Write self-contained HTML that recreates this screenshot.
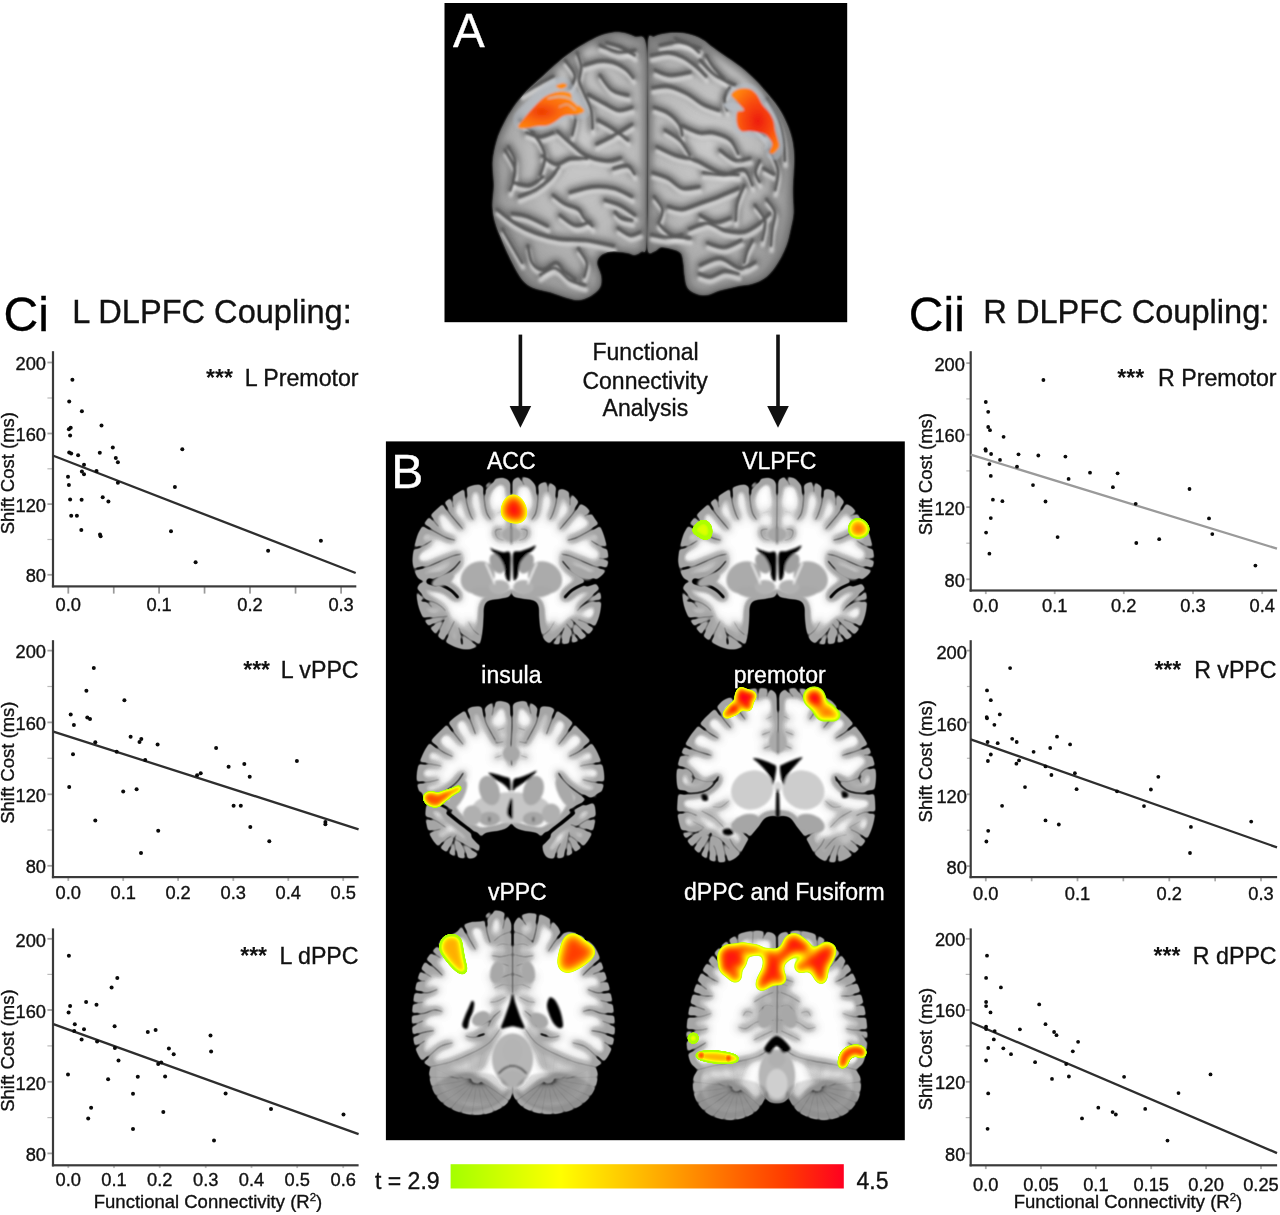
<!DOCTYPE html>
<html lang="en"><head><meta charset="utf-8"><title>Functional connectivity figure</title>
<style>html,body{margin:0;padding:0;background:#fff}body{width:1280px;height:1215px;overflow:hidden}svg{display:block}text{font-family:"Liberation Sans", sans-serif;fill:#111;stroke:#111;stroke-width:.35px}</style></head><body>
<svg width="1280" height="1215" viewBox="0 0 1280 1215">
<defs>
<linearGradient id="cbar" x1="0" y1="0" x2="1" y2="0">
<stop offset="0" stop-color="#a4ff00"/><stop offset="0.28" stop-color="#ffff00"/><stop offset="0.55" stop-color="#ffa400"/><stop offset="0.85" stop-color="#ff3c00"/><stop offset="1" stop-color="#ff0020"/>
</linearGradient>
<filter id="mri" x="-6%" y="-6%" width="112%" height="112%" color-interpolation-filters="sRGB">
<feGaussianBlur in="SourceAlpha" stdDeviation="0.8" result="a1"/>
<feColorMatrix in="a1" type="matrix" values="0 0 0 1 0  0 0 0 1 0  0 0 0 1 0  0 0 0 1 0" result="g1"/>
<feComponentTransfer in="g1" result="s1">
<feFuncR type="table" tableValues="0 0 0.02 0.05 0.1 0.16 0.23 0.30 0.37 0.44 0.50 0.55 0.58 0.61 0.63 0.64 0.65 0.65 0.65 0.65 0.65"/><feFuncG type="table" tableValues="0 0 0.02 0.05 0.1 0.16 0.23 0.30 0.37 0.44 0.50 0.55 0.58 0.61 0.63 0.64 0.65 0.65 0.65 0.65 0.65"/><feFuncB type="table" tableValues="0 0 0.02 0.05 0.1 0.16 0.23 0.30 0.37 0.44 0.50 0.55 0.58 0.61 0.63 0.64 0.65 0.65 0.65 0.65 0.65"/>
<feFuncA type="table" tableValues="0 1 1 1 1 1 1 1 1 1 1"/>
</feComponentTransfer>
<feGaussianBlur in="SourceAlpha" stdDeviation="4" result="a2"/>
<feColorMatrix in="a2" type="matrix" values="0 0 0 1 0  0 0 0 1 0  0 0 0 1 0  0 0 0 1 0" result="g2"/>
<feComponentTransfer in="g2" result="s2">
<feFuncR type="table" tableValues="0 0 0 0 0 0 0 0 0 0 0 0 0 0 0 0 0 0.03 0.12 0.28 0.35"/><feFuncG type="table" tableValues="0 0 0 0 0 0 0 0 0 0 0 0 0 0 0 0 0 0.03 0.12 0.28 0.35"/><feFuncB type="table" tableValues="0 0 0 0 0 0 0 0 0 0 0 0 0 0 0 0 0 0.03 0.12 0.28 0.35"/>
<feFuncA type="table" tableValues="0 1 1 1 1 1 1 1 1 1 1"/>
</feComponentTransfer>
<feComposite in="s1" in2="s2" operator="arithmetic" k1="0" k2="1" k3="1" k4="0"/>
</filter>


<filter id="bl1" x="-10%" y="-10%" width="120%" height="120%"><feGaussianBlur stdDeviation="0.8"/></filter>
<filter id="bl2" x="-15%" y="-15%" width="130%" height="130%"><feGaussianBlur stdDeviation="1.6"/></filter>
<filter id="bl3" x="-20%" y="-20%" width="140%" height="140%"><feGaussianBlur stdDeviation="3"/></filter>
</defs>

<rect width="1280" height="1215" fill="#fff"/>
<rect x="444.5" y="3" width="402.7" height="319.2" fill="#000"/>
<rect x="385.9" y="441.4" width="518.9" height="698.8" fill="#000"/>
<defs>
<radialGradient id="hgL" cx="0.58" cy="0.42" r="0.62"><stop offset="0" stop-color="#cacaca"/><stop offset="0.55" stop-color="#bababa"/><stop offset="1" stop-color="#929292"/></radialGradient>
<radialGradient id="hgR" cx="0.42" cy="0.42" r="0.62"><stop offset="0" stop-color="#cacaca"/><stop offset="0.55" stop-color="#bababa"/><stop offset="1" stop-color="#929292"/></radialGradient>
<clipPath id="cpL"><path d="M645.9,45.3C643.9,31.5 638.9,39.0 634.7,36.9C630.5,34.8 625.3,33.1 620.6,32.7C615.9,32.2 611.2,32.9 606.6,34.1C601.9,35.2 597.7,37.1 592.5,39.7C587.3,42.3 581.2,45.8 575.6,49.5C570.0,53.3 564.1,57.7 558.8,62.2C553.4,66.6 548.7,71.3 543.3,76.2C537.9,81.2 531.3,86.6 526.4,91.7C521.5,96.9 517.5,101.8 513.8,107.2C510.0,112.6 506.7,118.4 503.9,124.1C501.1,129.7 498.7,134.6 496.9,140.9C495.0,147.3 493.4,154.7 492.9,162.0C492.5,169.4 494.1,177.8 494.1,185.2C494.0,192.5 492.4,199.9 492.7,206.2C492.9,212.6 493.8,217.3 495.5,223.1C497.1,229.0 499.7,234.8 502.5,241.4C505.3,248.0 509.1,256.2 512.3,262.5C515.6,268.8 518.7,275.2 522.2,279.4C525.7,283.6 528.8,285.7 533.4,287.8C538.1,289.9 544.7,290.4 550.3,292.0C555.9,293.7 562.5,296.4 567.2,297.7C571.9,298.9 574.7,300.0 578.4,299.8C582.2,299.5 586.2,298.2 589.7,296.2C593.2,294.3 597.7,291.1 599.5,287.8C601.4,284.5 601.4,280.8 600.9,276.6C600.5,272.3 596.5,266.2 596.7,262.5C597.0,258.8 599.5,255.9 602.3,254.1C605.2,252.2 609.4,251.5 613.6,251.2C617.8,251.0 624.1,252.1 627.7,252.7C631.2,253.2 632.3,255.0 634.7,254.8C637.0,254.5 639.8,252.5 641.7,251.2C643.6,250.0 645.1,255.6 645.9,247.0C646.8,238.5 646.5,221.2 646.6,200.0C646.7,178.8 646.9,145.8 646.8,120.0C646.7,94.2 648.0,59.2 645.9,45.3Z"/></clipPath><clipPath id="cpR"><path d="M648.2,43.9C649.1,30.1 650.7,38.6 654.1,36.9C657.4,35.1 662.7,33.8 668.1,33.4C673.5,32.9 680.8,33.0 686.4,34.1C692.0,35.1 697.4,37.3 701.9,39.7C706.3,42.0 708.9,45.1 713.1,48.1C717.3,51.2 722.5,54.7 727.2,58.0C731.9,61.2 736.6,64.1 741.2,67.8C745.9,71.6 751.1,76.2 755.3,80.5C759.5,84.7 762.8,88.7 766.6,93.1C770.3,97.6 774.5,102.3 777.8,107.2C781.1,112.1 783.9,117.3 786.2,122.7C788.6,128.0 790.6,133.7 791.9,139.5C793.2,145.4 793.8,152.0 794.0,157.8C794.2,163.7 793.5,169.0 793.3,174.7C793.0,180.4 792.6,185.8 792.6,192.2C792.6,198.6 793.6,207.2 793.3,213.3C792.9,219.4 791.6,223.4 790.5,228.8C789.3,234.1 788.4,240.0 786.2,245.6C784.1,251.2 781.1,257.3 777.8,262.5C774.5,267.7 770.8,273.0 766.6,276.6C762.3,280.1 757.7,282.0 752.5,283.6C747.3,285.2 741.2,285.2 735.6,286.4C730.0,287.6 723.4,289.2 718.8,290.6C714.1,292.0 711.2,294.4 707.5,294.8C703.8,295.3 699.5,294.6 696.2,293.4C693.0,292.3 689.7,290.6 687.8,287.8C685.9,285.0 685.7,280.8 685.0,276.6C684.3,272.3 684.3,266.5 683.6,262.5C682.9,258.5 682.9,255.0 680.8,252.7C678.7,250.3 674.2,249.4 670.9,248.4C667.7,247.5 663.9,246.6 661.1,247.0C658.3,247.5 656.3,251.0 654.1,251.2C651.8,251.5 648.7,257.0 647.7,248.4C646.8,239.9 648.1,221.4 648.2,200.0C648.3,178.6 648.3,146.0 648.3,120.0C648.3,94.0 647.2,57.8 648.2,43.9Z"/></clipPath>
</defs>
<g filter="url(#bl1)"><path d="M645.9,45.3C643.9,31.5 638.9,39.0 634.7,36.9C630.5,34.8 625.3,33.1 620.6,32.7C615.9,32.2 611.2,32.9 606.6,34.1C601.9,35.2 597.7,37.1 592.5,39.7C587.3,42.3 581.2,45.8 575.6,49.5C570.0,53.3 564.1,57.7 558.8,62.2C553.4,66.6 548.7,71.3 543.3,76.2C537.9,81.2 531.3,86.6 526.4,91.7C521.5,96.9 517.5,101.8 513.8,107.2C510.0,112.6 506.7,118.4 503.9,124.1C501.1,129.7 498.7,134.6 496.9,140.9C495.0,147.3 493.4,154.7 492.9,162.0C492.5,169.4 494.1,177.8 494.1,185.2C494.0,192.5 492.4,199.9 492.7,206.2C492.9,212.6 493.8,217.3 495.5,223.1C497.1,229.0 499.7,234.8 502.5,241.4C505.3,248.0 509.1,256.2 512.3,262.5C515.6,268.8 518.7,275.2 522.2,279.4C525.7,283.6 528.8,285.7 533.4,287.8C538.1,289.9 544.7,290.4 550.3,292.0C555.9,293.7 562.5,296.4 567.2,297.7C571.9,298.9 574.7,300.0 578.4,299.8C582.2,299.5 586.2,298.2 589.7,296.2C593.2,294.3 597.7,291.1 599.5,287.8C601.4,284.5 601.4,280.8 600.9,276.6C600.5,272.3 596.5,266.2 596.7,262.5C597.0,258.8 599.5,255.9 602.3,254.1C605.2,252.2 609.4,251.5 613.6,251.2C617.8,251.0 624.1,252.1 627.7,252.7C631.2,253.2 632.3,255.0 634.7,254.8C637.0,254.5 639.8,252.5 641.7,251.2C643.6,250.0 645.1,255.6 645.9,247.0C646.8,238.5 646.5,221.2 646.6,200.0C646.7,178.8 646.9,145.8 646.8,120.0C646.7,94.2 648.0,59.2 645.9,45.3Z" fill="url(#hgL)"/></g>
<g clip-path="url(#cpL)">
<g filter="url(#bl3)" fill="none" stroke-linecap="round" stroke-linejoin="round">
<path d="M645.9,45.3C643.9,31.5 638.9,39.0 634.7,36.9C630.5,34.8 625.3,33.1 620.6,32.7C615.9,32.2 611.2,32.9 606.6,34.1C601.9,35.2 597.7,37.1 592.5,39.7C587.3,42.3 581.2,45.8 575.6,49.5C570.0,53.3 564.1,57.7 558.8,62.2C553.4,66.6 548.7,71.3 543.3,76.2C537.9,81.2 531.3,86.6 526.4,91.7C521.5,96.9 517.5,101.8 513.8,107.2C510.0,112.6 506.7,118.4 503.9,124.1C501.1,129.7 498.7,134.6 496.9,140.9C495.0,147.3 493.4,154.7 492.9,162.0C492.5,169.4 494.1,177.8 494.1,185.2C494.0,192.5 492.4,199.9 492.7,206.2C492.9,212.6 493.8,217.3 495.5,223.1C497.1,229.0 499.7,234.8 502.5,241.4C505.3,248.0 509.1,256.2 512.3,262.5C515.6,268.8 518.7,275.2 522.2,279.4C525.7,283.6 528.8,285.7 533.4,287.8C538.1,289.9 544.7,290.4 550.3,292.0C555.9,293.7 562.5,296.4 567.2,297.7C571.9,298.9 574.7,300.0 578.4,299.8C582.2,299.5 586.2,298.2 589.7,296.2C593.2,294.3 597.7,291.1 599.5,287.8C601.4,284.5 601.4,280.8 600.9,276.6C600.5,272.3 596.5,266.2 596.7,262.5C597.0,258.8 599.5,255.9 602.3,254.1C605.2,252.2 609.4,251.5 613.6,251.2C617.8,251.0 624.1,252.1 627.7,252.7C631.2,253.2 632.3,255.0 634.7,254.8C637.0,254.5 639.8,252.5 641.7,251.2C643.6,250.0 645.1,255.6 645.9,247.0C646.8,238.5 646.5,221.2 646.6,200.0C646.7,178.8 646.9,145.8 646.8,120.0C646.7,94.2 648.0,59.2 645.9,45.3Z" stroke="#6a6a6a" stroke-width="9" opacity="0.75"/>
<path d="M577.0,52.3C577.7,54.7 580.9,61.7 581.2,66.4C581.6,71.1 578.7,76.0 579.1,80.5C579.6,84.9 582.1,88.2 584.1,93.1C586.1,98.0 589.7,104.1 591.1,110.0C592.5,115.9 592.3,125.2 592.5,128.3" stroke="#707070" stroke-width="9" opacity="0.95"/>
<path d="M584.1,65.0C586.6,64.3 594.6,61.2 599.5,60.8C604.5,60.3 609.1,60.8 613.6,62.2C618.0,63.6 623.0,66.6 626.2,69.2C629.5,71.8 632.1,76.2 633.3,77.7" stroke="#707070" stroke-width="9" opacity="0.95"/>
<path d="M588.3,94.5C590.9,95.9 598.8,100.4 603.8,103.0C608.7,105.5 613.1,109.3 617.8,110.0C622.5,110.7 629.5,107.7 631.9,107.2" stroke="#707070" stroke-width="9" opacity="0.95"/>
<path d="M557.3,131.1C559.7,133.2 566.7,139.8 571.4,143.8C576.1,147.7 579.6,152.2 585.5,155.0C591.3,157.8 600.7,160.2 606.6,160.6C612.4,161.1 618.3,158.3 620.6,157.8" stroke="#707070" stroke-width="9" opacity="0.95"/>
<path d="M596.7,143.8C599.5,142.3 607.7,138.6 613.6,135.3C619.5,132.0 628.8,125.9 631.9,124.1" stroke="#707070" stroke-width="9" opacity="0.95"/>
<path d="M508.1,146.6C509.3,148.9 514.5,154.8 515.2,160.6C515.9,166.5 512.8,178.2 512.3,181.7" stroke="#707070" stroke-width="9" opacity="0.95"/>
<path d="M522.2,93.1C525.0,91.5 533.9,86.1 539.1,83.3C544.2,80.5 550.8,77.4 553.1,76.2" stroke="#707070" stroke-width="9" opacity="0.95"/>
<path d="M606.6,42.5C608.9,43.2 615.9,44.6 620.6,46.7C625.3,48.8 632.3,53.8 634.7,55.2" stroke="#707070" stroke-width="9" opacity="0.95"/>
<path d="M526.4,132.5C528.5,133.2 534.6,136.7 539.1,136.7C543.5,136.7 550.8,133.2 553.1,132.5" stroke="#707070" stroke-width="9" opacity="0.95"/>
<path d="M512.3,182.3C515.2,182.8 524.1,186.1 529.2,185.2C534.4,184.2 540.9,178.1 543.3,176.7" stroke="#707070" stroke-width="9" opacity="0.95"/>
<path d="M519.4,196.4C522.2,195.2 531.1,192.4 536.2,189.4C541.4,186.3 546.6,181.9 550.3,178.1C554.1,174.4 557.3,168.8 558.8,166.9" stroke="#707070" stroke-width="9" opacity="0.95"/>
<path d="M553.1,195.0C555.0,196.4 560.2,201.1 564.4,203.4C568.6,205.8 575.2,206.7 578.4,209.1C581.7,211.4 581.7,214.7 584.1,217.5C586.4,220.3 591.1,224.5 592.5,225.9" stroke="#707070" stroke-width="9" opacity="0.95"/>
<path d="M570.0,192.2C573.8,191.2 585.2,187.3 592.5,186.6C599.8,185.9 607.0,186.3 613.6,188.0C620.2,189.6 628.8,195.0 631.9,196.4" stroke="#707070" stroke-width="9" opacity="0.95"/>
<path d="M541.9,155.6C544.2,157.0 551.2,163.6 555.9,164.1C560.6,164.5 564.8,159.4 570.0,158.4C575.2,157.5 584.1,158.4 586.9,158.4" stroke="#707070" stroke-width="9" opacity="0.95"/>
<path d="M496.9,209.1C499.9,211.4 508.6,219.1 515.2,223.1C521.7,227.1 529.0,230.4 536.2,233.0C543.5,235.5 550.5,237.4 558.8,238.6C567.0,239.8 576.3,238.8 585.5,240.0C594.6,241.2 608.9,244.7 613.6,245.6" stroke="#707070" stroke-width="9" opacity="0.95"/>
<path d="M512.3,213.3C514.7,213.8 520.5,214.0 526.4,216.1C532.3,218.2 544.0,224.3 547.5,225.9" stroke="#707070" stroke-width="9" opacity="0.95"/>
<path d="M527.8,245.6C528.5,248.4 529.5,258.5 532.0,262.5C534.6,266.5 539.3,269.5 543.3,269.5C547.3,269.5 552.4,262.3 555.9,262.5C559.5,262.7 561.1,268.1 564.4,270.9C567.7,273.8 573.8,278.0 575.6,279.4" stroke="#707070" stroke-width="9" opacity="0.95"/>
<path d="M615.0,211.9C615.9,212.8 617.8,216.1 620.6,217.5C623.4,218.9 630.0,219.8 631.9,220.3" stroke="#707070" stroke-width="9" opacity="0.95"/>
<path d="M613.6,168.3C615.9,167.8 624.1,164.5 627.7,165.5C631.2,166.4 633.5,172.5 634.7,173.9" stroke="#707070" stroke-width="9" opacity="0.95"/>
<path d="M578.4,248.4C579.8,250.8 585.9,257.8 586.9,262.5C587.8,267.2 584.5,274.2 584.1,276.6" stroke="#707070" stroke-width="9" opacity="0.95"/>
<path d="M502.5,228.8C504.1,231.6 509.1,240.0 512.3,245.6C515.6,251.2 520.5,259.7 522.2,262.5" stroke="#707070" stroke-width="9" opacity="0.95"/>
<path d="M520.0,120.0C522.5,122.5 530.8,129.2 535.0,135.0C539.2,140.8 544.2,148.3 545.0,155.0C545.8,161.7 540.8,171.7 540.0,175.0" stroke="#707070" stroke-width="9" opacity="0.95"/>
<path d="M560.0,100.0C562.5,102.5 573.0,109.2 575.0,115.0C577.0,120.8 572.5,131.7 572.0,135.0" stroke="#707070" stroke-width="9" opacity="0.95"/>
<path d="M600.0,75.0C602.0,77.5 607.3,86.7 612.0,90.0C616.7,93.3 625.3,94.2 628.0,95.0" stroke="#707070" stroke-width="9" opacity="0.95"/>
<path d="M598.0,120.0C600.3,121.3 607.0,124.7 612.0,128.0C617.0,131.3 625.3,138.0 628.0,140.0" stroke="#707070" stroke-width="9" opacity="0.95"/>
<path d="M560.0,215.0C562.5,216.7 570.0,223.8 575.0,225.0C580.0,226.2 587.5,222.5 590.0,222.0" stroke="#707070" stroke-width="9" opacity="0.95"/>
<path d="M605.0,200.0C607.5,200.8 615.0,202.5 620.0,205.0C625.0,207.5 632.5,213.3 635.0,215.0" stroke="#707070" stroke-width="9" opacity="0.95"/>
<path d="M540.0,275.0C542.5,273.8 550.0,267.2 555.0,268.0C560.0,268.8 565.0,277.2 570.0,280.0C575.0,282.8 582.5,284.2 585.0,285.0" stroke="#707070" stroke-width="9" opacity="0.95"/>
<path d="M505.0,150.0C506.7,153.3 514.2,163.3 515.0,170.0C515.8,176.7 510.8,186.7 510.0,190.0" stroke="#707070" stroke-width="9" opacity="0.95"/>
<path d="M600.0,45.0C603.0,46.2 612.2,51.2 618.0,52.0C623.8,52.8 632.2,50.3 635.0,50.0" stroke="#707070" stroke-width="9" opacity="0.95"/>
<path d="M565.0,60.0C566.7,62.5 574.2,70.3 575.0,75.0C575.8,79.7 570.8,85.8 570.0,88.0" stroke="#707070" stroke-width="9" opacity="0.95"/>
<path d="M618.0,228.0C620.0,229.2 626.3,234.3 630.0,235.0C633.7,235.7 638.3,232.5 640.0,232.0" stroke="#707070" stroke-width="9" opacity="0.95"/>
</g>
<g filter="url(#bl2)" fill="none" stroke-linecap="round" stroke-linejoin="round">
<path d="M577.0,52.3C577.7,54.7 580.9,61.7 581.2,66.4C581.6,71.1 578.7,76.0 579.1,80.5C579.6,84.9 582.1,88.2 584.1,93.1C586.1,98.0 589.7,104.1 591.1,110.0C592.5,115.9 592.3,125.2 592.5,128.3" stroke="#dadada" stroke-width="5" transform="translate(0.8,5)" opacity="0.8"/>
<path d="M584.1,65.0C586.6,64.3 594.6,61.2 599.5,60.8C604.5,60.3 609.1,60.8 613.6,62.2C618.0,63.6 623.0,66.6 626.2,69.2C629.5,71.8 632.1,76.2 633.3,77.7" stroke="#dadada" stroke-width="5" transform="translate(0.8,5)" opacity="0.8"/>
<path d="M588.3,94.5C590.9,95.9 598.8,100.4 603.8,103.0C608.7,105.5 613.1,109.3 617.8,110.0C622.5,110.7 629.5,107.7 631.9,107.2" stroke="#dadada" stroke-width="5" transform="translate(0.8,5)" opacity="0.8"/>
<path d="M557.3,131.1C559.7,133.2 566.7,139.8 571.4,143.8C576.1,147.7 579.6,152.2 585.5,155.0C591.3,157.8 600.7,160.2 606.6,160.6C612.4,161.1 618.3,158.3 620.6,157.8" stroke="#dadada" stroke-width="5" transform="translate(0.8,5)" opacity="0.8"/>
<path d="M596.7,143.8C599.5,142.3 607.7,138.6 613.6,135.3C619.5,132.0 628.8,125.9 631.9,124.1" stroke="#dadada" stroke-width="5" transform="translate(0.8,5)" opacity="0.8"/>
<path d="M508.1,146.6C509.3,148.9 514.5,154.8 515.2,160.6C515.9,166.5 512.8,178.2 512.3,181.7" stroke="#dadada" stroke-width="5" transform="translate(0.8,5)" opacity="0.8"/>
<path d="M522.2,93.1C525.0,91.5 533.9,86.1 539.1,83.3C544.2,80.5 550.8,77.4 553.1,76.2" stroke="#dadada" stroke-width="5" transform="translate(0.8,5)" opacity="0.8"/>
<path d="M606.6,42.5C608.9,43.2 615.9,44.6 620.6,46.7C625.3,48.8 632.3,53.8 634.7,55.2" stroke="#dadada" stroke-width="5" transform="translate(0.8,5)" opacity="0.8"/>
<path d="M526.4,132.5C528.5,133.2 534.6,136.7 539.1,136.7C543.5,136.7 550.8,133.2 553.1,132.5" stroke="#dadada" stroke-width="5" transform="translate(0.8,5)" opacity="0.8"/>
<path d="M512.3,182.3C515.2,182.8 524.1,186.1 529.2,185.2C534.4,184.2 540.9,178.1 543.3,176.7" stroke="#dadada" stroke-width="5" transform="translate(0.8,5)" opacity="0.8"/>
<path d="M519.4,196.4C522.2,195.2 531.1,192.4 536.2,189.4C541.4,186.3 546.6,181.9 550.3,178.1C554.1,174.4 557.3,168.8 558.8,166.9" stroke="#dadada" stroke-width="5" transform="translate(0.8,5)" opacity="0.8"/>
<path d="M553.1,195.0C555.0,196.4 560.2,201.1 564.4,203.4C568.6,205.8 575.2,206.7 578.4,209.1C581.7,211.4 581.7,214.7 584.1,217.5C586.4,220.3 591.1,224.5 592.5,225.9" stroke="#dadada" stroke-width="5" transform="translate(0.8,5)" opacity="0.8"/>
<path d="M570.0,192.2C573.8,191.2 585.2,187.3 592.5,186.6C599.8,185.9 607.0,186.3 613.6,188.0C620.2,189.6 628.8,195.0 631.9,196.4" stroke="#dadada" stroke-width="5" transform="translate(0.8,5)" opacity="0.8"/>
<path d="M541.9,155.6C544.2,157.0 551.2,163.6 555.9,164.1C560.6,164.5 564.8,159.4 570.0,158.4C575.2,157.5 584.1,158.4 586.9,158.4" stroke="#dadada" stroke-width="5" transform="translate(0.8,5)" opacity="0.8"/>
<path d="M496.9,209.1C499.9,211.4 508.6,219.1 515.2,223.1C521.7,227.1 529.0,230.4 536.2,233.0C543.5,235.5 550.5,237.4 558.8,238.6C567.0,239.8 576.3,238.8 585.5,240.0C594.6,241.2 608.9,244.7 613.6,245.6" stroke="#dadada" stroke-width="5" transform="translate(0.8,5)" opacity="0.8"/>
<path d="M512.3,213.3C514.7,213.8 520.5,214.0 526.4,216.1C532.3,218.2 544.0,224.3 547.5,225.9" stroke="#dadada" stroke-width="5" transform="translate(0.8,5)" opacity="0.8"/>
<path d="M527.8,245.6C528.5,248.4 529.5,258.5 532.0,262.5C534.6,266.5 539.3,269.5 543.3,269.5C547.3,269.5 552.4,262.3 555.9,262.5C559.5,262.7 561.1,268.1 564.4,270.9C567.7,273.8 573.8,278.0 575.6,279.4" stroke="#dadada" stroke-width="5" transform="translate(0.8,5)" opacity="0.8"/>
<path d="M615.0,211.9C615.9,212.8 617.8,216.1 620.6,217.5C623.4,218.9 630.0,219.8 631.9,220.3" stroke="#dadada" stroke-width="5" transform="translate(0.8,5)" opacity="0.8"/>
<path d="M613.6,168.3C615.9,167.8 624.1,164.5 627.7,165.5C631.2,166.4 633.5,172.5 634.7,173.9" stroke="#dadada" stroke-width="5" transform="translate(0.8,5)" opacity="0.8"/>
<path d="M578.4,248.4C579.8,250.8 585.9,257.8 586.9,262.5C587.8,267.2 584.5,274.2 584.1,276.6" stroke="#dadada" stroke-width="5" transform="translate(0.8,5)" opacity="0.8"/>
<path d="M502.5,228.8C504.1,231.6 509.1,240.0 512.3,245.6C515.6,251.2 520.5,259.7 522.2,262.5" stroke="#dadada" stroke-width="5" transform="translate(0.8,5)" opacity="0.8"/>
<path d="M520.0,120.0C522.5,122.5 530.8,129.2 535.0,135.0C539.2,140.8 544.2,148.3 545.0,155.0C545.8,161.7 540.8,171.7 540.0,175.0" stroke="#dadada" stroke-width="5" transform="translate(0.8,5)" opacity="0.8"/>
<path d="M560.0,100.0C562.5,102.5 573.0,109.2 575.0,115.0C577.0,120.8 572.5,131.7 572.0,135.0" stroke="#dadada" stroke-width="5" transform="translate(0.8,5)" opacity="0.8"/>
<path d="M600.0,75.0C602.0,77.5 607.3,86.7 612.0,90.0C616.7,93.3 625.3,94.2 628.0,95.0" stroke="#dadada" stroke-width="5" transform="translate(0.8,5)" opacity="0.8"/>
<path d="M598.0,120.0C600.3,121.3 607.0,124.7 612.0,128.0C617.0,131.3 625.3,138.0 628.0,140.0" stroke="#dadada" stroke-width="5" transform="translate(0.8,5)" opacity="0.8"/>
<path d="M560.0,215.0C562.5,216.7 570.0,223.8 575.0,225.0C580.0,226.2 587.5,222.5 590.0,222.0" stroke="#dadada" stroke-width="5" transform="translate(0.8,5)" opacity="0.8"/>
<path d="M605.0,200.0C607.5,200.8 615.0,202.5 620.0,205.0C625.0,207.5 632.5,213.3 635.0,215.0" stroke="#dadada" stroke-width="5" transform="translate(0.8,5)" opacity="0.8"/>
<path d="M540.0,275.0C542.5,273.8 550.0,267.2 555.0,268.0C560.0,268.8 565.0,277.2 570.0,280.0C575.0,282.8 582.5,284.2 585.0,285.0" stroke="#dadada" stroke-width="5" transform="translate(0.8,5)" opacity="0.8"/>
<path d="M505.0,150.0C506.7,153.3 514.2,163.3 515.0,170.0C515.8,176.7 510.8,186.7 510.0,190.0" stroke="#dadada" stroke-width="5" transform="translate(0.8,5)" opacity="0.8"/>
<path d="M600.0,45.0C603.0,46.2 612.2,51.2 618.0,52.0C623.8,52.8 632.2,50.3 635.0,50.0" stroke="#dadada" stroke-width="5" transform="translate(0.8,5)" opacity="0.8"/>
<path d="M565.0,60.0C566.7,62.5 574.2,70.3 575.0,75.0C575.8,79.7 570.8,85.8 570.0,88.0" stroke="#dadada" stroke-width="5" transform="translate(0.8,5)" opacity="0.8"/>
<path d="M618.0,228.0C620.0,229.2 626.3,234.3 630.0,235.0C633.7,235.7 638.3,232.5 640.0,232.0" stroke="#dadada" stroke-width="5" transform="translate(0.8,5)" opacity="0.8"/>
</g>
<g filter="url(#bl1)" fill="none" stroke-linecap="round" stroke-linejoin="round">
<path d="M577.0,52.3C577.7,54.7 580.9,61.7 581.2,66.4C581.6,71.1 578.7,76.0 579.1,80.5C579.6,84.9 582.1,88.2 584.1,93.1C586.1,98.0 589.7,104.1 591.1,110.0C592.5,115.9 592.3,125.2 592.5,128.3" stroke="#585858" stroke-width="3.2"/>
<path d="M584.1,65.0C586.6,64.3 594.6,61.2 599.5,60.8C604.5,60.3 609.1,60.8 613.6,62.2C618.0,63.6 623.0,66.6 626.2,69.2C629.5,71.8 632.1,76.2 633.3,77.7" stroke="#585858" stroke-width="3.2"/>
<path d="M588.3,94.5C590.9,95.9 598.8,100.4 603.8,103.0C608.7,105.5 613.1,109.3 617.8,110.0C622.5,110.7 629.5,107.7 631.9,107.2" stroke="#585858" stroke-width="3.2"/>
<path d="M557.3,131.1C559.7,133.2 566.7,139.8 571.4,143.8C576.1,147.7 579.6,152.2 585.5,155.0C591.3,157.8 600.7,160.2 606.6,160.6C612.4,161.1 618.3,158.3 620.6,157.8" stroke="#585858" stroke-width="3.2"/>
<path d="M596.7,143.8C599.5,142.3 607.7,138.6 613.6,135.3C619.5,132.0 628.8,125.9 631.9,124.1" stroke="#585858" stroke-width="3.2"/>
<path d="M508.1,146.6C509.3,148.9 514.5,154.8 515.2,160.6C515.9,166.5 512.8,178.2 512.3,181.7" stroke="#585858" stroke-width="3.2"/>
<path d="M522.2,93.1C525.0,91.5 533.9,86.1 539.1,83.3C544.2,80.5 550.8,77.4 553.1,76.2" stroke="#585858" stroke-width="3.2"/>
<path d="M606.6,42.5C608.9,43.2 615.9,44.6 620.6,46.7C625.3,48.8 632.3,53.8 634.7,55.2" stroke="#585858" stroke-width="3.2"/>
<path d="M526.4,132.5C528.5,133.2 534.6,136.7 539.1,136.7C543.5,136.7 550.8,133.2 553.1,132.5" stroke="#585858" stroke-width="3.2"/>
<path d="M512.3,182.3C515.2,182.8 524.1,186.1 529.2,185.2C534.4,184.2 540.9,178.1 543.3,176.7" stroke="#585858" stroke-width="3.2"/>
<path d="M519.4,196.4C522.2,195.2 531.1,192.4 536.2,189.4C541.4,186.3 546.6,181.9 550.3,178.1C554.1,174.4 557.3,168.8 558.8,166.9" stroke="#585858" stroke-width="3.2"/>
<path d="M553.1,195.0C555.0,196.4 560.2,201.1 564.4,203.4C568.6,205.8 575.2,206.7 578.4,209.1C581.7,211.4 581.7,214.7 584.1,217.5C586.4,220.3 591.1,224.5 592.5,225.9" stroke="#585858" stroke-width="3.2"/>
<path d="M570.0,192.2C573.8,191.2 585.2,187.3 592.5,186.6C599.8,185.9 607.0,186.3 613.6,188.0C620.2,189.6 628.8,195.0 631.9,196.4" stroke="#585858" stroke-width="3.2"/>
<path d="M541.9,155.6C544.2,157.0 551.2,163.6 555.9,164.1C560.6,164.5 564.8,159.4 570.0,158.4C575.2,157.5 584.1,158.4 586.9,158.4" stroke="#585858" stroke-width="3.2"/>
<path d="M496.9,209.1C499.9,211.4 508.6,219.1 515.2,223.1C521.7,227.1 529.0,230.4 536.2,233.0C543.5,235.5 550.5,237.4 558.8,238.6C567.0,239.8 576.3,238.8 585.5,240.0C594.6,241.2 608.9,244.7 613.6,245.6" stroke="#585858" stroke-width="3.2"/>
<path d="M512.3,213.3C514.7,213.8 520.5,214.0 526.4,216.1C532.3,218.2 544.0,224.3 547.5,225.9" stroke="#585858" stroke-width="3.2"/>
<path d="M527.8,245.6C528.5,248.4 529.5,258.5 532.0,262.5C534.6,266.5 539.3,269.5 543.3,269.5C547.3,269.5 552.4,262.3 555.9,262.5C559.5,262.7 561.1,268.1 564.4,270.9C567.7,273.8 573.8,278.0 575.6,279.4" stroke="#585858" stroke-width="3.2"/>
<path d="M615.0,211.9C615.9,212.8 617.8,216.1 620.6,217.5C623.4,218.9 630.0,219.8 631.9,220.3" stroke="#585858" stroke-width="3.2"/>
<path d="M613.6,168.3C615.9,167.8 624.1,164.5 627.7,165.5C631.2,166.4 633.5,172.5 634.7,173.9" stroke="#585858" stroke-width="3.2"/>
<path d="M578.4,248.4C579.8,250.8 585.9,257.8 586.9,262.5C587.8,267.2 584.5,274.2 584.1,276.6" stroke="#585858" stroke-width="3.2"/>
<path d="M502.5,228.8C504.1,231.6 509.1,240.0 512.3,245.6C515.6,251.2 520.5,259.7 522.2,262.5" stroke="#585858" stroke-width="3.2"/>
<path d="M520.0,120.0C522.5,122.5 530.8,129.2 535.0,135.0C539.2,140.8 544.2,148.3 545.0,155.0C545.8,161.7 540.8,171.7 540.0,175.0" stroke="#585858" stroke-width="3.2"/>
<path d="M560.0,100.0C562.5,102.5 573.0,109.2 575.0,115.0C577.0,120.8 572.5,131.7 572.0,135.0" stroke="#585858" stroke-width="3.2"/>
<path d="M600.0,75.0C602.0,77.5 607.3,86.7 612.0,90.0C616.7,93.3 625.3,94.2 628.0,95.0" stroke="#585858" stroke-width="3.2"/>
<path d="M598.0,120.0C600.3,121.3 607.0,124.7 612.0,128.0C617.0,131.3 625.3,138.0 628.0,140.0" stroke="#585858" stroke-width="3.2"/>
<path d="M560.0,215.0C562.5,216.7 570.0,223.8 575.0,225.0C580.0,226.2 587.5,222.5 590.0,222.0" stroke="#585858" stroke-width="3.2"/>
<path d="M605.0,200.0C607.5,200.8 615.0,202.5 620.0,205.0C625.0,207.5 632.5,213.3 635.0,215.0" stroke="#585858" stroke-width="3.2"/>
<path d="M540.0,275.0C542.5,273.8 550.0,267.2 555.0,268.0C560.0,268.8 565.0,277.2 570.0,280.0C575.0,282.8 582.5,284.2 585.0,285.0" stroke="#585858" stroke-width="3.2"/>
<path d="M505.0,150.0C506.7,153.3 514.2,163.3 515.0,170.0C515.8,176.7 510.8,186.7 510.0,190.0" stroke="#585858" stroke-width="3.2"/>
<path d="M600.0,45.0C603.0,46.2 612.2,51.2 618.0,52.0C623.8,52.8 632.2,50.3 635.0,50.0" stroke="#585858" stroke-width="3.2"/>
<path d="M565.0,60.0C566.7,62.5 574.2,70.3 575.0,75.0C575.8,79.7 570.8,85.8 570.0,88.0" stroke="#585858" stroke-width="3.2"/>
<path d="M618.0,228.0C620.0,229.2 626.3,234.3 630.0,235.0C633.7,235.7 638.3,232.5 640.0,232.0" stroke="#585858" stroke-width="3.2"/>
</g>
</g>
<g filter="url(#bl1)"><path d="M648.2,43.9C649.1,30.1 650.7,38.6 654.1,36.9C657.4,35.1 662.7,33.8 668.1,33.4C673.5,32.9 680.8,33.0 686.4,34.1C692.0,35.1 697.4,37.3 701.9,39.7C706.3,42.0 708.9,45.1 713.1,48.1C717.3,51.2 722.5,54.7 727.2,58.0C731.9,61.2 736.6,64.1 741.2,67.8C745.9,71.6 751.1,76.2 755.3,80.5C759.5,84.7 762.8,88.7 766.6,93.1C770.3,97.6 774.5,102.3 777.8,107.2C781.1,112.1 783.9,117.3 786.2,122.7C788.6,128.0 790.6,133.7 791.9,139.5C793.2,145.4 793.8,152.0 794.0,157.8C794.2,163.7 793.5,169.0 793.3,174.7C793.0,180.4 792.6,185.8 792.6,192.2C792.6,198.6 793.6,207.2 793.3,213.3C792.9,219.4 791.6,223.4 790.5,228.8C789.3,234.1 788.4,240.0 786.2,245.6C784.1,251.2 781.1,257.3 777.8,262.5C774.5,267.7 770.8,273.0 766.6,276.6C762.3,280.1 757.7,282.0 752.5,283.6C747.3,285.2 741.2,285.2 735.6,286.4C730.0,287.6 723.4,289.2 718.8,290.6C714.1,292.0 711.2,294.4 707.5,294.8C703.8,295.3 699.5,294.6 696.2,293.4C693.0,292.3 689.7,290.6 687.8,287.8C685.9,285.0 685.7,280.8 685.0,276.6C684.3,272.3 684.3,266.5 683.6,262.5C682.9,258.5 682.9,255.0 680.8,252.7C678.7,250.3 674.2,249.4 670.9,248.4C667.7,247.5 663.9,246.6 661.1,247.0C658.3,247.5 656.3,251.0 654.1,251.2C651.8,251.5 648.7,257.0 647.7,248.4C646.8,239.9 648.1,221.4 648.2,200.0C648.3,178.6 648.3,146.0 648.3,120.0C648.3,94.0 647.2,57.8 648.2,43.9Z" fill="url(#hgR)"/></g>
<g clip-path="url(#cpR)">
<g filter="url(#bl3)" fill="none" stroke-linecap="round" stroke-linejoin="round">
<path d="M648.2,43.9C649.1,30.1 650.7,38.6 654.1,36.9C657.4,35.1 662.7,33.8 668.1,33.4C673.5,32.9 680.8,33.0 686.4,34.1C692.0,35.1 697.4,37.3 701.9,39.7C706.3,42.0 708.9,45.1 713.1,48.1C717.3,51.2 722.5,54.7 727.2,58.0C731.9,61.2 736.6,64.1 741.2,67.8C745.9,71.6 751.1,76.2 755.3,80.5C759.5,84.7 762.8,88.7 766.6,93.1C770.3,97.6 774.5,102.3 777.8,107.2C781.1,112.1 783.9,117.3 786.2,122.7C788.6,128.0 790.6,133.7 791.9,139.5C793.2,145.4 793.8,152.0 794.0,157.8C794.2,163.7 793.5,169.0 793.3,174.7C793.0,180.4 792.6,185.8 792.6,192.2C792.6,198.6 793.6,207.2 793.3,213.3C792.9,219.4 791.6,223.4 790.5,228.8C789.3,234.1 788.4,240.0 786.2,245.6C784.1,251.2 781.1,257.3 777.8,262.5C774.5,267.7 770.8,273.0 766.6,276.6C762.3,280.1 757.7,282.0 752.5,283.6C747.3,285.2 741.2,285.2 735.6,286.4C730.0,287.6 723.4,289.2 718.8,290.6C714.1,292.0 711.2,294.4 707.5,294.8C703.8,295.3 699.5,294.6 696.2,293.4C693.0,292.3 689.7,290.6 687.8,287.8C685.9,285.0 685.7,280.8 685.0,276.6C684.3,272.3 684.3,266.5 683.6,262.5C682.9,258.5 682.9,255.0 680.8,252.7C678.7,250.3 674.2,249.4 670.9,248.4C667.7,247.5 663.9,246.6 661.1,247.0C658.3,247.5 656.3,251.0 654.1,251.2C651.8,251.5 648.7,257.0 647.7,248.4C646.8,239.9 648.1,221.4 648.2,200.0C648.3,178.6 648.3,146.0 648.3,120.0C648.3,94.0 647.2,57.8 648.2,43.9Z" stroke="#6a6a6a" stroke-width="9" opacity="0.75"/>
<path d="M651.2,55.2C654.1,54.7 663.0,52.1 668.1,52.3C673.3,52.6 677.5,54.2 682.2,56.6C686.9,58.9 692.3,63.1 696.2,66.4C700.2,69.7 704.5,74.6 706.1,76.2" stroke="#707070" stroke-width="9" opacity="0.95"/>
<path d="M706.1,55.2C707.3,57.0 710.1,62.4 713.1,66.4C716.2,70.4 722.5,77.0 724.4,79.1" stroke="#707070" stroke-width="9" opacity="0.95"/>
<path d="M652.7,87.5C655.2,87.3 662.5,85.2 668.1,86.1C673.8,87.0 680.5,90.1 686.4,93.1C692.3,96.2 697.9,101.6 703.3,104.4C708.7,107.2 716.2,109.1 718.8,110.0" stroke="#707070" stroke-width="9" opacity="0.95"/>
<path d="M654.1,107.2C656.4,108.1 663.9,110.0 668.1,112.8C672.3,115.6 677.0,120.3 679.4,124.1C681.7,127.8 681.7,133.4 682.2,135.3" stroke="#707070" stroke-width="9" opacity="0.95"/>
<path d="M682.2,125.5C685.0,126.6 693.9,131.3 699.1,132.5C704.2,133.7 708.0,131.3 713.1,132.5C718.3,133.7 725.8,136.0 730.0,139.5C734.2,143.0 737.0,151.2 738.4,153.6" stroke="#707070" stroke-width="9" opacity="0.95"/>
<path d="M656.9,146.6C659.9,148.0 668.6,152.7 675.2,155.0C681.7,157.3 689.0,157.8 696.2,160.6C703.5,163.4 711.7,169.5 718.8,171.9C725.8,174.2 735.2,174.2 738.4,174.7" stroke="#707070" stroke-width="9" opacity="0.95"/>
<path d="M759.5,160.6C758.8,162.5 755.3,168.4 755.3,171.9C755.3,175.4 758.8,180.1 759.5,181.7" stroke="#707070" stroke-width="9" opacity="0.95"/>
<path d="M766.6,98.8C768.4,102.0 775.0,111.6 777.8,118.4C780.6,125.2 782.3,132.5 783.4,139.5C784.6,146.6 784.6,157.1 784.8,160.6" stroke="#707070" stroke-width="9" opacity="0.95"/>
<path d="M675.2,38.3C677.5,39.2 685.2,41.6 689.2,43.9C693.2,46.2 697.4,50.9 699.1,52.3" stroke="#707070" stroke-width="9" opacity="0.95"/>
<path d="M730.0,87.5C729.1,89.4 724.8,95.0 724.4,98.8C723.9,102.5 726.7,108.1 727.2,110.0" stroke="#707070" stroke-width="9" opacity="0.95"/>
<path d="M652.7,172.5C655.2,173.4 663.2,175.5 668.1,178.1C673.0,180.7 677.0,186.6 682.2,188.0C687.3,189.4 696.2,186.8 699.1,186.6" stroke="#707070" stroke-width="9" opacity="0.95"/>
<path d="M703.3,172.5C706.8,172.9 717.6,175.1 724.4,174.6C731.2,174.1 739.4,167.9 744.1,169.7C748.8,171.4 751.1,182.6 752.5,185.2" stroke="#707070" stroke-width="9" opacity="0.95"/>
<path d="M668.1,206.2C670.5,206.7 677.0,209.5 682.2,209.1C687.3,208.6 693.0,205.5 699.1,203.4C705.2,201.3 712.2,199.0 718.8,196.4C725.3,193.8 735.2,189.4 738.4,188.0" stroke="#707070" stroke-width="9" opacity="0.95"/>
<path d="M744.1,185.2C742.9,188.2 738.4,197.6 737.0,203.4C735.6,209.3 735.9,217.5 735.6,220.3" stroke="#707070" stroke-width="9" opacity="0.95"/>
<path d="M689.2,228.8C692.3,227.8 701.6,222.9 707.5,223.1C713.4,223.4 718.3,228.8 724.4,230.2C730.5,231.6 738.2,232.7 744.1,231.6C749.9,230.4 755.3,226.2 759.5,223.1C763.8,220.1 767.7,214.9 769.4,213.3" stroke="#707070" stroke-width="9" opacity="0.95"/>
<path d="M707.5,242.8C710.3,243.5 718.8,247.5 724.4,247.0C730.0,246.6 738.4,241.2 741.2,240.0" stroke="#707070" stroke-width="9" opacity="0.95"/>
<path d="M744.1,262.5C744.5,260.6 745.5,255.0 746.9,251.2C748.3,247.5 751.6,241.9 752.5,240.0" stroke="#707070" stroke-width="9" opacity="0.95"/>
<path d="M699.1,273.8C700.9,274.2 706.1,277.0 710.3,276.6C714.5,276.1 719.7,271.4 724.4,270.9C729.1,270.5 736.1,273.3 738.4,273.8" stroke="#707070" stroke-width="9" opacity="0.95"/>
<path d="M766.6,199.2C768.0,201.3 774.1,207.0 775.0,211.9C775.9,216.8 772.9,223.1 772.2,228.8C771.5,234.4 771.0,242.8 770.8,245.6" stroke="#707070" stroke-width="9" opacity="0.95"/>
<path d="M763.8,168.3L773.6,173.9" stroke="#707070" stroke-width="9" opacity="0.95"/>
<path d="M654.1,196.4C655.5,198.5 661.8,204.6 662.5,209.1C663.2,213.5 659.0,220.8 658.3,223.1" stroke="#707070" stroke-width="9" opacity="0.95"/>
<path d="M651.2,234.4C654.1,234.8 663.0,237.2 668.1,237.2C673.3,237.2 679.8,234.8 682.2,234.4" stroke="#707070" stroke-width="9" opacity="0.95"/>
<path d="M700.0,60.0C702.5,62.5 709.2,70.8 715.0,75.0C720.8,79.2 731.7,83.3 735.0,85.0" stroke="#707070" stroke-width="9" opacity="0.95"/>
<path d="M740.0,100.0C741.7,103.3 745.8,114.2 750.0,120.0C754.2,125.8 762.5,132.5 765.0,135.0" stroke="#707070" stroke-width="9" opacity="0.95"/>
<path d="M720.0,150.0C722.5,151.7 730.0,158.7 735.0,160.0C740.0,161.3 747.5,158.3 750.0,158.0" stroke="#707070" stroke-width="9" opacity="0.95"/>
<path d="M770.0,150.0C771.3,153.3 777.2,163.3 778.0,170.0C778.8,176.7 775.5,186.7 775.0,190.0" stroke="#707070" stroke-width="9" opacity="0.95"/>
<path d="M665.0,130.0C667.5,131.7 675.8,135.8 680.0,140.0C684.2,144.2 688.3,152.5 690.0,155.0" stroke="#707070" stroke-width="9" opacity="0.95"/>
<path d="M700.0,215.0C702.5,216.2 710.0,221.5 715.0,222.0C720.0,222.5 727.5,218.7 730.0,218.0" stroke="#707070" stroke-width="9" opacity="0.95"/>
<path d="M660.0,225.0C662.0,226.7 667.0,232.8 672.0,235.0C677.0,237.2 687.0,237.5 690.0,238.0" stroke="#707070" stroke-width="9" opacity="0.95"/>
<path d="M700.0,265.0C703.3,263.8 713.3,257.5 720.0,258.0C726.7,258.5 734.2,267.3 740.0,268.0C745.8,268.7 752.5,263.0 755.0,262.0" stroke="#707070" stroke-width="9" opacity="0.95"/>
<path d="M755.0,205.0C756.7,207.5 763.8,214.2 765.0,220.0C766.2,225.8 762.5,236.7 762.0,240.0" stroke="#707070" stroke-width="9" opacity="0.95"/>
<path d="M660.0,45.0C663.3,44.5 673.3,41.5 680.0,42.0C686.7,42.5 696.7,47.0 700.0,48.0" stroke="#707070" stroke-width="9" opacity="0.95"/>
<path d="M655.0,70.0C657.5,70.8 664.2,74.7 670.0,75.0C675.8,75.3 686.7,72.5 690.0,72.0" stroke="#707070" stroke-width="9" opacity="0.95"/>
</g>
<g filter="url(#bl2)" fill="none" stroke-linecap="round" stroke-linejoin="round">
<path d="M651.2,55.2C654.1,54.7 663.0,52.1 668.1,52.3C673.3,52.6 677.5,54.2 682.2,56.6C686.9,58.9 692.3,63.1 696.2,66.4C700.2,69.7 704.5,74.6 706.1,76.2" stroke="#dadada" stroke-width="5" transform="translate(0.8,5)" opacity="0.8"/>
<path d="M706.1,55.2C707.3,57.0 710.1,62.4 713.1,66.4C716.2,70.4 722.5,77.0 724.4,79.1" stroke="#dadada" stroke-width="5" transform="translate(0.8,5)" opacity="0.8"/>
<path d="M652.7,87.5C655.2,87.3 662.5,85.2 668.1,86.1C673.8,87.0 680.5,90.1 686.4,93.1C692.3,96.2 697.9,101.6 703.3,104.4C708.7,107.2 716.2,109.1 718.8,110.0" stroke="#dadada" stroke-width="5" transform="translate(0.8,5)" opacity="0.8"/>
<path d="M654.1,107.2C656.4,108.1 663.9,110.0 668.1,112.8C672.3,115.6 677.0,120.3 679.4,124.1C681.7,127.8 681.7,133.4 682.2,135.3" stroke="#dadada" stroke-width="5" transform="translate(0.8,5)" opacity="0.8"/>
<path d="M682.2,125.5C685.0,126.6 693.9,131.3 699.1,132.5C704.2,133.7 708.0,131.3 713.1,132.5C718.3,133.7 725.8,136.0 730.0,139.5C734.2,143.0 737.0,151.2 738.4,153.6" stroke="#dadada" stroke-width="5" transform="translate(0.8,5)" opacity="0.8"/>
<path d="M656.9,146.6C659.9,148.0 668.6,152.7 675.2,155.0C681.7,157.3 689.0,157.8 696.2,160.6C703.5,163.4 711.7,169.5 718.8,171.9C725.8,174.2 735.2,174.2 738.4,174.7" stroke="#dadada" stroke-width="5" transform="translate(0.8,5)" opacity="0.8"/>
<path d="M759.5,160.6C758.8,162.5 755.3,168.4 755.3,171.9C755.3,175.4 758.8,180.1 759.5,181.7" stroke="#dadada" stroke-width="5" transform="translate(0.8,5)" opacity="0.8"/>
<path d="M766.6,98.8C768.4,102.0 775.0,111.6 777.8,118.4C780.6,125.2 782.3,132.5 783.4,139.5C784.6,146.6 784.6,157.1 784.8,160.6" stroke="#dadada" stroke-width="5" transform="translate(0.8,5)" opacity="0.8"/>
<path d="M675.2,38.3C677.5,39.2 685.2,41.6 689.2,43.9C693.2,46.2 697.4,50.9 699.1,52.3" stroke="#dadada" stroke-width="5" transform="translate(0.8,5)" opacity="0.8"/>
<path d="M730.0,87.5C729.1,89.4 724.8,95.0 724.4,98.8C723.9,102.5 726.7,108.1 727.2,110.0" stroke="#dadada" stroke-width="5" transform="translate(0.8,5)" opacity="0.8"/>
<path d="M652.7,172.5C655.2,173.4 663.2,175.5 668.1,178.1C673.0,180.7 677.0,186.6 682.2,188.0C687.3,189.4 696.2,186.8 699.1,186.6" stroke="#dadada" stroke-width="5" transform="translate(0.8,5)" opacity="0.8"/>
<path d="M703.3,172.5C706.8,172.9 717.6,175.1 724.4,174.6C731.2,174.1 739.4,167.9 744.1,169.7C748.8,171.4 751.1,182.6 752.5,185.2" stroke="#dadada" stroke-width="5" transform="translate(0.8,5)" opacity="0.8"/>
<path d="M668.1,206.2C670.5,206.7 677.0,209.5 682.2,209.1C687.3,208.6 693.0,205.5 699.1,203.4C705.2,201.3 712.2,199.0 718.8,196.4C725.3,193.8 735.2,189.4 738.4,188.0" stroke="#dadada" stroke-width="5" transform="translate(0.8,5)" opacity="0.8"/>
<path d="M744.1,185.2C742.9,188.2 738.4,197.6 737.0,203.4C735.6,209.3 735.9,217.5 735.6,220.3" stroke="#dadada" stroke-width="5" transform="translate(0.8,5)" opacity="0.8"/>
<path d="M689.2,228.8C692.3,227.8 701.6,222.9 707.5,223.1C713.4,223.4 718.3,228.8 724.4,230.2C730.5,231.6 738.2,232.7 744.1,231.6C749.9,230.4 755.3,226.2 759.5,223.1C763.8,220.1 767.7,214.9 769.4,213.3" stroke="#dadada" stroke-width="5" transform="translate(0.8,5)" opacity="0.8"/>
<path d="M707.5,242.8C710.3,243.5 718.8,247.5 724.4,247.0C730.0,246.6 738.4,241.2 741.2,240.0" stroke="#dadada" stroke-width="5" transform="translate(0.8,5)" opacity="0.8"/>
<path d="M744.1,262.5C744.5,260.6 745.5,255.0 746.9,251.2C748.3,247.5 751.6,241.9 752.5,240.0" stroke="#dadada" stroke-width="5" transform="translate(0.8,5)" opacity="0.8"/>
<path d="M699.1,273.8C700.9,274.2 706.1,277.0 710.3,276.6C714.5,276.1 719.7,271.4 724.4,270.9C729.1,270.5 736.1,273.3 738.4,273.8" stroke="#dadada" stroke-width="5" transform="translate(0.8,5)" opacity="0.8"/>
<path d="M766.6,199.2C768.0,201.3 774.1,207.0 775.0,211.9C775.9,216.8 772.9,223.1 772.2,228.8C771.5,234.4 771.0,242.8 770.8,245.6" stroke="#dadada" stroke-width="5" transform="translate(0.8,5)" opacity="0.8"/>
<path d="M763.8,168.3L773.6,173.9" stroke="#dadada" stroke-width="5" transform="translate(0.8,5)" opacity="0.8"/>
<path d="M654.1,196.4C655.5,198.5 661.8,204.6 662.5,209.1C663.2,213.5 659.0,220.8 658.3,223.1" stroke="#dadada" stroke-width="5" transform="translate(0.8,5)" opacity="0.8"/>
<path d="M651.2,234.4C654.1,234.8 663.0,237.2 668.1,237.2C673.3,237.2 679.8,234.8 682.2,234.4" stroke="#dadada" stroke-width="5" transform="translate(0.8,5)" opacity="0.8"/>
<path d="M700.0,60.0C702.5,62.5 709.2,70.8 715.0,75.0C720.8,79.2 731.7,83.3 735.0,85.0" stroke="#dadada" stroke-width="5" transform="translate(0.8,5)" opacity="0.8"/>
<path d="M740.0,100.0C741.7,103.3 745.8,114.2 750.0,120.0C754.2,125.8 762.5,132.5 765.0,135.0" stroke="#dadada" stroke-width="5" transform="translate(0.8,5)" opacity="0.8"/>
<path d="M720.0,150.0C722.5,151.7 730.0,158.7 735.0,160.0C740.0,161.3 747.5,158.3 750.0,158.0" stroke="#dadada" stroke-width="5" transform="translate(0.8,5)" opacity="0.8"/>
<path d="M770.0,150.0C771.3,153.3 777.2,163.3 778.0,170.0C778.8,176.7 775.5,186.7 775.0,190.0" stroke="#dadada" stroke-width="5" transform="translate(0.8,5)" opacity="0.8"/>
<path d="M665.0,130.0C667.5,131.7 675.8,135.8 680.0,140.0C684.2,144.2 688.3,152.5 690.0,155.0" stroke="#dadada" stroke-width="5" transform="translate(0.8,5)" opacity="0.8"/>
<path d="M700.0,215.0C702.5,216.2 710.0,221.5 715.0,222.0C720.0,222.5 727.5,218.7 730.0,218.0" stroke="#dadada" stroke-width="5" transform="translate(0.8,5)" opacity="0.8"/>
<path d="M660.0,225.0C662.0,226.7 667.0,232.8 672.0,235.0C677.0,237.2 687.0,237.5 690.0,238.0" stroke="#dadada" stroke-width="5" transform="translate(0.8,5)" opacity="0.8"/>
<path d="M700.0,265.0C703.3,263.8 713.3,257.5 720.0,258.0C726.7,258.5 734.2,267.3 740.0,268.0C745.8,268.7 752.5,263.0 755.0,262.0" stroke="#dadada" stroke-width="5" transform="translate(0.8,5)" opacity="0.8"/>
<path d="M755.0,205.0C756.7,207.5 763.8,214.2 765.0,220.0C766.2,225.8 762.5,236.7 762.0,240.0" stroke="#dadada" stroke-width="5" transform="translate(0.8,5)" opacity="0.8"/>
<path d="M660.0,45.0C663.3,44.5 673.3,41.5 680.0,42.0C686.7,42.5 696.7,47.0 700.0,48.0" stroke="#dadada" stroke-width="5" transform="translate(0.8,5)" opacity="0.8"/>
<path d="M655.0,70.0C657.5,70.8 664.2,74.7 670.0,75.0C675.8,75.3 686.7,72.5 690.0,72.0" stroke="#dadada" stroke-width="5" transform="translate(0.8,5)" opacity="0.8"/>
</g>
<g filter="url(#bl1)" fill="none" stroke-linecap="round" stroke-linejoin="round">
<path d="M651.2,55.2C654.1,54.7 663.0,52.1 668.1,52.3C673.3,52.6 677.5,54.2 682.2,56.6C686.9,58.9 692.3,63.1 696.2,66.4C700.2,69.7 704.5,74.6 706.1,76.2" stroke="#585858" stroke-width="3.2"/>
<path d="M706.1,55.2C707.3,57.0 710.1,62.4 713.1,66.4C716.2,70.4 722.5,77.0 724.4,79.1" stroke="#585858" stroke-width="3.2"/>
<path d="M652.7,87.5C655.2,87.3 662.5,85.2 668.1,86.1C673.8,87.0 680.5,90.1 686.4,93.1C692.3,96.2 697.9,101.6 703.3,104.4C708.7,107.2 716.2,109.1 718.8,110.0" stroke="#585858" stroke-width="3.2"/>
<path d="M654.1,107.2C656.4,108.1 663.9,110.0 668.1,112.8C672.3,115.6 677.0,120.3 679.4,124.1C681.7,127.8 681.7,133.4 682.2,135.3" stroke="#585858" stroke-width="3.2"/>
<path d="M682.2,125.5C685.0,126.6 693.9,131.3 699.1,132.5C704.2,133.7 708.0,131.3 713.1,132.5C718.3,133.7 725.8,136.0 730.0,139.5C734.2,143.0 737.0,151.2 738.4,153.6" stroke="#585858" stroke-width="3.2"/>
<path d="M656.9,146.6C659.9,148.0 668.6,152.7 675.2,155.0C681.7,157.3 689.0,157.8 696.2,160.6C703.5,163.4 711.7,169.5 718.8,171.9C725.8,174.2 735.2,174.2 738.4,174.7" stroke="#585858" stroke-width="3.2"/>
<path d="M759.5,160.6C758.8,162.5 755.3,168.4 755.3,171.9C755.3,175.4 758.8,180.1 759.5,181.7" stroke="#585858" stroke-width="3.2"/>
<path d="M766.6,98.8C768.4,102.0 775.0,111.6 777.8,118.4C780.6,125.2 782.3,132.5 783.4,139.5C784.6,146.6 784.6,157.1 784.8,160.6" stroke="#585858" stroke-width="3.2"/>
<path d="M675.2,38.3C677.5,39.2 685.2,41.6 689.2,43.9C693.2,46.2 697.4,50.9 699.1,52.3" stroke="#585858" stroke-width="3.2"/>
<path d="M730.0,87.5C729.1,89.4 724.8,95.0 724.4,98.8C723.9,102.5 726.7,108.1 727.2,110.0" stroke="#585858" stroke-width="3.2"/>
<path d="M652.7,172.5C655.2,173.4 663.2,175.5 668.1,178.1C673.0,180.7 677.0,186.6 682.2,188.0C687.3,189.4 696.2,186.8 699.1,186.6" stroke="#585858" stroke-width="3.2"/>
<path d="M703.3,172.5C706.8,172.9 717.6,175.1 724.4,174.6C731.2,174.1 739.4,167.9 744.1,169.7C748.8,171.4 751.1,182.6 752.5,185.2" stroke="#585858" stroke-width="3.2"/>
<path d="M668.1,206.2C670.5,206.7 677.0,209.5 682.2,209.1C687.3,208.6 693.0,205.5 699.1,203.4C705.2,201.3 712.2,199.0 718.8,196.4C725.3,193.8 735.2,189.4 738.4,188.0" stroke="#585858" stroke-width="3.2"/>
<path d="M744.1,185.2C742.9,188.2 738.4,197.6 737.0,203.4C735.6,209.3 735.9,217.5 735.6,220.3" stroke="#585858" stroke-width="3.2"/>
<path d="M689.2,228.8C692.3,227.8 701.6,222.9 707.5,223.1C713.4,223.4 718.3,228.8 724.4,230.2C730.5,231.6 738.2,232.7 744.1,231.6C749.9,230.4 755.3,226.2 759.5,223.1C763.8,220.1 767.7,214.9 769.4,213.3" stroke="#585858" stroke-width="3.2"/>
<path d="M707.5,242.8C710.3,243.5 718.8,247.5 724.4,247.0C730.0,246.6 738.4,241.2 741.2,240.0" stroke="#585858" stroke-width="3.2"/>
<path d="M744.1,262.5C744.5,260.6 745.5,255.0 746.9,251.2C748.3,247.5 751.6,241.9 752.5,240.0" stroke="#585858" stroke-width="3.2"/>
<path d="M699.1,273.8C700.9,274.2 706.1,277.0 710.3,276.6C714.5,276.1 719.7,271.4 724.4,270.9C729.1,270.5 736.1,273.3 738.4,273.8" stroke="#585858" stroke-width="3.2"/>
<path d="M766.6,199.2C768.0,201.3 774.1,207.0 775.0,211.9C775.9,216.8 772.9,223.1 772.2,228.8C771.5,234.4 771.0,242.8 770.8,245.6" stroke="#585858" stroke-width="3.2"/>
<path d="M763.8,168.3L773.6,173.9" stroke="#585858" stroke-width="3.2"/>
<path d="M654.1,196.4C655.5,198.5 661.8,204.6 662.5,209.1C663.2,213.5 659.0,220.8 658.3,223.1" stroke="#585858" stroke-width="3.2"/>
<path d="M651.2,234.4C654.1,234.8 663.0,237.2 668.1,237.2C673.3,237.2 679.8,234.8 682.2,234.4" stroke="#585858" stroke-width="3.2"/>
<path d="M700.0,60.0C702.5,62.5 709.2,70.8 715.0,75.0C720.8,79.2 731.7,83.3 735.0,85.0" stroke="#585858" stroke-width="3.2"/>
<path d="M740.0,100.0C741.7,103.3 745.8,114.2 750.0,120.0C754.2,125.8 762.5,132.5 765.0,135.0" stroke="#585858" stroke-width="3.2"/>
<path d="M720.0,150.0C722.5,151.7 730.0,158.7 735.0,160.0C740.0,161.3 747.5,158.3 750.0,158.0" stroke="#585858" stroke-width="3.2"/>
<path d="M770.0,150.0C771.3,153.3 777.2,163.3 778.0,170.0C778.8,176.7 775.5,186.7 775.0,190.0" stroke="#585858" stroke-width="3.2"/>
<path d="M665.0,130.0C667.5,131.7 675.8,135.8 680.0,140.0C684.2,144.2 688.3,152.5 690.0,155.0" stroke="#585858" stroke-width="3.2"/>
<path d="M700.0,215.0C702.5,216.2 710.0,221.5 715.0,222.0C720.0,222.5 727.5,218.7 730.0,218.0" stroke="#585858" stroke-width="3.2"/>
<path d="M660.0,225.0C662.0,226.7 667.0,232.8 672.0,235.0C677.0,237.2 687.0,237.5 690.0,238.0" stroke="#585858" stroke-width="3.2"/>
<path d="M700.0,265.0C703.3,263.8 713.3,257.5 720.0,258.0C726.7,258.5 734.2,267.3 740.0,268.0C745.8,268.7 752.5,263.0 755.0,262.0" stroke="#585858" stroke-width="3.2"/>
<path d="M755.0,205.0C756.7,207.5 763.8,214.2 765.0,220.0C766.2,225.8 762.5,236.7 762.0,240.0" stroke="#585858" stroke-width="3.2"/>
<path d="M660.0,45.0C663.3,44.5 673.3,41.5 680.0,42.0C686.7,42.5 696.7,47.0 700.0,48.0" stroke="#585858" stroke-width="3.2"/>
<path d="M655.0,70.0C657.5,70.8 664.2,74.7 670.0,75.0C675.8,75.3 686.7,72.5 690.0,72.0" stroke="#585858" stroke-width="3.2"/>
</g>
</g>
<defs><radialGradient id="agL" cx="0.36" cy="0.55" r="0.6"><stop offset="0" stop-color="#ee3a06"/><stop offset="0.45" stop-color="#fb6a08"/><stop offset="1" stop-color="#ff8e12"/></radialGradient>
<radialGradient id="agR" cx="0.55" cy="0.5" r="0.6"><stop offset="0" stop-color="#ee1c08"/><stop offset="0.5" stop-color="#f84a08"/><stop offset="1" stop-color="#ff8410"/></radialGradient></defs>
<g filter="url(#bl1)">
<path d="M515.2,118.4C516.6,114.2 522.4,110.0 526.4,105.8C530.4,101.6 534.6,97.1 539.1,93.1C543.5,89.1 548.4,84.0 553.1,81.9C557.8,79.8 563.0,78.6 567.2,80.5C571.4,82.3 574.7,88.2 578.4,93.1C582.2,98.0 588.3,105.3 589.7,110.0C591.1,114.7 590.2,119.4 586.9,121.2C583.6,123.1 575.6,119.8 570.0,121.2C564.4,122.7 559.2,127.8 553.1,129.7C547.0,131.6 539.3,132.3 533.4,132.5C527.6,132.7 521.0,133.4 518.0,131.1C514.9,128.8 513.8,122.7 515.2,118.4Z" fill="#b4bcc4" opacity="0.55" transform="translate(-1.5,-2.5)"/>
<path d="M518.0,126.9C517.7,125.0 522.0,120.8 525.0,117.0C528.0,113.3 532.7,107.9 536.2,104.4C539.8,100.9 542.3,98.0 546.1,95.9C549.8,93.8 554.8,92.2 558.8,91.7C562.7,91.2 567.7,91.7 570.0,93.1C572.3,94.5 570.5,97.3 572.8,100.2C575.2,103.0 583.1,107.7 584.1,110.0C585.0,112.3 581.7,113.3 578.4,114.2C575.2,115.2 568.1,114.5 564.4,115.6C560.6,116.8 558.8,119.6 555.9,121.2C553.1,122.9 550.8,124.6 547.5,125.5C544.2,126.3 539.8,125.7 536.2,126.2C532.7,126.6 529.5,128.2 526.4,128.3C523.4,128.4 518.2,128.8 518.0,126.9Z" fill="url(#agL)"/>
<path d="M555.9,86.1C556.2,85.2 561.1,83.4 563.0,83.3C564.8,83.2 567.4,84.5 567.2,85.4C567.0,86.3 563.4,88.8 561.6,88.9C559.7,89.0 555.7,87.0 555.9,86.1Z" fill="#ff8a10"/>
<path d="M547.5,98.8C549.4,98.4 555.0,96.6 558.8,96.6C562.5,96.6 566.7,97.2 570.0,98.8C573.3,100.3 577.0,104.6 578.4,105.8" fill="none" stroke="#c4c8cc" stroke-width="1.6" opacity="0.8"/>
<path d="M558.8,107.2C560.2,106.7 564.4,103.9 567.2,104.4C570.0,104.8 574.2,109.1 575.6,110.0" fill="none" stroke="#c4c8cc" stroke-width="1.3" opacity="0.7"/>
<path d="M727.2,93.1C728.4,88.4 734.2,86.1 738.4,84.7C742.7,83.3 748.3,82.8 752.5,84.7C756.7,86.6 760.0,91.5 763.8,95.9C767.5,100.4 772.2,106.2 775.0,111.4C777.8,116.6 779.2,121.0 780.6,126.9C782.0,132.7 783.9,141.2 783.4,146.6C783.0,152.0 780.6,157.6 777.8,159.2C775.0,160.9 768.9,159.5 766.6,156.4C764.2,153.4 767.0,144.2 763.8,140.9C760.5,137.7 751.8,138.4 746.9,136.7C742.0,135.1 736.8,135.1 734.2,131.1C731.6,127.1 732.6,119.1 731.4,112.8C730.2,106.5 726.0,97.8 727.2,93.1Z" fill="#b4bcc4" opacity="0.55"/>
<path d="M731.4,94.5C731.9,92.7 735.4,89.8 738.4,88.9C741.5,88.0 746.6,88.0 749.7,88.9C752.7,89.8 754.6,92.0 756.7,94.5C758.8,97.1 760.2,101.3 762.3,104.4C764.5,107.4 767.5,110.0 769.4,112.8C771.2,115.6 772.7,118.4 773.6,121.2C774.5,124.1 774.3,126.6 775.0,129.7C775.7,132.7 777.1,136.7 777.8,139.5C778.5,142.3 779.9,144.2 779.2,146.6C778.5,148.9 775.2,152.7 773.6,153.6C772.0,154.5 769.6,153.8 769.4,152.2C769.1,150.5 772.7,146.6 772.2,143.8C771.7,140.9 768.7,137.2 766.6,135.3C764.5,133.4 762.3,133.2 759.5,132.5C756.7,131.8 752.7,131.3 749.7,131.1C746.6,130.9 743.4,132.3 741.2,131.1C739.1,129.9 737.7,127.1 737.0,124.1C736.3,121.0 736.3,115.6 737.0,112.8C737.7,110.0 741.5,109.3 741.2,107.2C741.0,105.1 737.3,102.3 735.6,100.2C734.0,98.0 730.9,96.4 731.4,94.5Z" fill="url(#agR)"/>
<path d="M723.0,104.4C723.2,103.1 727.4,102.3 730.0,102.3C732.6,102.3 736.1,103.1 738.4,104.4C740.8,105.7 744.3,108.8 744.1,110.0C743.8,111.2 739.6,111.4 737.0,111.4C734.5,111.4 730.9,111.2 728.6,110.0C726.2,108.8 722.7,105.7 723.0,104.4Z" fill="#b8bec4" opacity="0.9"/>
<path d="M760.9,138.1C761.9,139.3 766.1,143.3 766.6,145.2C767.0,147.0 764.2,148.7 763.8,149.4" fill="none" stroke="#c4c8cc" stroke-width="1.4" opacity="0.7"/>
</g>
<mask id="mk1" maskUnits="userSpaceOnUse" x="395.0" y="465.0" width="240" height="250">
<g transform="translate(400.00,470.00) scale(0.17188)">
<path d="M648.0,85.0C654.7,84.5 656.3,62.2 665.0,55.0C673.7,47.8 686.7,42.8 700.0,42.0C713.3,41.2 732.5,44.5 745.0,50.0C757.5,55.5 766.7,66.7 775.0,75.0C783.3,83.3 787.5,99.2 795.0,100.0C802.5,100.8 809.2,84.7 820.0,80.0C830.8,75.3 847.5,70.3 860.0,72.0C872.5,73.7 885.8,82.8 895.0,90.0C904.2,97.2 905.8,110.8 915.0,115.0C924.2,119.2 937.5,111.7 950.0,115.0C962.5,118.3 978.3,126.7 990.0,135.0C1001.7,143.3 1010.8,155.0 1020.0,165.0C1029.2,175.0 1035.0,186.7 1045.0,195.0C1055.0,203.3 1069.2,205.8 1080.0,215.0C1090.8,224.2 1100.8,237.5 1110.0,250.0C1119.2,262.5 1126.7,277.5 1135.0,290.0C1143.3,302.5 1152.5,311.7 1160.0,325.0C1167.5,338.3 1174.2,354.2 1180.0,370.0C1185.8,385.8 1190.8,403.3 1195.0,420.0C1199.2,436.7 1202.5,453.3 1205.0,470.0C1207.5,486.7 1210.8,503.3 1210.0,520.0C1209.2,536.7 1205.8,555.0 1200.0,570.0C1194.2,585.0 1185.0,599.2 1175.0,610.0C1165.0,620.8 1150.8,628.3 1140.0,635.0C1129.2,641.7 1110.0,645.0 1110.0,650.0C1110.0,655.0 1131.7,656.7 1140.0,665.0C1148.3,673.3 1155.3,685.8 1160.0,700.0C1164.7,714.2 1167.2,731.7 1168.0,750.0C1168.8,768.3 1168.0,790.0 1165.0,810.0C1162.0,830.0 1156.7,851.7 1150.0,870.0C1143.3,888.3 1135.0,905.0 1125.0,920.0C1115.0,935.0 1103.3,948.3 1090.0,960.0C1076.7,971.7 1061.7,982.5 1045.0,990.0C1028.3,997.5 1009.2,1001.3 990.0,1005.0C970.8,1008.7 948.3,1011.5 930.0,1012.0C911.7,1012.5 894.2,1011.7 880.0,1008.0C865.8,1004.3 854.0,999.7 845.0,990.0C836.0,980.3 830.8,965.0 826.0,950.0C821.2,935.0 818.3,916.7 816.0,900.0C813.7,883.3 813.0,866.7 812.0,850.0C811.0,833.3 812.8,813.7 810.0,800.0C807.2,786.3 803.3,776.0 795.0,768.0C786.7,760.0 774.2,755.7 760.0,752.0C745.8,748.3 725.0,748.3 710.0,746.0C695.0,743.7 679.2,741.7 670.0,738.0C660.8,734.3 658.7,730.3 655.0,724.0C651.3,717.7 650.3,700.0 648.0,700.0C645.7,700.0 644.7,717.7 641.0,724.0C637.3,730.3 635.2,734.3 626.0,738.0C616.8,741.7 601.0,743.7 586.0,746.0C571.0,748.3 550.2,748.3 536.0,752.0C521.8,755.7 509.3,760.0 501.0,768.0C492.7,776.0 488.8,786.3 486.0,800.0C483.2,813.7 484.8,833.3 484.0,850.0C483.2,866.7 482.3,883.3 481.0,900.0C479.7,916.7 478.2,935.0 476.0,950.0C473.8,965.0 471.5,978.3 468.0,990.0C464.5,1001.7 463.8,1012.0 455.0,1020.0C446.2,1028.0 430.0,1034.7 415.0,1038.0C400.0,1041.3 382.5,1042.7 365.0,1040.0C347.5,1037.3 327.5,1029.5 310.0,1022.0C292.5,1014.5 275.8,1005.3 260.0,995.0C244.2,984.7 229.2,973.3 215.0,960.0C200.8,946.7 187.5,930.8 175.0,915.0C162.5,899.2 150.0,882.5 140.0,865.0C130.0,847.5 121.3,828.3 115.0,810.0C108.7,791.7 104.5,773.3 102.0,755.0C99.5,736.7 97.8,715.0 100.0,700.0C102.2,685.0 108.3,673.7 115.0,665.0C121.7,656.3 141.7,654.7 140.0,648.0C138.3,641.3 114.2,636.3 105.0,625.0C95.8,613.7 90.0,595.8 85.0,580.0C80.0,564.2 75.8,547.5 75.0,530.0C74.2,512.5 77.2,493.3 80.0,475.0C82.8,456.7 87.0,438.3 92.0,420.0C97.0,401.7 102.0,382.5 110.0,365.0C118.0,347.5 129.2,330.8 140.0,315.0C150.8,299.2 162.5,284.2 175.0,270.0C187.5,255.8 201.7,242.5 215.0,230.0C228.3,217.5 240.8,206.7 255.0,195.0C269.2,183.3 285.0,170.8 300.0,160.0C315.0,149.2 330.0,139.2 345.0,130.0C360.0,120.8 375.8,111.7 390.0,105.0C404.2,98.3 417.5,92.8 430.0,90.0C442.5,87.2 455.0,85.5 465.0,88.0C475.0,90.5 482.5,106.3 490.0,105.0C497.5,103.7 500.8,87.8 510.0,80.0C519.2,72.2 531.7,63.3 545.0,58.0C558.3,52.7 576.7,48.0 590.0,48.0C603.3,48.0 615.3,51.8 625.0,58.0C634.7,64.2 641.3,85.5 648.0,85.0Z" fill="#fff"/>
<path d="M648.0,60.0C648.0,83.3 648.3,155.0 648.0,200.0C647.7,245.0 646.0,293.3 646.0,330.0C646.0,366.7 647.7,405.0 648.0,420.0" fill="none" stroke="#000" stroke-width="9" stroke-linecap="round" stroke-linejoin="round"/>
<path d="M648,60L648,137" fill="none" stroke="#000" stroke-width="17.099999999999998" stroke-linecap="round"/>
<path d="M797.0,95.0C797.8,107.5 803.2,144.2 802.0,170.0C800.8,195.8 796.2,230.0 790.0,250.0C783.8,270.0 769.2,283.3 765.0,290.0" fill="none" stroke="#000" stroke-width="10" stroke-linecap="round" stroke-linejoin="round"/>
<path d="M797,95L800,136" fill="none" stroke="#000" stroke-width="19.0" stroke-linecap="round"/>
<path d="M914.0,112.0C913.0,125.0 912.8,164.5 908.0,190.0C903.2,215.5 891.3,248.3 885.0,265.0C878.7,281.7 872.5,285.8 870.0,290.0" fill="none" stroke="#000" stroke-width="10" stroke-linecap="round" stroke-linejoin="round"/>
<path d="M914,112L911,155" fill="none" stroke="#000" stroke-width="19.0" stroke-linecap="round"/>
<path d="M1045.0,190.0C1038.3,200.8 1020.0,234.2 1005.0,255.0C990.0,275.8 967.5,300.0 955.0,315.0C942.5,330.0 934.2,340.0 930.0,345.0" fill="none" stroke="#000" stroke-width="10" stroke-linecap="round" stroke-linejoin="round"/>
<path d="M1045,190L1023,226" fill="none" stroke="#000" stroke-width="19.0" stroke-linecap="round"/>
<path d="M1160.0,320.0C1149.2,326.3 1117.5,345.5 1095.0,358.0C1072.5,370.5 1045.0,386.7 1025.0,395.0C1005.0,403.3 983.3,405.8 975.0,408.0" fill="none" stroke="#000" stroke-width="10" stroke-linecap="round" stroke-linejoin="round"/>
<path d="M1160,320L1124,341" fill="none" stroke="#000" stroke-width="19.0" stroke-linecap="round"/>
<path d="M1205.0,455.0C1197.5,452.5 1175.8,447.5 1160.0,440.0C1144.2,432.5 1118.3,415.0 1110.0,410.0" fill="none" stroke="#000" stroke-width="9" stroke-linecap="round" stroke-linejoin="round"/>
<path d="M1205,455L1180,447" fill="none" stroke="#000" stroke-width="17.099999999999998" stroke-linecap="round"/>
<path d="M1200.0,575.0C1188.3,572.5 1153.3,567.5 1130.0,560.0C1106.7,552.5 1083.3,540.0 1060.0,530.0C1036.7,520.0 1010.0,506.7 990.0,500.0C970.0,493.3 948.3,491.7 940.0,490.0" fill="none" stroke="#000" stroke-width="10" stroke-linecap="round" stroke-linejoin="round"/>
<path d="M1200,575L1162,567" fill="none" stroke="#000" stroke-width="19.0" stroke-linecap="round"/>
<path d="M1110.0,650.0C1100.0,645.0 1070.8,632.5 1050.0,620.0C1029.2,607.5 1002.5,590.0 985.0,575.0C967.5,560.0 951.7,537.5 945.0,530.0" fill="none" stroke="#000" stroke-width="13" stroke-linecap="round" stroke-linejoin="round"/>
<path d="M1110,650L1077,634" fill="none" stroke="#000" stroke-width="24.7" stroke-linecap="round"/>
<path d="M1125.0,648.0C1114.2,651.3 1080.8,659.3 1060.0,668.0C1039.2,676.7 1016.7,688.0 1000.0,700.0C983.3,712.0 966.7,733.3 960.0,740.0" fill="none" stroke="#000" stroke-width="22" stroke-linecap="round" stroke-linejoin="round"/>
<path d="M1125,648L1089,659" fill="none" stroke="#000" stroke-width="41.8" stroke-linecap="round"/>
<path d="M1168.0,760.0C1158.3,760.8 1128.0,760.0 1110.0,765.0C1092.0,770.0 1073.3,780.8 1060.0,790.0C1046.7,799.2 1035.0,815.0 1030.0,820.0" fill="none" stroke="#000" stroke-width="9" stroke-linecap="round" stroke-linejoin="round"/>
<path d="M1168,760L1136,763" fill="none" stroke="#000" stroke-width="17.099999999999998" stroke-linecap="round"/>
<path d="M1130.0,915.0C1120.8,910.0 1090.8,892.5 1075.0,885.0C1059.2,877.5 1041.7,872.5 1035.0,870.0" fill="none" stroke="#000" stroke-width="9" stroke-linecap="round" stroke-linejoin="round"/>
<path d="M1130,915L1100,898" fill="none" stroke="#000" stroke-width="17.099999999999998" stroke-linecap="round"/>
<path d="M935.0,1012.0C935.8,1003.3 936.7,976.2 940.0,960.0C943.3,943.8 952.5,922.5 955.0,915.0" fill="none" stroke="#000" stroke-width="9" stroke-linecap="round" stroke-linejoin="round"/>
<path d="M935,1012L938,983" fill="none" stroke="#000" stroke-width="17.099999999999998" stroke-linecap="round"/>
<path d="M835.0,960.0C840.8,955.0 859.2,943.3 870.0,930.0C880.8,916.7 895.0,888.3 900.0,880.0" fill="none" stroke="#000" stroke-width="8" stroke-linecap="round" stroke-linejoin="round"/>
<path d="M700.0,345.0C706.7,345.8 735.0,341.7 740.0,350.0C745.0,358.3 738.3,385.0 730.0,395.0C721.7,405.0 696.7,407.5 690.0,410.0" fill="none" stroke="#000" stroke-width="8" stroke-linecap="round" stroke-linejoin="round"/>
<path d="M690.0,240.0L735.0,250.0" fill="none" stroke="#000" stroke-width="7" stroke-linecap="round" stroke-linejoin="round"/>
<path d="M492.0,100.0C491.7,111.7 487.8,145.0 490.0,170.0C492.2,195.0 498.3,230.0 505.0,250.0C511.7,270.0 525.8,283.3 530.0,290.0" fill="none" stroke="#000" stroke-width="10" stroke-linecap="round" stroke-linejoin="round"/>
<path d="M492,100L491,138" fill="none" stroke="#000" stroke-width="19.0" stroke-linecap="round"/>
<path d="M382.0,112.0C383.0,125.0 383.2,164.5 388.0,190.0C392.8,215.5 404.7,248.3 411.0,265.0C417.3,281.7 423.5,285.8 426.0,290.0" fill="none" stroke="#000" stroke-width="10" stroke-linecap="round" stroke-linejoin="round"/>
<path d="M382,112L385,155" fill="none" stroke="#000" stroke-width="19.0" stroke-linecap="round"/>
<path d="M251.0,190.0C257.7,200.8 276.0,234.2 291.0,255.0C306.0,275.8 328.5,300.0 341.0,315.0C353.5,330.0 361.8,340.0 366.0,345.0" fill="none" stroke="#000" stroke-width="10" stroke-linecap="round" stroke-linejoin="round"/>
<path d="M251,190L273,226" fill="none" stroke="#000" stroke-width="19.0" stroke-linecap="round"/>
<path d="M136.0,320.0C146.8,326.3 178.5,345.5 201.0,358.0C223.5,370.5 251.0,386.7 271.0,395.0C291.0,403.3 312.7,405.8 321.0,408.0" fill="none" stroke="#000" stroke-width="10" stroke-linecap="round" stroke-linejoin="round"/>
<path d="M136,320L172,341" fill="none" stroke="#000" stroke-width="19.0" stroke-linecap="round"/>
<path d="M91.0,455.0C98.5,452.5 120.2,447.5 136.0,440.0C151.8,432.5 177.7,415.0 186.0,410.0" fill="none" stroke="#000" stroke-width="9" stroke-linecap="round" stroke-linejoin="round"/>
<path d="M91,455L116,447" fill="none" stroke="#000" stroke-width="17.099999999999998" stroke-linecap="round"/>
<path d="M96.0,575.0C107.7,572.5 142.7,567.5 166.0,560.0C189.3,552.5 212.7,540.0 236.0,530.0C259.3,520.0 286.0,506.7 306.0,500.0C326.0,493.3 347.7,491.7 356.0,490.0" fill="none" stroke="#000" stroke-width="10" stroke-linecap="round" stroke-linejoin="round"/>
<path d="M96,575L134,567" fill="none" stroke="#000" stroke-width="19.0" stroke-linecap="round"/>
<path d="M186.0,650.0C196.0,645.0 225.2,632.5 246.0,620.0C266.8,607.5 293.5,590.0 311.0,575.0C328.5,560.0 344.3,537.5 351.0,530.0" fill="none" stroke="#000" stroke-width="13" stroke-linecap="round" stroke-linejoin="round"/>
<path d="M186,650L219,634" fill="none" stroke="#000" stroke-width="24.7" stroke-linecap="round"/>
<path d="M171.0,648.0C181.8,651.3 215.2,659.3 236.0,668.0C256.8,676.7 279.3,688.0 296.0,700.0C312.7,712.0 329.3,733.3 336.0,740.0" fill="none" stroke="#000" stroke-width="22" stroke-linecap="round" stroke-linejoin="round"/>
<path d="M171,648L207,659" fill="none" stroke="#000" stroke-width="41.8" stroke-linecap="round"/>
<path d="M128.0,760.0C137.7,760.8 168.0,760.0 186.0,765.0C204.0,770.0 222.7,780.8 236.0,790.0C249.3,799.2 261.0,815.0 266.0,820.0" fill="none" stroke="#000" stroke-width="9" stroke-linecap="round" stroke-linejoin="round"/>
<path d="M128,760L160,763" fill="none" stroke="#000" stroke-width="17.099999999999998" stroke-linecap="round"/>
<path d="M166.0,915.0C175.2,910.0 205.2,892.5 221.0,885.0C236.8,877.5 254.3,872.5 261.0,870.0" fill="none" stroke="#000" stroke-width="9" stroke-linecap="round" stroke-linejoin="round"/>
<path d="M166,915L196,898" fill="none" stroke="#000" stroke-width="17.099999999999998" stroke-linecap="round"/>
<path d="M361.0,1012.0C360.2,1003.3 359.3,976.2 356.0,960.0C352.7,943.8 343.5,922.5 341.0,915.0" fill="none" stroke="#000" stroke-width="9" stroke-linecap="round" stroke-linejoin="round"/>
<path d="M361,1012L358,983" fill="none" stroke="#000" stroke-width="17.099999999999998" stroke-linecap="round"/>
<path d="M461.0,960.0C455.2,955.0 436.8,943.3 426.0,930.0C415.2,916.7 401.0,888.3 396.0,880.0" fill="none" stroke="#000" stroke-width="8" stroke-linecap="round" stroke-linejoin="round"/>
<path d="M596.0,345.0C589.3,345.8 561.0,341.7 556.0,350.0C551.0,358.3 557.7,385.0 566.0,395.0C574.3,405.0 599.3,407.5 606.0,410.0" fill="none" stroke="#000" stroke-width="8" stroke-linecap="round" stroke-linejoin="round"/>
<path d="M606.0,240.0L561.0,250.0" fill="none" stroke="#000" stroke-width="7" stroke-linecap="round" stroke-linejoin="round"/>
<path d="M700.0,42.0C701.9,45.8 707.5,57.4 711.3,65.1C715.1,72.8 720.8,84.3 722.6,88.2" fill="none" stroke="#000" stroke-width="9" stroke-linecap="round" stroke-linejoin="round"/>
<path d="M700,42L706,55" fill="none" stroke="#000" stroke-width="17.099999999999998" stroke-linecap="round"/>
<path d="M860.0,72.0C860.2,76.8 860.8,91.3 861.2,100.9C861.6,110.6 862.2,125.0 862.4,129.9" fill="none" stroke="#000" stroke-width="9" stroke-linecap="round" stroke-linejoin="round"/>
<path d="M860,72L861,88" fill="none" stroke="#000" stroke-width="17.099999999999998" stroke-linecap="round"/>
<path d="M990.0,135.0C989.9,141.1 989.7,159.4 989.6,171.6C989.5,183.8 989.3,202.1 989.2,208.2" fill="none" stroke="#000" stroke-width="9" stroke-linecap="round" stroke-linejoin="round"/>
<path d="M990,135L990,155" fill="none" stroke="#000" stroke-width="17.099999999999998" stroke-linecap="round"/>
<path d="M1110.0,250.0C1106.9,251.5 1097.5,256.0 1091.2,259.1C1084.9,262.1 1075.5,266.6 1072.4,268.1" fill="none" stroke="#000" stroke-width="9" stroke-linecap="round" stroke-linejoin="round"/>
<path d="M1110,250L1100,255" fill="none" stroke="#000" stroke-width="17.099999999999998" stroke-linecap="round"/>
<path d="M1210.0,520.0C1205.6,519.4 1192.4,517.7 1183.5,516.6C1174.7,515.5 1161.5,513.7 1157.1,513.2" fill="none" stroke="#000" stroke-width="9" stroke-linecap="round" stroke-linejoin="round"/>
<path d="M1210,520L1195,518" fill="none" stroke="#000" stroke-width="17.099999999999998" stroke-linecap="round"/>
<path d="M1160.0,700.0C1150.6,708.2 1122.4,732.6 1103.7,749.0C1084.9,765.3 1056.7,789.8 1047.3,797.9" fill="none" stroke="#000" stroke-width="9" stroke-linecap="round" stroke-linejoin="round"/>
<path d="M1160,700L1129,727" fill="none" stroke="#000" stroke-width="17.099999999999998" stroke-linecap="round"/>
<path d="M1090.0,960.0C1081.8,952.1 1057.4,928.4 1041.0,912.6C1024.7,896.8 1000.2,873.1 992.1,865.2" fill="none" stroke="#000" stroke-width="9" stroke-linecap="round" stroke-linejoin="round"/>
<path d="M1090,960L1063,934" fill="none" stroke="#000" stroke-width="17.099999999999998" stroke-linecap="round"/>
<path d="M1045.0,990.0C1038.6,981.9 1019.3,957.8 1006.4,941.7C993.5,925.6 974.2,901.4 967.8,893.4" fill="none" stroke="#000" stroke-width="9" stroke-linecap="round" stroke-linejoin="round"/>
<path d="M1045,990L1024,963" fill="none" stroke="#000" stroke-width="17.099999999999998" stroke-linecap="round"/>
<path d="M990.0,1005.0C991.9,994.9 997.7,964.5 1001.5,944.2C1005.4,924.0 1011.2,893.6 1013.1,883.5" fill="none" stroke="#000" stroke-width="9" stroke-linecap="round" stroke-linejoin="round"/>
<path d="M990,1005L996,972" fill="none" stroke="#000" stroke-width="17.099999999999998" stroke-linecap="round"/>
<path d="M880.0,1008.0C886.2,1001.0 905.0,980.2 917.5,966.2C930.0,952.3 948.7,931.4 955.0,924.5" fill="none" stroke="#000" stroke-width="9" stroke-linecap="round" stroke-linejoin="round"/>
<path d="M880,1008L901,985" fill="none" stroke="#000" stroke-width="17.099999999999998" stroke-linecap="round"/>
<path d="M455.0,1020.0C446.2,1013.9 419.8,995.7 402.1,983.6C384.5,971.4 358.1,953.2 349.3,947.1" fill="none" stroke="#000" stroke-width="9" stroke-linecap="round" stroke-linejoin="round"/>
<path d="M455,1020L426,1000" fill="none" stroke="#000" stroke-width="17.099999999999998" stroke-linecap="round"/>
<path d="M260.0,995.0C264.8,985.3 279.1,956.1 288.7,936.6C298.2,917.1 312.5,887.9 317.3,878.2" fill="none" stroke="#000" stroke-width="9" stroke-linecap="round" stroke-linejoin="round"/>
<path d="M260,995L276,963" fill="none" stroke="#000" stroke-width="17.099999999999998" stroke-linecap="round"/>
<path d="M215.0,960.0C218.5,952.7 229.0,930.7 236.0,916.0C243.0,901.4 253.4,879.4 256.9,872.0" fill="none" stroke="#000" stroke-width="9" stroke-linecap="round" stroke-linejoin="round"/>
<path d="M215,960L227,936" fill="none" stroke="#000" stroke-width="17.099999999999998" stroke-linecap="round"/>
<path d="M140.0,865.0C151.5,863.8 186.0,860.3 209.0,857.9C232.0,855.6 266.4,852.0 277.9,850.9" fill="none" stroke="#000" stroke-width="9" stroke-linecap="round" stroke-linejoin="round"/>
<path d="M140,865L178,861" fill="none" stroke="#000" stroke-width="17.099999999999998" stroke-linecap="round"/>
<path d="M100.0,700.0C107.1,708.3 128.6,733.0 142.9,749.5C157.2,766.1 178.6,790.8 185.7,799.1" fill="none" stroke="#000" stroke-width="9" stroke-linecap="round" stroke-linejoin="round"/>
<path d="M100,700L124,727" fill="none" stroke="#000" stroke-width="17.099999999999998" stroke-linecap="round"/>
<path d="M175.0,270.0C179.1,275.0 191.6,289.8 199.8,299.7C208.1,309.6 220.5,324.5 224.7,329.4" fill="none" stroke="#000" stroke-width="9" stroke-linecap="round" stroke-linejoin="round"/>
<path d="M175,270L189,286" fill="none" stroke="#000" stroke-width="17.099999999999998" stroke-linecap="round"/>
<path d="M300.0,160.0C300.8,165.0 303.2,179.8 304.8,189.7C306.4,199.7 308.8,214.5 309.6,219.5" fill="none" stroke="#000" stroke-width="9" stroke-linecap="round" stroke-linejoin="round"/>
<path d="M300,160L303,176" fill="none" stroke="#000" stroke-width="17.099999999999998" stroke-linecap="round"/>
<path d="M545.0,58.0C541.7,62.2 531.6,74.7 524.9,83.0C518.2,91.3 508.2,103.8 504.8,108.0" fill="none" stroke="#000" stroke-width="9" stroke-linecap="round" stroke-linejoin="round"/>
<path d="M545,58L534,72" fill="none" stroke="#000" stroke-width="17.099999999999998" stroke-linecap="round"/>
</g></mask>
<g filter="url(#mri)"><rect x="395.0" y="465.0" width="240" height="250" fill="#fff" mask="url(#mk1)"/></g>
<g filter="url(#bl1)"><g transform="translate(400.00,470.00) scale(0.17188)">
<ellipse cx="452" cy="625" rx="105" ry="88" transform="rotate(-35 452 625)" fill="#ababab"/>
<ellipse cx="844" cy="625" rx="105" ry="88" transform="rotate(35 844 625)" fill="#ababab"/>
<ellipse cx="565" cy="545" rx="38" ry="62" transform="rotate(-28 565 545)" fill="#a0a0a0"/>
<ellipse cx="735" cy="545" rx="38" ry="62" transform="rotate(28 735 545)" fill="#a0a0a0"/>
<ellipse cx="505" cy="712" rx="92" ry="34" transform="rotate(6 505 712)" fill="#a8a8a8"/>
<ellipse cx="795" cy="710" rx="92" ry="34" transform="rotate(-6 795 710)" fill="#a8a8a8"/>
<ellipse cx="250" cy="640" rx="70" ry="32" transform="rotate(-25 250 640)" fill="#a6a6a6"/>
<ellipse cx="1050" cy="600" rx="70" ry="30" transform="rotate(25 1050 600)" fill="#a6a6a6"/>
<ellipse cx="648" cy="375" rx="55" ry="40" transform="rotate(0 648 375)" fill="#a8a8a8"/>
<ellipse cx="578" cy="682" rx="60" ry="42" transform="rotate(0 578 682)" fill="#b2b2b2"/>
<ellipse cx="718" cy="682" rx="60" ry="42" transform="rotate(0 718 682)" fill="#b2b2b2"/>
<path d="M660.0,480.0C667.3,465.3 685.0,476.2 700.0,472.0C715.0,467.8 735.0,460.3 750.0,455.0C765.0,449.7 786.7,437.5 790.0,440.0C793.3,442.5 780.0,460.0 770.0,470.0C760.0,480.0 741.7,488.3 730.0,500.0C718.3,511.7 706.7,525.0 700.0,540.0C693.3,555.0 693.3,575.0 690.0,590.0C686.7,605.0 684.7,621.7 680.0,630.0C675.3,638.3 666.0,651.7 662.0,640.0C658.0,628.3 656.3,586.7 656.0,560.0C655.7,533.3 652.7,494.7 660.0,480.0Z" fill="#000"/>
<path d="M640.0,480.0C632.7,466.3 614.2,480.5 600.0,478.0C585.8,475.5 567.5,469.3 555.0,465.0C542.5,460.7 526.7,449.5 525.0,452.0C523.3,454.5 535.8,470.3 545.0,480.0C554.2,489.7 570.0,496.7 580.0,510.0C590.0,523.3 599.7,543.3 605.0,560.0C610.3,576.7 608.7,595.8 612.0,610.0C615.3,624.2 620.3,640.0 625.0,645.0C629.7,650.0 636.8,654.2 640.0,640.0C643.2,625.8 644.0,586.7 644.0,560.0C644.0,533.3 647.3,493.7 640.0,480.0Z" fill="#000"/>
<path d="M795.0,545.0C790.8,554.2 778.3,580.8 770.0,600.0C761.7,619.2 749.2,650.0 745.0,660.0" fill="none" stroke="#f4f4f4" stroke-width="9" stroke-linecap="round"/>
<path d="M500.0,545.0C504.2,554.2 516.7,580.8 525.0,600.0C533.3,619.2 545.8,650.0 550.0,660.0" fill="none" stroke="#f4f4f4" stroke-width="9" stroke-linecap="round"/>
<path d="M648.0,330.0L648.0,430.0" fill="none" stroke="#505050" stroke-width="6" stroke-linecap="round"/>
</g></g>
<defs><filter id="act1" x="-30%" y="-30%" width="160%" height="160%" color-interpolation-filters="sRGB"><feGaussianBlur in="SourceAlpha" stdDeviation="5.5"/><feColorMatrix type="matrix" values="0 0 0 1 0  0 0 0 1 0  0 0 0 1 0  0 0 0 1 0"/><feComponentTransfer><feFuncR type="table" tableValues="0.68 0.68 0.68 0.68 0.68 0.68 0.68 0.68 0.68 0.68 0.68 0.68 0.68 0.72 0.79 0.85 0.91 0.98 1.00 1.00 1.00 1.00 1.00 1.00 1.00 1.00 1.00 1.00 1.00 1.00 1.00 1.00 1.00 1.00 1.00 1.00 1.00 1.00 1.00 1.00 1.00"/><feFuncG type="table" tableValues="1.00 1.00 1.00 1.00 1.00 1.00 1.00 1.00 1.00 1.00 1.00 1.00 1.00 1.00 1.00 1.00 1.00 1.00 0.97 0.93 0.89 0.85 0.80 0.76 0.72 0.68 0.64 0.60 0.55 0.51 0.47 0.43 0.39 0.34 0.30 0.26 0.22 0.18 0.14 0.09 0.05"/><feFuncB type="table" tableValues="0.00 0.00 0.00 0.00 0.00 0.00 0.00 0.00 0.00 0.00 0.00 0.00 0.00 0.00 0.00 0.00 0.00 0.00 0.00 0.00 0.00 0.00 0.00 0.00 0.00 0.00 0.00 0.00 0.00 0.00 0.00 0.00 0.00 0.00 0.00 0.00 0.00 0.01 0.03 0.05 0.07"/><feFuncA type="table" tableValues="0.00 0.00 0.00 0.00 0.00 0.00 0.00 0.00 0.00 0.00 0.00 0.00 0.00 0.00 0.00 0.00 0.50 1.00 1.00 1.00 1.00 1.00 1.00 1.00 1.00 1.00 1.00 1.00 1.00 1.00 1.00 1.00 1.00 1.00 1.00 1.00 1.00 1.00 1.00 1.00 1.00"/></feComponentTransfer><feGaussianBlur stdDeviation="0.45"/></filter></defs>
<g filter="url(#act1)"><g transform="translate(400.00,470.00) scale(0.17188)" fill="#f00">
<path d="M655.0,138.0C669.3,136.3 685.5,147.7 698.0,160.0C710.5,172.3 723.8,192.3 730.0,212.0C736.2,231.7 740.3,261.7 735.0,278.0C729.7,294.3 713.8,306.3 698.0,310.0C682.2,313.7 656.7,304.2 640.0,300.0C623.3,295.8 606.3,297.0 598.0,285.0C589.7,273.0 587.7,247.2 590.0,228.0C592.3,208.8 601.2,185.0 612.0,170.0C622.8,155.0 640.7,139.7 655.0,138.0Z"/>
</g></g>
<mask id="mk2" maskUnits="userSpaceOnUse" x="660.7" y="465.0" width="240" height="250">
<g transform="translate(665.70,470.00) scale(0.17188)">
<path d="M648.0,85.0C654.7,84.5 656.3,62.2 665.0,55.0C673.7,47.8 686.7,42.8 700.0,42.0C713.3,41.2 732.5,44.5 745.0,50.0C757.5,55.5 766.7,66.7 775.0,75.0C783.3,83.3 787.5,99.2 795.0,100.0C802.5,100.8 809.2,84.7 820.0,80.0C830.8,75.3 847.5,70.3 860.0,72.0C872.5,73.7 885.8,82.8 895.0,90.0C904.2,97.2 905.8,110.8 915.0,115.0C924.2,119.2 937.5,111.7 950.0,115.0C962.5,118.3 978.3,126.7 990.0,135.0C1001.7,143.3 1010.8,155.0 1020.0,165.0C1029.2,175.0 1035.0,186.7 1045.0,195.0C1055.0,203.3 1069.2,205.8 1080.0,215.0C1090.8,224.2 1100.8,237.5 1110.0,250.0C1119.2,262.5 1126.7,277.5 1135.0,290.0C1143.3,302.5 1152.5,311.7 1160.0,325.0C1167.5,338.3 1174.2,354.2 1180.0,370.0C1185.8,385.8 1190.8,403.3 1195.0,420.0C1199.2,436.7 1202.5,453.3 1205.0,470.0C1207.5,486.7 1210.8,503.3 1210.0,520.0C1209.2,536.7 1205.8,555.0 1200.0,570.0C1194.2,585.0 1185.0,599.2 1175.0,610.0C1165.0,620.8 1150.8,628.3 1140.0,635.0C1129.2,641.7 1110.0,645.0 1110.0,650.0C1110.0,655.0 1131.7,656.7 1140.0,665.0C1148.3,673.3 1155.3,685.8 1160.0,700.0C1164.7,714.2 1167.2,731.7 1168.0,750.0C1168.8,768.3 1168.0,790.0 1165.0,810.0C1162.0,830.0 1156.7,851.7 1150.0,870.0C1143.3,888.3 1135.0,905.0 1125.0,920.0C1115.0,935.0 1103.3,948.3 1090.0,960.0C1076.7,971.7 1061.7,982.5 1045.0,990.0C1028.3,997.5 1009.2,1001.3 990.0,1005.0C970.8,1008.7 948.3,1011.5 930.0,1012.0C911.7,1012.5 894.2,1011.7 880.0,1008.0C865.8,1004.3 854.0,999.7 845.0,990.0C836.0,980.3 830.8,965.0 826.0,950.0C821.2,935.0 818.3,916.7 816.0,900.0C813.7,883.3 813.0,866.7 812.0,850.0C811.0,833.3 812.8,813.7 810.0,800.0C807.2,786.3 803.3,776.0 795.0,768.0C786.7,760.0 774.2,755.7 760.0,752.0C745.8,748.3 725.0,748.3 710.0,746.0C695.0,743.7 679.2,741.7 670.0,738.0C660.8,734.3 658.7,730.3 655.0,724.0C651.3,717.7 650.3,700.0 648.0,700.0C645.7,700.0 644.7,717.7 641.0,724.0C637.3,730.3 635.2,734.3 626.0,738.0C616.8,741.7 601.0,743.7 586.0,746.0C571.0,748.3 550.2,748.3 536.0,752.0C521.8,755.7 509.3,760.0 501.0,768.0C492.7,776.0 488.8,786.3 486.0,800.0C483.2,813.7 484.8,833.3 484.0,850.0C483.2,866.7 482.3,883.3 481.0,900.0C479.7,916.7 478.2,935.0 476.0,950.0C473.8,965.0 471.5,978.3 468.0,990.0C464.5,1001.7 463.8,1012.0 455.0,1020.0C446.2,1028.0 430.0,1034.7 415.0,1038.0C400.0,1041.3 382.5,1042.7 365.0,1040.0C347.5,1037.3 327.5,1029.5 310.0,1022.0C292.5,1014.5 275.8,1005.3 260.0,995.0C244.2,984.7 229.2,973.3 215.0,960.0C200.8,946.7 187.5,930.8 175.0,915.0C162.5,899.2 150.0,882.5 140.0,865.0C130.0,847.5 121.3,828.3 115.0,810.0C108.7,791.7 104.5,773.3 102.0,755.0C99.5,736.7 97.8,715.0 100.0,700.0C102.2,685.0 108.3,673.7 115.0,665.0C121.7,656.3 141.7,654.7 140.0,648.0C138.3,641.3 114.2,636.3 105.0,625.0C95.8,613.7 90.0,595.8 85.0,580.0C80.0,564.2 75.8,547.5 75.0,530.0C74.2,512.5 77.2,493.3 80.0,475.0C82.8,456.7 87.0,438.3 92.0,420.0C97.0,401.7 102.0,382.5 110.0,365.0C118.0,347.5 129.2,330.8 140.0,315.0C150.8,299.2 162.5,284.2 175.0,270.0C187.5,255.8 201.7,242.5 215.0,230.0C228.3,217.5 240.8,206.7 255.0,195.0C269.2,183.3 285.0,170.8 300.0,160.0C315.0,149.2 330.0,139.2 345.0,130.0C360.0,120.8 375.8,111.7 390.0,105.0C404.2,98.3 417.5,92.8 430.0,90.0C442.5,87.2 455.0,85.5 465.0,88.0C475.0,90.5 482.5,106.3 490.0,105.0C497.5,103.7 500.8,87.8 510.0,80.0C519.2,72.2 531.7,63.3 545.0,58.0C558.3,52.7 576.7,48.0 590.0,48.0C603.3,48.0 615.3,51.8 625.0,58.0C634.7,64.2 641.3,85.5 648.0,85.0Z" fill="#fff"/>
<path d="M648.0,60.0C648.0,83.3 648.3,155.0 648.0,200.0C647.7,245.0 646.0,293.3 646.0,330.0C646.0,366.7 647.7,405.0 648.0,420.0" fill="none" stroke="#000" stroke-width="9" stroke-linecap="round" stroke-linejoin="round"/>
<path d="M648,60L648,137" fill="none" stroke="#000" stroke-width="17.099999999999998" stroke-linecap="round"/>
<path d="M797.0,95.0C797.8,107.5 803.2,144.2 802.0,170.0C800.8,195.8 796.2,230.0 790.0,250.0C783.8,270.0 769.2,283.3 765.0,290.0" fill="none" stroke="#000" stroke-width="10" stroke-linecap="round" stroke-linejoin="round"/>
<path d="M797,95L800,136" fill="none" stroke="#000" stroke-width="19.0" stroke-linecap="round"/>
<path d="M914.0,112.0C913.0,125.0 912.8,164.5 908.0,190.0C903.2,215.5 891.3,248.3 885.0,265.0C878.7,281.7 872.5,285.8 870.0,290.0" fill="none" stroke="#000" stroke-width="10" stroke-linecap="round" stroke-linejoin="round"/>
<path d="M914,112L911,155" fill="none" stroke="#000" stroke-width="19.0" stroke-linecap="round"/>
<path d="M1045.0,190.0C1038.3,200.8 1020.0,234.2 1005.0,255.0C990.0,275.8 967.5,300.0 955.0,315.0C942.5,330.0 934.2,340.0 930.0,345.0" fill="none" stroke="#000" stroke-width="10" stroke-linecap="round" stroke-linejoin="round"/>
<path d="M1045,190L1023,226" fill="none" stroke="#000" stroke-width="19.0" stroke-linecap="round"/>
<path d="M1160.0,320.0C1149.2,326.3 1117.5,345.5 1095.0,358.0C1072.5,370.5 1045.0,386.7 1025.0,395.0C1005.0,403.3 983.3,405.8 975.0,408.0" fill="none" stroke="#000" stroke-width="10" stroke-linecap="round" stroke-linejoin="round"/>
<path d="M1160,320L1124,341" fill="none" stroke="#000" stroke-width="19.0" stroke-linecap="round"/>
<path d="M1205.0,455.0C1197.5,452.5 1175.8,447.5 1160.0,440.0C1144.2,432.5 1118.3,415.0 1110.0,410.0" fill="none" stroke="#000" stroke-width="9" stroke-linecap="round" stroke-linejoin="round"/>
<path d="M1205,455L1180,447" fill="none" stroke="#000" stroke-width="17.099999999999998" stroke-linecap="round"/>
<path d="M1200.0,575.0C1188.3,572.5 1153.3,567.5 1130.0,560.0C1106.7,552.5 1083.3,540.0 1060.0,530.0C1036.7,520.0 1010.0,506.7 990.0,500.0C970.0,493.3 948.3,491.7 940.0,490.0" fill="none" stroke="#000" stroke-width="10" stroke-linecap="round" stroke-linejoin="round"/>
<path d="M1200,575L1162,567" fill="none" stroke="#000" stroke-width="19.0" stroke-linecap="round"/>
<path d="M1110.0,650.0C1100.0,645.0 1070.8,632.5 1050.0,620.0C1029.2,607.5 1002.5,590.0 985.0,575.0C967.5,560.0 951.7,537.5 945.0,530.0" fill="none" stroke="#000" stroke-width="13" stroke-linecap="round" stroke-linejoin="round"/>
<path d="M1110,650L1077,634" fill="none" stroke="#000" stroke-width="24.7" stroke-linecap="round"/>
<path d="M1125.0,648.0C1114.2,651.3 1080.8,659.3 1060.0,668.0C1039.2,676.7 1016.7,688.0 1000.0,700.0C983.3,712.0 966.7,733.3 960.0,740.0" fill="none" stroke="#000" stroke-width="22" stroke-linecap="round" stroke-linejoin="round"/>
<path d="M1125,648L1089,659" fill="none" stroke="#000" stroke-width="41.8" stroke-linecap="round"/>
<path d="M1168.0,760.0C1158.3,760.8 1128.0,760.0 1110.0,765.0C1092.0,770.0 1073.3,780.8 1060.0,790.0C1046.7,799.2 1035.0,815.0 1030.0,820.0" fill="none" stroke="#000" stroke-width="9" stroke-linecap="round" stroke-linejoin="round"/>
<path d="M1168,760L1136,763" fill="none" stroke="#000" stroke-width="17.099999999999998" stroke-linecap="round"/>
<path d="M1130.0,915.0C1120.8,910.0 1090.8,892.5 1075.0,885.0C1059.2,877.5 1041.7,872.5 1035.0,870.0" fill="none" stroke="#000" stroke-width="9" stroke-linecap="round" stroke-linejoin="round"/>
<path d="M1130,915L1100,898" fill="none" stroke="#000" stroke-width="17.099999999999998" stroke-linecap="round"/>
<path d="M935.0,1012.0C935.8,1003.3 936.7,976.2 940.0,960.0C943.3,943.8 952.5,922.5 955.0,915.0" fill="none" stroke="#000" stroke-width="9" stroke-linecap="round" stroke-linejoin="round"/>
<path d="M935,1012L938,983" fill="none" stroke="#000" stroke-width="17.099999999999998" stroke-linecap="round"/>
<path d="M835.0,960.0C840.8,955.0 859.2,943.3 870.0,930.0C880.8,916.7 895.0,888.3 900.0,880.0" fill="none" stroke="#000" stroke-width="8" stroke-linecap="round" stroke-linejoin="round"/>
<path d="M700.0,345.0C706.7,345.8 735.0,341.7 740.0,350.0C745.0,358.3 738.3,385.0 730.0,395.0C721.7,405.0 696.7,407.5 690.0,410.0" fill="none" stroke="#000" stroke-width="8" stroke-linecap="round" stroke-linejoin="round"/>
<path d="M690.0,240.0L735.0,250.0" fill="none" stroke="#000" stroke-width="7" stroke-linecap="round" stroke-linejoin="round"/>
<path d="M492.0,100.0C491.7,111.7 487.8,145.0 490.0,170.0C492.2,195.0 498.3,230.0 505.0,250.0C511.7,270.0 525.8,283.3 530.0,290.0" fill="none" stroke="#000" stroke-width="10" stroke-linecap="round" stroke-linejoin="round"/>
<path d="M492,100L491,138" fill="none" stroke="#000" stroke-width="19.0" stroke-linecap="round"/>
<path d="M382.0,112.0C383.0,125.0 383.2,164.5 388.0,190.0C392.8,215.5 404.7,248.3 411.0,265.0C417.3,281.7 423.5,285.8 426.0,290.0" fill="none" stroke="#000" stroke-width="10" stroke-linecap="round" stroke-linejoin="round"/>
<path d="M382,112L385,155" fill="none" stroke="#000" stroke-width="19.0" stroke-linecap="round"/>
<path d="M251.0,190.0C257.7,200.8 276.0,234.2 291.0,255.0C306.0,275.8 328.5,300.0 341.0,315.0C353.5,330.0 361.8,340.0 366.0,345.0" fill="none" stroke="#000" stroke-width="10" stroke-linecap="round" stroke-linejoin="round"/>
<path d="M251,190L273,226" fill="none" stroke="#000" stroke-width="19.0" stroke-linecap="round"/>
<path d="M136.0,320.0C146.8,326.3 178.5,345.5 201.0,358.0C223.5,370.5 251.0,386.7 271.0,395.0C291.0,403.3 312.7,405.8 321.0,408.0" fill="none" stroke="#000" stroke-width="10" stroke-linecap="round" stroke-linejoin="round"/>
<path d="M136,320L172,341" fill="none" stroke="#000" stroke-width="19.0" stroke-linecap="round"/>
<path d="M91.0,455.0C98.5,452.5 120.2,447.5 136.0,440.0C151.8,432.5 177.7,415.0 186.0,410.0" fill="none" stroke="#000" stroke-width="9" stroke-linecap="round" stroke-linejoin="round"/>
<path d="M91,455L116,447" fill="none" stroke="#000" stroke-width="17.099999999999998" stroke-linecap="round"/>
<path d="M96.0,575.0C107.7,572.5 142.7,567.5 166.0,560.0C189.3,552.5 212.7,540.0 236.0,530.0C259.3,520.0 286.0,506.7 306.0,500.0C326.0,493.3 347.7,491.7 356.0,490.0" fill="none" stroke="#000" stroke-width="10" stroke-linecap="round" stroke-linejoin="round"/>
<path d="M96,575L134,567" fill="none" stroke="#000" stroke-width="19.0" stroke-linecap="round"/>
<path d="M186.0,650.0C196.0,645.0 225.2,632.5 246.0,620.0C266.8,607.5 293.5,590.0 311.0,575.0C328.5,560.0 344.3,537.5 351.0,530.0" fill="none" stroke="#000" stroke-width="13" stroke-linecap="round" stroke-linejoin="round"/>
<path d="M186,650L219,634" fill="none" stroke="#000" stroke-width="24.7" stroke-linecap="round"/>
<path d="M171.0,648.0C181.8,651.3 215.2,659.3 236.0,668.0C256.8,676.7 279.3,688.0 296.0,700.0C312.7,712.0 329.3,733.3 336.0,740.0" fill="none" stroke="#000" stroke-width="22" stroke-linecap="round" stroke-linejoin="round"/>
<path d="M171,648L207,659" fill="none" stroke="#000" stroke-width="41.8" stroke-linecap="round"/>
<path d="M128.0,760.0C137.7,760.8 168.0,760.0 186.0,765.0C204.0,770.0 222.7,780.8 236.0,790.0C249.3,799.2 261.0,815.0 266.0,820.0" fill="none" stroke="#000" stroke-width="9" stroke-linecap="round" stroke-linejoin="round"/>
<path d="M128,760L160,763" fill="none" stroke="#000" stroke-width="17.099999999999998" stroke-linecap="round"/>
<path d="M166.0,915.0C175.2,910.0 205.2,892.5 221.0,885.0C236.8,877.5 254.3,872.5 261.0,870.0" fill="none" stroke="#000" stroke-width="9" stroke-linecap="round" stroke-linejoin="round"/>
<path d="M166,915L196,898" fill="none" stroke="#000" stroke-width="17.099999999999998" stroke-linecap="round"/>
<path d="M361.0,1012.0C360.2,1003.3 359.3,976.2 356.0,960.0C352.7,943.8 343.5,922.5 341.0,915.0" fill="none" stroke="#000" stroke-width="9" stroke-linecap="round" stroke-linejoin="round"/>
<path d="M361,1012L358,983" fill="none" stroke="#000" stroke-width="17.099999999999998" stroke-linecap="round"/>
<path d="M461.0,960.0C455.2,955.0 436.8,943.3 426.0,930.0C415.2,916.7 401.0,888.3 396.0,880.0" fill="none" stroke="#000" stroke-width="8" stroke-linecap="round" stroke-linejoin="round"/>
<path d="M596.0,345.0C589.3,345.8 561.0,341.7 556.0,350.0C551.0,358.3 557.7,385.0 566.0,395.0C574.3,405.0 599.3,407.5 606.0,410.0" fill="none" stroke="#000" stroke-width="8" stroke-linecap="round" stroke-linejoin="round"/>
<path d="M606.0,240.0L561.0,250.0" fill="none" stroke="#000" stroke-width="7" stroke-linecap="round" stroke-linejoin="round"/>
<path d="M700.0,42.0C701.9,45.8 707.5,57.4 711.3,65.1C715.1,72.8 720.8,84.3 722.6,88.2" fill="none" stroke="#000" stroke-width="9" stroke-linecap="round" stroke-linejoin="round"/>
<path d="M700,42L706,55" fill="none" stroke="#000" stroke-width="17.099999999999998" stroke-linecap="round"/>
<path d="M860.0,72.0C860.2,76.8 860.8,91.3 861.2,100.9C861.6,110.6 862.2,125.0 862.4,129.9" fill="none" stroke="#000" stroke-width="9" stroke-linecap="round" stroke-linejoin="round"/>
<path d="M860,72L861,88" fill="none" stroke="#000" stroke-width="17.099999999999998" stroke-linecap="round"/>
<path d="M990.0,135.0C989.9,141.1 989.7,159.4 989.6,171.6C989.5,183.8 989.3,202.1 989.2,208.2" fill="none" stroke="#000" stroke-width="9" stroke-linecap="round" stroke-linejoin="round"/>
<path d="M990,135L990,155" fill="none" stroke="#000" stroke-width="17.099999999999998" stroke-linecap="round"/>
<path d="M1110.0,250.0C1106.9,251.5 1097.5,256.0 1091.2,259.1C1084.9,262.1 1075.5,266.6 1072.4,268.1" fill="none" stroke="#000" stroke-width="9" stroke-linecap="round" stroke-linejoin="round"/>
<path d="M1110,250L1100,255" fill="none" stroke="#000" stroke-width="17.099999999999998" stroke-linecap="round"/>
<path d="M1210.0,520.0C1205.6,519.4 1192.4,517.7 1183.5,516.6C1174.7,515.5 1161.5,513.7 1157.1,513.2" fill="none" stroke="#000" stroke-width="9" stroke-linecap="round" stroke-linejoin="round"/>
<path d="M1210,520L1195,518" fill="none" stroke="#000" stroke-width="17.099999999999998" stroke-linecap="round"/>
<path d="M1160.0,700.0C1150.6,708.2 1122.4,732.6 1103.7,749.0C1084.9,765.3 1056.7,789.8 1047.3,797.9" fill="none" stroke="#000" stroke-width="9" stroke-linecap="round" stroke-linejoin="round"/>
<path d="M1160,700L1129,727" fill="none" stroke="#000" stroke-width="17.099999999999998" stroke-linecap="round"/>
<path d="M1090.0,960.0C1081.8,952.1 1057.4,928.4 1041.0,912.6C1024.7,896.8 1000.2,873.1 992.1,865.2" fill="none" stroke="#000" stroke-width="9" stroke-linecap="round" stroke-linejoin="round"/>
<path d="M1090,960L1063,934" fill="none" stroke="#000" stroke-width="17.099999999999998" stroke-linecap="round"/>
<path d="M1045.0,990.0C1038.6,981.9 1019.3,957.8 1006.4,941.7C993.5,925.6 974.2,901.4 967.8,893.4" fill="none" stroke="#000" stroke-width="9" stroke-linecap="round" stroke-linejoin="round"/>
<path d="M1045,990L1024,963" fill="none" stroke="#000" stroke-width="17.099999999999998" stroke-linecap="round"/>
<path d="M990.0,1005.0C991.9,994.9 997.7,964.5 1001.5,944.2C1005.4,924.0 1011.2,893.6 1013.1,883.5" fill="none" stroke="#000" stroke-width="9" stroke-linecap="round" stroke-linejoin="round"/>
<path d="M990,1005L996,972" fill="none" stroke="#000" stroke-width="17.099999999999998" stroke-linecap="round"/>
<path d="M880.0,1008.0C886.2,1001.0 905.0,980.2 917.5,966.2C930.0,952.3 948.7,931.4 955.0,924.5" fill="none" stroke="#000" stroke-width="9" stroke-linecap="round" stroke-linejoin="round"/>
<path d="M880,1008L901,985" fill="none" stroke="#000" stroke-width="17.099999999999998" stroke-linecap="round"/>
<path d="M455.0,1020.0C446.2,1013.9 419.8,995.7 402.1,983.6C384.5,971.4 358.1,953.2 349.3,947.1" fill="none" stroke="#000" stroke-width="9" stroke-linecap="round" stroke-linejoin="round"/>
<path d="M455,1020L426,1000" fill="none" stroke="#000" stroke-width="17.099999999999998" stroke-linecap="round"/>
<path d="M260.0,995.0C264.8,985.3 279.1,956.1 288.7,936.6C298.2,917.1 312.5,887.9 317.3,878.2" fill="none" stroke="#000" stroke-width="9" stroke-linecap="round" stroke-linejoin="round"/>
<path d="M260,995L276,963" fill="none" stroke="#000" stroke-width="17.099999999999998" stroke-linecap="round"/>
<path d="M215.0,960.0C218.5,952.7 229.0,930.7 236.0,916.0C243.0,901.4 253.4,879.4 256.9,872.0" fill="none" stroke="#000" stroke-width="9" stroke-linecap="round" stroke-linejoin="round"/>
<path d="M215,960L227,936" fill="none" stroke="#000" stroke-width="17.099999999999998" stroke-linecap="round"/>
<path d="M140.0,865.0C151.5,863.8 186.0,860.3 209.0,857.9C232.0,855.6 266.4,852.0 277.9,850.9" fill="none" stroke="#000" stroke-width="9" stroke-linecap="round" stroke-linejoin="round"/>
<path d="M140,865L178,861" fill="none" stroke="#000" stroke-width="17.099999999999998" stroke-linecap="round"/>
<path d="M100.0,700.0C107.1,708.3 128.6,733.0 142.9,749.5C157.2,766.1 178.6,790.8 185.7,799.1" fill="none" stroke="#000" stroke-width="9" stroke-linecap="round" stroke-linejoin="round"/>
<path d="M100,700L124,727" fill="none" stroke="#000" stroke-width="17.099999999999998" stroke-linecap="round"/>
<path d="M175.0,270.0C179.1,275.0 191.6,289.8 199.8,299.7C208.1,309.6 220.5,324.5 224.7,329.4" fill="none" stroke="#000" stroke-width="9" stroke-linecap="round" stroke-linejoin="round"/>
<path d="M175,270L189,286" fill="none" stroke="#000" stroke-width="17.099999999999998" stroke-linecap="round"/>
<path d="M300.0,160.0C300.8,165.0 303.2,179.8 304.8,189.7C306.4,199.7 308.8,214.5 309.6,219.5" fill="none" stroke="#000" stroke-width="9" stroke-linecap="round" stroke-linejoin="round"/>
<path d="M300,160L303,176" fill="none" stroke="#000" stroke-width="17.099999999999998" stroke-linecap="round"/>
<path d="M545.0,58.0C541.7,62.2 531.6,74.7 524.9,83.0C518.2,91.3 508.2,103.8 504.8,108.0" fill="none" stroke="#000" stroke-width="9" stroke-linecap="round" stroke-linejoin="round"/>
<path d="M545,58L534,72" fill="none" stroke="#000" stroke-width="17.099999999999998" stroke-linecap="round"/>
</g></mask>
<g filter="url(#mri)"><rect x="660.7" y="465.0" width="240" height="250" fill="#fff" mask="url(#mk2)"/></g>
<g filter="url(#bl1)"><g transform="translate(665.70,470.00) scale(0.17188)">
<ellipse cx="452" cy="625" rx="105" ry="88" transform="rotate(-35 452 625)" fill="#ababab"/>
<ellipse cx="844" cy="625" rx="105" ry="88" transform="rotate(35 844 625)" fill="#ababab"/>
<ellipse cx="565" cy="545" rx="38" ry="62" transform="rotate(-28 565 545)" fill="#a0a0a0"/>
<ellipse cx="735" cy="545" rx="38" ry="62" transform="rotate(28 735 545)" fill="#a0a0a0"/>
<ellipse cx="505" cy="712" rx="92" ry="34" transform="rotate(6 505 712)" fill="#a8a8a8"/>
<ellipse cx="795" cy="710" rx="92" ry="34" transform="rotate(-6 795 710)" fill="#a8a8a8"/>
<ellipse cx="250" cy="640" rx="70" ry="32" transform="rotate(-25 250 640)" fill="#a6a6a6"/>
<ellipse cx="1050" cy="600" rx="70" ry="30" transform="rotate(25 1050 600)" fill="#a6a6a6"/>
<ellipse cx="648" cy="375" rx="55" ry="40" transform="rotate(0 648 375)" fill="#a8a8a8"/>
<ellipse cx="578" cy="682" rx="60" ry="42" transform="rotate(0 578 682)" fill="#b2b2b2"/>
<ellipse cx="718" cy="682" rx="60" ry="42" transform="rotate(0 718 682)" fill="#b2b2b2"/>
<path d="M660.0,480.0C667.3,465.3 685.0,476.2 700.0,472.0C715.0,467.8 735.0,460.3 750.0,455.0C765.0,449.7 786.7,437.5 790.0,440.0C793.3,442.5 780.0,460.0 770.0,470.0C760.0,480.0 741.7,488.3 730.0,500.0C718.3,511.7 706.7,525.0 700.0,540.0C693.3,555.0 693.3,575.0 690.0,590.0C686.7,605.0 684.7,621.7 680.0,630.0C675.3,638.3 666.0,651.7 662.0,640.0C658.0,628.3 656.3,586.7 656.0,560.0C655.7,533.3 652.7,494.7 660.0,480.0Z" fill="#000"/>
<path d="M640.0,480.0C632.7,466.3 614.2,480.5 600.0,478.0C585.8,475.5 567.5,469.3 555.0,465.0C542.5,460.7 526.7,449.5 525.0,452.0C523.3,454.5 535.8,470.3 545.0,480.0C554.2,489.7 570.0,496.7 580.0,510.0C590.0,523.3 599.7,543.3 605.0,560.0C610.3,576.7 608.7,595.8 612.0,610.0C615.3,624.2 620.3,640.0 625.0,645.0C629.7,650.0 636.8,654.2 640.0,640.0C643.2,625.8 644.0,586.7 644.0,560.0C644.0,533.3 647.3,493.7 640.0,480.0Z" fill="#000"/>
<path d="M795.0,545.0C790.8,554.2 778.3,580.8 770.0,600.0C761.7,619.2 749.2,650.0 745.0,660.0" fill="none" stroke="#f4f4f4" stroke-width="9" stroke-linecap="round"/>
<path d="M500.0,545.0C504.2,554.2 516.7,580.8 525.0,600.0C533.3,619.2 545.8,650.0 550.0,660.0" fill="none" stroke="#f4f4f4" stroke-width="9" stroke-linecap="round"/>
<path d="M648.0,330.0L648.0,430.0" fill="none" stroke="#505050" stroke-width="6" stroke-linecap="round"/>
</g></g>
<defs><filter id="act2" x="-30%" y="-30%" width="160%" height="160%" color-interpolation-filters="sRGB"><feGaussianBlur in="SourceAlpha" stdDeviation="2.5"/><feColorMatrix type="matrix" values="0 0 0 1 0  0 0 0 1 0  0 0 0 1 0  0 0 0 1 0"/><feComponentTransfer><feFuncR type="table" tableValues="0.68 0.68 0.68 0.68 0.68 0.68 0.68 0.68 0.68 0.68 0.68 0.68 0.68 0.68 0.68 0.68 0.68 0.68 0.68 0.68 0.68 0.68 0.68 0.68 0.68 0.68 0.68 0.68 0.68 0.68 0.68 0.68 0.68 0.69 0.72 0.74 0.77 0.79 0.82 0.84 0.87"/><feFuncG type="table" tableValues="1.00 1.00 1.00 1.00 1.00 1.00 1.00 1.00 1.00 1.00 1.00 1.00 1.00 1.00 1.00 1.00 1.00 1.00 1.00 1.00 1.00 1.00 1.00 1.00 1.00 1.00 1.00 1.00 1.00 1.00 1.00 1.00 1.00 1.00 1.00 1.00 1.00 1.00 1.00 1.00 1.00"/><feFuncB type="table" tableValues="0.00 0.00 0.00 0.00 0.00 0.00 0.00 0.00 0.00 0.00 0.00 0.00 0.00 0.00 0.00 0.00 0.00 0.00 0.00 0.00 0.00 0.00 0.00 0.00 0.00 0.00 0.00 0.00 0.00 0.00 0.00 0.00 0.00 0.00 0.00 0.00 0.00 0.00 0.00 0.00 0.00"/><feFuncA type="table" tableValues="0.00 0.00 0.00 0.00 0.00 0.00 0.00 0.00 0.00 0.00 0.00 0.00 0.50 1.00 1.00 1.00 1.00 1.00 1.00 1.00 1.00 1.00 1.00 1.00 1.00 1.00 1.00 1.00 1.00 1.00 1.00 1.00 1.00 1.00 1.00 1.00 1.00 1.00 1.00 1.00 1.00"/></feComponentTransfer><feGaussianBlur stdDeviation="0.45"/></filter></defs>
<g filter="url(#act2)"><g transform="translate(670.00,470.00) scale(0.17188)" fill="#f00">
<path d="M185.0,295.0C197.8,291.2 212.8,297.5 222.0,305.0C231.2,312.5 237.8,325.8 240.0,340.0C242.2,354.2 241.7,379.7 235.0,390.0C228.3,400.3 212.2,403.7 200.0,402.0C187.8,400.3 173.3,387.3 162.0,380.0C150.7,372.7 134.8,366.7 132.0,358.0C129.2,349.3 136.2,338.5 145.0,328.0C153.8,317.5 172.2,298.8 185.0,295.0Z"/>
</g></g>
<defs><filter id="act3" x="-30%" y="-30%" width="160%" height="160%" color-interpolation-filters="sRGB"><feGaussianBlur in="SourceAlpha" stdDeviation="3.5"/><feColorMatrix type="matrix" values="0 0 0 1 0  0 0 0 1 0  0 0 0 1 0  0 0 0 1 0"/><feComponentTransfer><feFuncR type="table" tableValues="0.68 0.68 0.68 0.68 0.68 0.68 0.68 0.68 0.68 0.68 0.68 0.68 0.68 0.68 0.68 0.68 0.68 0.70 0.74 0.79 0.84 0.89 0.94 0.98 1.00 1.00 1.00 1.00 1.00 1.00 1.00 1.00 1.00 1.00 1.00 1.00 1.00 1.00 1.00 1.00 1.00"/><feFuncG type="table" tableValues="1.00 1.00 1.00 1.00 1.00 1.00 1.00 1.00 1.00 1.00 1.00 1.00 1.00 1.00 1.00 1.00 1.00 1.00 1.00 1.00 1.00 1.00 1.00 1.00 0.98 0.95 0.92 0.89 0.86 0.82 0.79 0.76 0.73 0.70 0.67 0.64 0.61 0.58 0.54 0.51 0.48"/><feFuncB type="table" tableValues="0.00 0.00 0.00 0.00 0.00 0.00 0.00 0.00 0.00 0.00 0.00 0.00 0.00 0.00 0.00 0.00 0.00 0.00 0.00 0.00 0.00 0.00 0.00 0.00 0.00 0.00 0.00 0.00 0.00 0.00 0.00 0.00 0.00 0.00 0.00 0.00 0.00 0.00 0.00 0.00 0.00"/><feFuncA type="table" tableValues="0.00 0.00 0.00 0.00 0.00 0.00 0.00 0.00 0.00 0.00 0.00 0.00 0.50 1.00 1.00 1.00 1.00 1.00 1.00 1.00 1.00 1.00 1.00 1.00 1.00 1.00 1.00 1.00 1.00 1.00 1.00 1.00 1.00 1.00 1.00 1.00 1.00 1.00 1.00 1.00 1.00"/></feComponentTransfer><feGaussianBlur stdDeviation="0.45"/></filter></defs>
<g filter="url(#act3)"><g transform="translate(670.00,470.00) scale(0.17188)" fill="#f00">
<path d="M1085.0,285.0C1096.2,283.3 1111.8,288.8 1122.0,295.0C1132.2,301.2 1140.0,313.7 1146.0,322.0C1152.0,330.3 1159.7,335.3 1158.0,345.0C1156.3,354.7 1146.5,372.0 1136.0,380.0C1125.5,388.0 1108.5,393.0 1095.0,393.0C1081.5,393.0 1063.8,388.8 1055.0,380.0C1046.2,371.2 1042.0,352.5 1042.0,340.0C1042.0,327.5 1047.8,314.2 1055.0,305.0C1062.2,295.8 1073.8,286.7 1085.0,285.0Z"/>
</g></g>
<mask id="mk3" maskUnits="userSpaceOnUse" x="395.0" y="685.0" width="240" height="250">
<g transform="translate(400.00,690.00) scale(0.17188)">
<path d="M648.0,108.0C653.7,108.0 656.3,86.7 665.0,80.0C673.7,73.3 686.7,69.3 700.0,68.0C713.3,66.7 731.7,68.7 745.0,72.0C758.3,75.3 770.0,81.3 780.0,88.0C790.0,94.7 796.7,110.3 805.0,112.0C813.3,113.7 819.2,100.0 830.0,98.0C840.8,96.0 857.5,96.7 870.0,100.0C882.5,103.3 893.3,111.3 905.0,118.0C916.7,124.7 928.3,132.2 940.0,140.0C951.7,147.8 963.3,155.3 975.0,165.0C986.7,174.7 998.3,186.8 1010.0,198.0C1021.7,209.2 1033.3,220.3 1045.0,232.0C1056.7,243.7 1069.2,255.8 1080.0,268.0C1090.8,280.2 1100.3,291.7 1110.0,305.0C1119.7,318.3 1129.7,333.0 1138.0,348.0C1146.3,363.0 1153.3,378.8 1160.0,395.0C1166.7,411.2 1173.7,427.5 1178.0,445.0C1182.3,462.5 1185.3,481.7 1186.0,500.0C1186.7,518.3 1185.5,538.3 1182.0,555.0C1178.5,571.7 1172.8,587.8 1165.0,600.0C1157.2,612.2 1144.5,621.3 1135.0,628.0C1125.5,634.7 1109.2,633.3 1108.0,640.0C1106.8,646.7 1123.3,655.5 1128.0,668.0C1132.7,680.5 1135.3,698.0 1136.0,715.0C1136.7,732.0 1135.0,751.7 1132.0,770.0C1129.0,788.3 1124.7,807.5 1118.0,825.0C1111.3,842.5 1102.5,860.0 1092.0,875.0C1081.5,890.0 1068.7,903.3 1055.0,915.0C1041.3,926.7 1025.8,936.2 1010.0,945.0C994.2,953.8 977.5,962.5 960.0,968.0C942.5,973.5 921.3,976.8 905.0,978.0C888.7,979.2 873.2,980.5 862.0,975.0C850.8,969.5 843.3,957.5 838.0,945.0C832.7,932.5 832.2,914.2 830.0,900.0C827.8,885.8 830.0,871.3 825.0,860.0C820.0,848.7 810.8,838.3 800.0,832.0C789.2,825.7 774.2,824.8 760.0,822.0C745.8,819.2 729.2,818.7 715.0,815.0C700.8,811.3 685.0,805.8 675.0,800.0C665.0,794.2 659.5,785.0 655.0,780.0C650.5,775.0 650.4,770.0 648.0,770.0C645.6,770.0 645.5,775.0 640.9,780.0C636.3,785.0 630.7,794.2 620.5,800.0C610.3,805.8 594.1,811.3 579.7,815.0C565.2,818.7 548.2,819.2 533.8,822.0C519.3,824.8 504.0,825.7 493.0,832.0C481.9,838.3 472.6,848.7 467.5,860.0C462.4,871.3 464.6,885.8 462.4,900.0C460.1,914.2 459.6,932.5 454.2,945.0C448.8,957.5 441.1,969.5 429.7,975.0C418.3,980.5 402.5,979.2 385.9,978.0C369.2,976.8 347.6,973.5 329.8,968.0C311.9,962.5 294.9,953.8 278.8,945.0C262.6,936.2 246.8,926.7 232.9,915.0C218.9,903.3 205.8,890.0 195.1,875.0C184.4,860.0 175.4,842.5 168.6,825.0C161.8,807.5 157.4,788.3 154.3,770.0C151.3,751.7 149.6,732.0 150.2,715.0C150.9,698.0 153.6,680.5 158.4,668.0C163.2,655.5 180.0,646.7 178.8,640.0C177.6,633.3 160.9,634.7 151.3,628.0C141.6,621.3 128.6,612.2 120.7,600.0C112.7,587.8 106.9,571.7 103.3,555.0C99.7,538.3 98.6,518.3 99.2,500.0C99.9,481.7 103.0,462.5 107.4,445.0C111.8,427.5 119.0,411.2 125.8,395.0C132.6,378.8 139.7,363.0 148.2,348.0C156.7,333.0 166.9,318.3 176.8,305.0C186.6,291.7 196.3,280.2 207.4,268.0C218.4,255.8 231.2,243.7 243.1,232.0C255.0,220.3 266.9,209.2 278.8,198.0C290.7,186.8 302.6,174.7 314.5,165.0C326.4,155.3 338.3,147.8 350.2,140.0C362.1,132.2 374.0,124.7 385.9,118.0C397.8,111.3 408.8,103.3 421.6,100.0C434.3,96.7 451.3,96.0 462.4,98.0C473.4,100.0 479.4,113.7 487.9,112.0C496.4,110.3 503.2,94.7 513.4,88.0C523.6,81.3 535.5,75.3 549.1,72.0C562.7,68.7 581.4,66.7 595.0,68.0C608.6,69.3 621.8,73.3 630.7,80.0C639.5,86.7 642.3,108.0 648.0,108.0Z" fill="#fff"/>
<path d="M648.0,80.0C648.7,100.0 652.3,158.3 652.0,200.0C651.7,241.7 646.3,290.0 646.0,330.0C645.7,370.0 649.3,421.7 650.0,440.0" fill="none" stroke="#000" stroke-width="11" stroke-linecap="round" stroke-linejoin="round"/>
<path d="M648,80L650,146" fill="none" stroke="#000" stroke-width="20.9" stroke-linecap="round"/>
<path d="M808.0,108.0C805.8,120.8 803.0,160.5 795.0,185.0C787.0,209.5 769.5,236.7 760.0,255.0C750.5,273.3 741.7,288.3 738.0,295.0" fill="none" stroke="#000" stroke-width="10" stroke-linecap="round" stroke-linejoin="round"/>
<path d="M808,108L801,150" fill="none" stroke="#000" stroke-width="19.0" stroke-linecap="round"/>
<path d="M907.0,116.0C901.7,129.2 884.2,171.3 875.0,195.0C865.8,218.7 855.8,247.5 852.0,258.0" fill="none" stroke="#000" stroke-width="10" stroke-linecap="round" stroke-linejoin="round"/>
<path d="M907,116L889,159" fill="none" stroke="#000" stroke-width="19.0" stroke-linecap="round"/>
<path d="M1012.0,196.0C1003.7,208.0 977.0,247.7 962.0,268.0C947.0,288.3 928.7,309.7 922.0,318.0" fill="none" stroke="#000" stroke-width="10" stroke-linecap="round" stroke-linejoin="round"/>
<path d="M1012,196L984,236" fill="none" stroke="#000" stroke-width="19.0" stroke-linecap="round"/>
<path d="M1112.0,303.0C1100.3,312.2 1063.7,343.8 1042.0,358.0C1020.3,372.2 992.0,383.0 982.0,388.0" fill="none" stroke="#000" stroke-width="10" stroke-linecap="round" stroke-linejoin="round"/>
<path d="M1112,303L1074,333" fill="none" stroke="#000" stroke-width="19.0" stroke-linecap="round"/>
<path d="M1172.0,425.0C1160.8,426.2 1126.2,429.2 1105.0,432.0C1083.8,434.8 1055.0,440.3 1045.0,442.0" fill="none" stroke="#000" stroke-width="9" stroke-linecap="round" stroke-linejoin="round"/>
<path d="M1172,425L1135,429" fill="none" stroke="#000" stroke-width="17.099999999999998" stroke-linecap="round"/>
<path d="M1184.0,540.0C1173.3,539.2 1140.7,538.3 1120.0,535.0C1099.3,531.7 1070.0,522.5 1060.0,520.0" fill="none" stroke="#000" stroke-width="9" stroke-linecap="round" stroke-linejoin="round"/>
<path d="M1184,540L1149,537" fill="none" stroke="#000" stroke-width="17.099999999999998" stroke-linecap="round"/>
<path d="M1108.0,640.0C1096.7,633.3 1064.3,616.7 1040.0,600.0C1015.7,583.3 981.7,559.7 962.0,540.0C942.3,520.3 928.7,491.7 922.0,482.0" fill="none" stroke="#000" stroke-width="13" stroke-linecap="round" stroke-linejoin="round"/>
<path d="M1108,640L1071,618" fill="none" stroke="#000" stroke-width="24.7" stroke-linecap="round"/>
<path d="M1120.0,640.0C1108.3,644.7 1071.7,658.0 1050.0,668.0C1028.3,678.0 1000.0,694.7 990.0,700.0" fill="none" stroke="#000" stroke-width="20" stroke-linecap="round" stroke-linejoin="round"/>
<path d="M1120,640L1082,655" fill="none" stroke="#000" stroke-width="38.0" stroke-linecap="round"/>
<path d="M1136.0,742.0C1126.7,745.0 1099.0,750.3 1080.0,760.0C1061.0,769.7 1031.7,793.3 1022.0,800.0" fill="none" stroke="#000" stroke-width="9" stroke-linecap="round" stroke-linejoin="round"/>
<path d="M1136,742L1105,752" fill="none" stroke="#000" stroke-width="17.099999999999998" stroke-linecap="round"/>
<path d="M1060.0,913.0C1053.3,905.8 1031.7,880.5 1020.0,870.0C1008.3,859.5 995.0,853.3 990.0,850.0" fill="none" stroke="#000" stroke-width="9" stroke-linecap="round" stroke-linejoin="round"/>
<path d="M1060,913L1038,889" fill="none" stroke="#000" stroke-width="17.099999999999998" stroke-linecap="round"/>
<path d="M905.0,978.0C906.7,970.0 910.0,944.7 915.0,930.0C920.0,915.3 931.7,896.7 935.0,890.0" fill="none" stroke="#000" stroke-width="9" stroke-linecap="round" stroke-linejoin="round"/>
<path d="M905,978L910,952" fill="none" stroke="#000" stroke-width="17.099999999999998" stroke-linecap="round"/>
<path d="M690.0,300.0L740.0,310.0" fill="none" stroke="#000" stroke-width="8" stroke-linecap="round" stroke-linejoin="round"/>
<path d="M700.0,380.0L745.0,395.0" fill="none" stroke="#000" stroke-width="8" stroke-linecap="round" stroke-linejoin="round"/>
<path d="M685.0,220.0L730.0,235.0" fill="none" stroke="#000" stroke-width="7" stroke-linecap="round" stroke-linejoin="round"/>
<path d="M825.0,880.0C834.2,870.0 859.2,839.2 880.0,820.0C900.8,800.8 928.3,782.5 950.0,765.0C971.7,747.5 1000.0,723.3 1010.0,715.0" fill="none" stroke="#000" stroke-width="26" stroke-linecap="round" stroke-linejoin="round"/>
<path d="M825,880L855,847" fill="none" stroke="#000" stroke-width="49.4" stroke-linecap="round"/>
<path d="M484.8,108.0C487.0,120.8 489.9,160.5 498.1,185.0C506.2,209.5 524.1,236.7 533.8,255.0C543.5,273.3 552.5,288.3 556.2,295.0" fill="none" stroke="#000" stroke-width="10" stroke-linecap="round" stroke-linejoin="round"/>
<path d="M485,108L492,150" fill="none" stroke="#000" stroke-width="19.0" stroke-linecap="round"/>
<path d="M383.8,116.0C389.3,129.2 407.1,171.3 416.5,195.0C425.8,218.7 436.0,247.5 439.9,258.0" fill="none" stroke="#000" stroke-width="10" stroke-linecap="round" stroke-linejoin="round"/>
<path d="M384,116L402,159" fill="none" stroke="#000" stroke-width="19.0" stroke-linecap="round"/>
<path d="M276.7,196.0C285.2,208.0 312.4,247.7 327.7,268.0C343.0,288.3 361.7,309.7 368.5,318.0" fill="none" stroke="#000" stroke-width="10" stroke-linecap="round" stroke-linejoin="round"/>
<path d="M277,196L305,236" fill="none" stroke="#000" stroke-width="19.0" stroke-linecap="round"/>
<path d="M174.7,303.0C186.6,312.2 224.0,343.8 246.1,358.0C268.2,372.2 297.1,383.0 307.3,388.0" fill="none" stroke="#000" stroke-width="10" stroke-linecap="round" stroke-linejoin="round"/>
<path d="M175,303L214,333" fill="none" stroke="#000" stroke-width="19.0" stroke-linecap="round"/>
<path d="M113.5,425.0C124.9,426.2 160.3,429.2 181.9,432.0C203.5,434.8 232.9,440.3 243.1,442.0" fill="none" stroke="#000" stroke-width="9" stroke-linecap="round" stroke-linejoin="round"/>
<path d="M114,425L151,429" fill="none" stroke="#000" stroke-width="17.099999999999998" stroke-linecap="round"/>
<path d="M101.3,540.0C112.2,539.2 145.5,538.3 166.6,535.0C187.6,531.7 217.6,522.5 227.8,520.0" fill="none" stroke="#000" stroke-width="9" stroke-linecap="round" stroke-linejoin="round"/>
<path d="M101,540L137,537" fill="none" stroke="#000" stroke-width="17.099999999999998" stroke-linecap="round"/>
<path d="M178.8,640.0C190.4,633.3 223.3,616.7 248.2,600.0C273.0,583.3 307.7,559.7 327.7,540.0C347.8,520.3 361.7,491.7 368.5,482.0" fill="none" stroke="#000" stroke-width="13" stroke-linecap="round" stroke-linejoin="round"/>
<path d="M179,640L217,618" fill="none" stroke="#000" stroke-width="24.7" stroke-linecap="round"/>
<path d="M166.6,640.0C178.5,644.7 215.9,658.0 238.0,668.0C260.1,678.0 289.0,694.7 299.2,700.0" fill="none" stroke="#000" stroke-width="20" stroke-linecap="round" stroke-linejoin="round"/>
<path d="M167,640L206,655" fill="none" stroke="#000" stroke-width="38.0" stroke-linecap="round"/>
<path d="M150.2,742.0C159.8,745.0 188.0,750.3 207.4,760.0C226.7,769.7 256.7,793.3 266.5,800.0" fill="none" stroke="#000" stroke-width="9" stroke-linecap="round" stroke-linejoin="round"/>
<path d="M150,742L182,752" fill="none" stroke="#000" stroke-width="17.099999999999998" stroke-linecap="round"/>
<path d="M227.8,913.0C234.6,905.8 256.7,880.5 268.6,870.0C280.5,859.5 294.1,853.3 299.2,850.0" fill="none" stroke="#000" stroke-width="9" stroke-linecap="round" stroke-linejoin="round"/>
<path d="M228,913L250,889" fill="none" stroke="#000" stroke-width="17.099999999999998" stroke-linecap="round"/>
<path d="M385.9,978.0C384.2,970.0 380.8,944.7 375.7,930.0C370.6,915.3 358.7,896.7 355.3,890.0" fill="none" stroke="#000" stroke-width="9" stroke-linecap="round" stroke-linejoin="round"/>
<path d="M386,978L380,952" fill="none" stroke="#000" stroke-width="17.099999999999998" stroke-linecap="round"/>
<path d="M605.2,300.0L554.2,310.0" fill="none" stroke="#000" stroke-width="8" stroke-linecap="round" stroke-linejoin="round"/>
<path d="M595.0,380.0L549.1,395.0" fill="none" stroke="#000" stroke-width="8" stroke-linecap="round" stroke-linejoin="round"/>
<path d="M610.3,220.0L564.4,235.0" fill="none" stroke="#000" stroke-width="7" stroke-linecap="round" stroke-linejoin="round"/>
<path d="M467.5,880.0C458.1,870.0 432.6,839.2 411.4,820.0C390.1,800.8 362.1,782.5 340.0,765.0C317.9,747.5 289.0,723.3 278.8,715.0" fill="none" stroke="#000" stroke-width="26" stroke-linecap="round" stroke-linejoin="round"/>
<path d="M467,880L437,847" fill="none" stroke="#000" stroke-width="49.4" stroke-linecap="round"/>
<path d="M745.0,72.0C746.5,77.7 750.9,94.9 753.8,106.3C756.8,117.8 761.2,134.9 762.6,140.7" fill="none" stroke="#000" stroke-width="9" stroke-linecap="round" stroke-linejoin="round"/>
<path d="M745,72L750,91" fill="none" stroke="#000" stroke-width="17.099999999999998" stroke-linecap="round"/>
<path d="M1165.0,600.0C1159.2,603.5 1141.7,614.1 1130.0,621.2C1118.4,628.3 1100.9,638.9 1095.0,642.4" fill="none" stroke="#000" stroke-width="9" stroke-linecap="round" stroke-linejoin="round"/>
<path d="M1165,600L1146,612" fill="none" stroke="#000" stroke-width="17.099999999999998" stroke-linecap="round"/>
<path d="M1118.0,825.0C1107.4,821.5 1075.7,810.9 1054.5,803.9C1033.3,796.8 1001.6,786.3 991.0,782.7" fill="none" stroke="#000" stroke-width="9" stroke-linecap="round" stroke-linejoin="round"/>
<path d="M1118,825L1083,813" fill="none" stroke="#000" stroke-width="17.099999999999998" stroke-linecap="round"/>
<path d="M1010.0,945.0C1008.1,939.5 1002.3,922.8 998.5,911.7C994.6,900.7 988.9,884.0 986.9,878.5" fill="none" stroke="#000" stroke-width="9" stroke-linecap="round" stroke-linejoin="round"/>
<path d="M1010,945L1004,927" fill="none" stroke="#000" stroke-width="17.099999999999998" stroke-linecap="round"/>
<path d="M960.0,968.0C962.1,956.0 968.3,920.1 972.4,896.2C976.6,872.2 982.8,836.3 984.9,824.4" fill="none" stroke="#000" stroke-width="9" stroke-linecap="round" stroke-linejoin="round"/>
<path d="M960,968L967,929" fill="none" stroke="#000" stroke-width="17.099999999999998" stroke-linecap="round"/>
<path d="M454.2,945.0C443.6,938.9 411.9,920.5 390.7,908.3C369.6,896.1 337.9,877.7 327.3,871.6" fill="none" stroke="#000" stroke-width="9" stroke-linecap="round" stroke-linejoin="round"/>
<path d="M454,945L419,925" fill="none" stroke="#000" stroke-width="17.099999999999998" stroke-linecap="round"/>
<path d="M329.8,968.0C328.2,959.1 323.5,932.6 320.4,914.8C317.3,897.1 312.6,870.6 311.1,861.7" fill="none" stroke="#000" stroke-width="9" stroke-linecap="round" stroke-linejoin="round"/>
<path d="M330,968L325,939" fill="none" stroke="#000" stroke-width="17.099999999999998" stroke-linecap="round"/>
<path d="M278.8,945.0C282.8,936.5 294.8,911.1 302.8,894.1C310.8,877.2 322.8,851.7 326.8,843.2" fill="none" stroke="#000" stroke-width="9" stroke-linecap="round" stroke-linejoin="round"/>
<path d="M279,945L292,917" fill="none" stroke="#000" stroke-width="17.099999999999998" stroke-linecap="round"/>
<path d="M168.6,825.0C174.3,823.7 191.5,819.7 202.9,817.1C214.3,814.4 231.5,810.5 237.2,809.2" fill="none" stroke="#000" stroke-width="9" stroke-linecap="round" stroke-linejoin="round"/>
<path d="M169,825L187,821" fill="none" stroke="#000" stroke-width="17.099999999999998" stroke-linecap="round"/>
<path d="M120.7,600.0C122.8,604.1 129.2,616.5 133.4,624.7C137.7,633.0 144.1,645.3 146.2,649.4" fill="none" stroke="#000" stroke-width="9" stroke-linecap="round" stroke-linejoin="round"/>
<path d="M121,600L128,614" fill="none" stroke="#000" stroke-width="17.099999999999998" stroke-linecap="round"/>
<path d="M549.1,72.0C547.9,78.5 544.6,97.9 542.4,110.9C540.1,123.8 536.8,143.3 535.7,149.8" fill="none" stroke="#000" stroke-width="9" stroke-linecap="round" stroke-linejoin="round"/>
<path d="M549,72L545,93" fill="none" stroke="#000" stroke-width="17.099999999999998" stroke-linecap="round"/>
</g></mask>
<g filter="url(#mri)"><rect x="395.0" y="685.0" width="240" height="250" fill="#fff" mask="url(#mk3)"/></g>
<g filter="url(#bl1)"><g transform="translate(400.00,690.00) scale(0.17188)">
<ellipse cx="648" cy="685" rx="225" ry="90" transform="rotate(0 648 685)" fill="#c6c6c6"/>
<ellipse cx="520" cy="585" rx="58" ry="88" transform="rotate(-18 520 585)" fill="#a8a8a8"/>
<ellipse cx="776" cy="585" rx="58" ry="88" transform="rotate(18 776 585)" fill="#a8a8a8"/>
<ellipse cx="335" cy="610" rx="38" ry="95" transform="rotate(28 335 610)" fill="#a9a9a9"/>
<ellipse cx="960" cy="600" rx="38" ry="95" transform="rotate(-28 960 600)" fill="#a9a9a9"/>
<ellipse cx="520" cy="750" rx="62" ry="42" transform="rotate(0 520 750)" fill="#a6a6a6"/>
<ellipse cx="776" cy="750" rx="62" ry="42" transform="rotate(0 776 750)" fill="#a6a6a6"/>
<ellipse cx="420" cy="730" rx="55" ry="60" transform="rotate(0 420 730)" fill="#b0b0b0"/>
<ellipse cx="880" cy="720" rx="55" ry="60" transform="rotate(0 880 720)" fill="#b0b0b0"/>
<ellipse cx="648" cy="370" rx="50" ry="45" transform="rotate(0 648 370)" fill="#a8a8a8"/>
<path d="M795.0,470.0C793.3,466.0 765.8,481.7 750.0,488.0C734.2,494.3 715.0,502.0 700.0,508.0C685.0,514.0 667.3,510.0 660.0,524.0C652.7,538.0 654.0,584.0 656.0,592.0C658.0,600.0 663.0,579.7 672.0,572.0C681.0,564.3 695.3,556.0 710.0,546.0C724.7,536.0 745.8,524.7 760.0,512.0C774.2,499.3 796.7,474.0 795.0,470.0Z" fill="#000"/>
<path d="M515.0,482.0C517.5,477.8 544.2,486.2 560.0,490.0C575.8,493.8 596.7,500.0 610.0,505.0C623.3,510.0 634.7,505.5 640.0,520.0C645.3,534.5 644.5,583.7 642.0,592.0C639.5,600.3 633.7,578.7 625.0,570.0C616.3,561.3 603.3,549.2 590.0,540.0C576.7,530.8 557.5,524.7 545.0,515.0C532.5,505.3 512.5,486.2 515.0,482.0Z" fill="#000"/>
<path d="M640.0,640.0C645.3,629.2 651.3,622.5 654.0,640.0C656.7,657.5 660.0,729.2 656.0,745.0C652.0,760.8 635.7,741.7 630.0,735.0C624.3,728.3 620.3,720.8 622.0,705.0C623.7,689.2 634.7,650.8 640.0,640.0Z" fill="#000"/>
<path d="M520.0,745.0L520.0,760.0" fill="none" stroke="#6a6a6a" stroke-width="14" stroke-linecap="round"/>
<path d="M776.0,745.0L776.0,760.0" fill="none" stroke="#6a6a6a" stroke-width="14" stroke-linecap="round"/>
</g></g>
<defs><filter id="act4" x="-30%" y="-30%" width="160%" height="160%" color-interpolation-filters="sRGB"><feGaussianBlur in="SourceAlpha" stdDeviation="2.8"/><feColorMatrix type="matrix" values="0 0 0 1 0  0 0 0 1 0  0 0 0 1 0  0 0 0 1 0"/><feComponentTransfer><feFuncR type="table" tableValues="0.68 0.68 0.68 0.68 0.68 0.68 0.68 0.68 0.68 0.68 0.68 0.68 0.68 0.68 0.68 0.70 0.75 0.81 0.86 0.92 0.97 1.00 1.00 1.00 1.00 1.00 1.00 1.00 1.00 1.00 1.00 1.00 1.00 1.00 1.00 1.00 1.00 1.00 1.00 1.00 1.00"/><feFuncG type="table" tableValues="1.00 1.00 1.00 1.00 1.00 1.00 1.00 1.00 1.00 1.00 1.00 1.00 1.00 1.00 1.00 1.00 1.00 1.00 1.00 1.00 1.00 0.98 0.95 0.91 0.88 0.84 0.81 0.77 0.73 0.70 0.66 0.63 0.59 0.56 0.52 0.49 0.45 0.42 0.38 0.35 0.31"/><feFuncB type="table" tableValues="0.00 0.00 0.00 0.00 0.00 0.00 0.00 0.00 0.00 0.00 0.00 0.00 0.00 0.00 0.00 0.00 0.00 0.00 0.00 0.00 0.00 0.00 0.00 0.00 0.00 0.00 0.00 0.00 0.00 0.00 0.00 0.00 0.00 0.00 0.00 0.00 0.00 0.00 0.00 0.00 0.00"/><feFuncA type="table" tableValues="0.00 0.00 0.00 0.00 0.00 0.00 0.00 0.00 0.00 0.00 0.00 0.00 0.50 1.00 1.00 1.00 1.00 1.00 1.00 1.00 1.00 1.00 1.00 1.00 1.00 1.00 1.00 1.00 1.00 1.00 1.00 1.00 1.00 1.00 1.00 1.00 1.00 1.00 1.00 1.00 1.00"/></feComponentTransfer><feGaussianBlur stdDeviation="0.45"/></filter></defs>
<g filter="url(#act4)"><g transform="translate(400.00,690.00) scale(0.17188)" fill="#f00">
<ellipse cx="192" cy="636" rx="58" ry="40" transform="rotate(22 192 636)"/>
<path d="M225.0,605.0C233.3,593.0 279.2,586.2 300.0,578.0C320.8,569.8 341.0,555.7 350.0,556.0C359.0,556.3 362.3,570.7 354.0,580.0C345.7,589.3 317.3,600.3 300.0,612.0C282.7,623.7 262.5,651.2 250.0,650.0C237.5,648.8 216.7,617.0 225.0,605.0Z"/>
</g></g>
<mask id="mk4" maskUnits="userSpaceOnUse" x="665.0" y="675.0" width="240" height="250">
<g transform="translate(670.00,680.00) scale(0.17188)">
<path d="M628.0,118.0C633.8,118.0 636.3,85.5 645.0,75.0C653.7,64.5 664.2,59.2 680.0,55.0C695.8,50.8 720.0,49.2 740.0,50.0C760.0,50.8 781.7,55.0 800.0,60.0C818.3,65.0 836.7,73.3 850.0,80.0C863.3,86.7 870.0,95.3 880.0,100.0C890.0,104.7 899.2,103.0 910.0,108.0C920.8,113.0 934.2,120.5 945.0,130.0C955.8,139.5 965.0,155.0 975.0,165.0C985.0,175.0 994.2,180.0 1005.0,190.0C1015.8,200.0 1029.2,213.0 1040.0,225.0C1050.8,237.0 1060.0,249.5 1070.0,262.0C1080.0,274.5 1090.3,287.0 1100.0,300.0C1109.7,313.0 1119.3,325.8 1128.0,340.0C1136.7,354.2 1144.7,369.2 1152.0,385.0C1159.3,400.8 1166.0,417.5 1172.0,435.0C1178.0,452.5 1184.0,471.7 1188.0,490.0C1192.0,508.3 1195.0,526.7 1196.0,545.0C1197.0,563.3 1195.7,582.5 1194.0,600.0C1192.3,617.5 1186.7,633.3 1186.0,650.0C1185.3,666.7 1189.0,681.7 1190.0,700.0C1191.0,718.3 1193.0,740.0 1192.0,760.0C1191.0,780.0 1188.3,800.0 1184.0,820.0C1179.7,840.0 1173.3,861.7 1166.0,880.0C1158.7,898.3 1150.2,914.2 1140.0,930.0C1129.8,945.8 1117.5,961.3 1105.0,975.0C1092.5,988.7 1079.2,1000.8 1065.0,1012.0C1050.8,1023.2 1035.8,1034.3 1020.0,1042.0C1004.2,1049.7 987.5,1055.8 970.0,1058.0C952.5,1060.2 931.7,1058.8 915.0,1055.0C898.3,1051.2 882.5,1043.3 870.0,1035.0C857.5,1026.7 849.2,1017.5 840.0,1005.0C830.8,992.5 823.3,975.0 815.0,960.0C806.7,945.0 798.8,928.3 790.0,915.0C781.2,901.7 771.2,891.7 762.0,880.0C752.8,868.3 744.5,857.5 735.0,845.0C725.5,832.5 715.8,814.2 705.0,805.0C694.2,795.8 680.8,792.5 670.0,790.0C659.2,787.5 647.0,789.2 640.0,790.0C633.0,790.8 632.1,795.0 628.0,795.0C623.9,795.0 622.8,790.8 615.6,790.0C608.3,789.2 595.7,787.5 584.5,790.0C573.3,792.5 559.5,795.8 548.3,805.0C537.1,814.2 527.1,832.5 517.3,845.0C507.4,857.5 498.8,868.3 489.3,880.0C479.8,891.7 469.5,901.7 460.3,915.0C451.2,928.3 443.1,945.0 434.5,960.0C425.8,975.0 418.1,992.5 408.6,1005.0C399.1,1017.5 390.5,1026.7 377.5,1035.0C364.6,1043.3 348.2,1051.2 331.0,1055.0C313.7,1058.8 292.1,1060.2 274.0,1058.0C255.9,1055.8 238.7,1049.7 222.3,1042.0C205.9,1034.3 190.4,1023.2 175.7,1012.0C161.0,1000.8 147.2,988.7 134.3,975.0C121.4,961.3 108.6,945.8 98.1,930.0C87.6,914.2 78.8,898.3 71.2,880.0C63.6,861.7 57.0,840.0 52.5,820.0C48.1,800.0 45.3,780.0 44.3,760.0C43.2,740.0 45.3,718.3 46.3,700.0C47.4,681.7 51.2,666.7 50.5,650.0C49.8,633.3 43.9,617.5 42.2,600.0C40.5,582.5 39.1,563.3 40.1,545.0C41.2,526.7 44.3,508.3 48.4,490.0C52.5,471.7 58.8,452.5 65.0,435.0C71.2,417.5 78.1,400.8 85.7,385.0C93.3,369.2 101.5,354.2 110.5,340.0C119.5,325.8 129.5,313.0 139.5,300.0C149.5,287.0 160.2,274.5 170.5,262.0C180.9,249.5 190.4,237.0 201.6,225.0C212.8,213.0 226.6,200.0 237.8,190.0C249.0,180.0 258.5,175.0 268.9,165.0C279.2,155.0 288.7,139.5 299.9,130.0C311.1,120.5 324.9,113.0 336.1,108.0C347.3,103.0 356.8,104.7 367.2,100.0C377.5,95.3 384.4,86.7 398.2,80.0C412.0,73.3 431.0,65.0 450.0,60.0C469.0,55.0 491.4,50.8 512.1,50.0C532.8,49.2 557.8,50.8 574.2,55.0C590.6,59.2 601.4,64.5 610.4,75.0C619.4,85.5 622.2,118.0 628.0,118.0Z" fill="#fff"/>
<path d="M628.0,90.0C628.3,116.7 630.2,195.0 630.0,250.0C629.8,305.0 627.5,391.7 627.0,420.0" fill="none" stroke="#000" stroke-width="10" stroke-linecap="round" stroke-linejoin="round"/>
<path d="M628,90L629,178" fill="none" stroke="#000" stroke-width="19.0" stroke-linecap="round"/>
<path d="M882.0,98.0C877.0,110.0 863.7,148.0 852.0,170.0C840.3,192.0 818.7,220.0 812.0,230.0" fill="none" stroke="#000" stroke-width="10" stroke-linecap="round" stroke-linejoin="round"/>
<path d="M882,98L866,138" fill="none" stroke="#000" stroke-width="19.0" stroke-linecap="round"/>
<path d="M977.0,163.0C969.5,174.2 946.2,210.5 932.0,230.0C917.8,249.5 898.7,271.7 892.0,280.0" fill="none" stroke="#000" stroke-width="10" stroke-linecap="round" stroke-linejoin="round"/>
<path d="M977,163L952,200" fill="none" stroke="#000" stroke-width="19.0" stroke-linecap="round"/>
<path d="M1072.0,260.0C1062.0,268.3 1030.3,296.7 1012.0,310.0C993.7,323.3 970.3,335.0 962.0,340.0" fill="none" stroke="#000" stroke-width="10" stroke-linecap="round" stroke-linejoin="round"/>
<path d="M1072,260L1039,288" fill="none" stroke="#000" stroke-width="19.0" stroke-linecap="round"/>
<path d="M1154.0,383.0C1143.7,387.5 1112.3,402.2 1092.0,410.0C1071.7,417.8 1047.3,425.0 1032.0,430.0C1016.7,435.0 1005.3,438.3 1000.0,440.0" fill="none" stroke="#000" stroke-width="10" stroke-linecap="round" stroke-linejoin="round"/>
<path d="M1154,383L1120,398" fill="none" stroke="#000" stroke-width="19.0" stroke-linecap="round"/>
<path d="M1192.0,505.0C1182.0,507.5 1147.0,510.8 1132.0,520.0C1117.0,529.2 1105.3,546.7 1102.0,560.0C1098.7,573.3 1110.3,593.3 1112.0,600.0" fill="none" stroke="#000" stroke-width="10" stroke-linecap="round" stroke-linejoin="round"/>
<path d="M1192,505L1159,513" fill="none" stroke="#000" stroke-width="19.0" stroke-linecap="round"/>
<path d="M1188.0,650.0C1176.7,651.7 1143.0,660.0 1120.0,660.0C1097.0,660.0 1070.0,656.7 1050.0,650.0C1030.0,643.3 1014.7,634.7 1000.0,620.0C985.3,605.3 968.3,571.7 962.0,562.0" fill="none" stroke="#000" stroke-width="15" stroke-linecap="round" stroke-linejoin="round"/>
<path d="M1188,650L1151,656" fill="none" stroke="#000" stroke-width="28.5" stroke-linecap="round"/>
<path d="M1192.0,772.0C1182.0,771.7 1150.3,767.0 1132.0,770.0C1113.7,773.0 1090.3,786.7 1082.0,790.0" fill="none" stroke="#000" stroke-width="9" stroke-linecap="round" stroke-linejoin="round"/>
<path d="M1192,772L1159,771" fill="none" stroke="#000" stroke-width="17.099999999999998" stroke-linecap="round"/>
<path d="M1142.0,928.0C1133.7,921.7 1107.0,899.7 1092.0,890.0C1077.0,880.3 1058.7,873.3 1052.0,870.0" fill="none" stroke="#000" stroke-width="9" stroke-linecap="round" stroke-linejoin="round"/>
<path d="M1142,928L1114,907" fill="none" stroke="#000" stroke-width="17.099999999999998" stroke-linecap="round"/>
<path d="M970.0,1058.0C970.8,1048.3 971.7,1016.3 975.0,1000.0C978.3,983.7 987.5,966.7 990.0,960.0" fill="none" stroke="#000" stroke-width="9" stroke-linecap="round" stroke-linejoin="round"/>
<path d="M970,1058L973,1026" fill="none" stroke="#000" stroke-width="17.099999999999998" stroke-linecap="round"/>
<path d="M842.0,1003.0C848.3,995.8 870.3,973.8 880.0,960.0C889.7,946.2 896.7,926.7 900.0,920.0" fill="none" stroke="#000" stroke-width="8" stroke-linecap="round" stroke-linejoin="round"/>
<path d="M670.0,300.0L720.0,320.0" fill="none" stroke="#000" stroke-width="8" stroke-linecap="round" stroke-linejoin="round"/>
<path d="M665.0,380.0L710.0,400.0" fill="none" stroke="#000" stroke-width="8" stroke-linecap="round" stroke-linejoin="round"/>
<path d="M660.0,210.0L700.0,230.0" fill="none" stroke="#000" stroke-width="7" stroke-linecap="round" stroke-linejoin="round"/>
<path d="M1060.0,760.0C1048.3,766.7 1011.7,783.3 990.0,800.0C968.3,816.7 940.0,850.0 930.0,860.0" fill="none" stroke="#000" stroke-width="8" stroke-linecap="round" stroke-linejoin="round"/>
<path d="M1030.0,900.0C1018.3,903.3 981.7,905.8 960.0,920.0C938.3,934.2 910.0,974.2 900.0,985.0" fill="none" stroke="#000" stroke-width="8" stroke-linecap="round" stroke-linejoin="round"/>
<path d="M1110.0,820.0L1040.0,860.0" fill="none" stroke="#000" stroke-width="7" stroke-linecap="round" stroke-linejoin="round"/>
<path d="M1120.0,560.0C1106.7,565.0 1066.7,585.8 1040.0,590.0C1013.3,594.2 973.3,585.8 960.0,585.0" fill="none" stroke="#000" stroke-width="7" stroke-linecap="round" stroke-linejoin="round"/>
<path d="M900.0,700.0C908.3,706.7 933.3,734.2 950.0,740.0C966.7,745.8 991.7,735.8 1000.0,735.0" fill="none" stroke="#000" stroke-width="7" stroke-linecap="round" stroke-linejoin="round"/>
<path d="M365.1,98.0C370.3,110.0 384.1,148.0 396.2,170.0C408.2,192.0 430.7,220.0 437.6,230.0" fill="none" stroke="#000" stroke-width="10" stroke-linecap="round" stroke-linejoin="round"/>
<path d="M365,98L382,138" fill="none" stroke="#000" stroke-width="19.0" stroke-linecap="round"/>
<path d="M266.8,163.0C274.5,174.2 298.7,210.5 313.4,230.0C328.0,249.5 347.9,271.7 354.8,280.0" fill="none" stroke="#000" stroke-width="10" stroke-linecap="round" stroke-linejoin="round"/>
<path d="M267,163L292,200" fill="none" stroke="#000" stroke-width="19.0" stroke-linecap="round"/>
<path d="M168.5,260.0C178.8,268.3 211.6,296.7 230.6,310.0C249.5,323.3 273.7,335.0 282.3,340.0" fill="none" stroke="#000" stroke-width="10" stroke-linecap="round" stroke-linejoin="round"/>
<path d="M168,260L203,288" fill="none" stroke="#000" stroke-width="19.0" stroke-linecap="round"/>
<path d="M83.6,383.0C94.3,387.5 126.7,402.2 147.8,410.0C168.8,417.8 194.0,425.0 209.9,430.0C225.7,435.0 237.5,438.3 243.0,440.0" fill="none" stroke="#000" stroke-width="10" stroke-linecap="round" stroke-linejoin="round"/>
<path d="M84,383L119,398" fill="none" stroke="#000" stroke-width="19.0" stroke-linecap="round"/>
<path d="M44.3,505.0C54.6,507.5 90.8,510.8 106.4,520.0C121.9,529.2 134.0,546.7 137.4,560.0C140.9,573.3 128.8,593.3 127.1,600.0" fill="none" stroke="#000" stroke-width="10" stroke-linecap="round" stroke-linejoin="round"/>
<path d="M44,505L78,513" fill="none" stroke="#000" stroke-width="19.0" stroke-linecap="round"/>
<path d="M48.4,650.0C60.1,651.7 95.0,660.0 118.8,660.0C142.6,660.0 170.5,656.7 191.2,650.0C211.9,643.3 227.8,634.7 243.0,620.0C258.2,605.3 275.8,571.7 282.3,562.0" fill="none" stroke="#000" stroke-width="15" stroke-linecap="round" stroke-linejoin="round"/>
<path d="M48,650L87,656" fill="none" stroke="#000" stroke-width="28.5" stroke-linecap="round"/>
<path d="M44.3,772.0C54.6,771.7 87.4,767.0 106.4,770.0C125.3,773.0 149.5,786.7 158.1,790.0" fill="none" stroke="#000" stroke-width="9" stroke-linecap="round" stroke-linejoin="round"/>
<path d="M44,772L78,771" fill="none" stroke="#000" stroke-width="17.099999999999998" stroke-linecap="round"/>
<path d="M96.0,928.0C104.6,921.7 132.2,899.7 147.8,890.0C163.3,880.3 182.3,873.3 189.2,870.0" fill="none" stroke="#000" stroke-width="9" stroke-linecap="round" stroke-linejoin="round"/>
<path d="M96,928L124,907" fill="none" stroke="#000" stroke-width="17.099999999999998" stroke-linecap="round"/>
<path d="M274.0,1058.0C273.2,1048.3 272.3,1016.3 268.9,1000.0C265.4,983.7 255.9,966.7 253.3,960.0" fill="none" stroke="#000" stroke-width="9" stroke-linecap="round" stroke-linejoin="round"/>
<path d="M274,1058L271,1026" fill="none" stroke="#000" stroke-width="17.099999999999998" stroke-linecap="round"/>
<path d="M406.5,1003.0C400.0,995.8 377.2,973.8 367.2,960.0C357.2,946.2 349.9,926.7 346.5,920.0" fill="none" stroke="#000" stroke-width="8" stroke-linecap="round" stroke-linejoin="round"/>
<path d="M584.5,300.0L532.8,320.0" fill="none" stroke="#000" stroke-width="8" stroke-linecap="round" stroke-linejoin="round"/>
<path d="M589.7,380.0L543.1,400.0" fill="none" stroke="#000" stroke-width="8" stroke-linecap="round" stroke-linejoin="round"/>
<path d="M594.9,210.0L553.5,230.0" fill="none" stroke="#000" stroke-width="7" stroke-linecap="round" stroke-linejoin="round"/>
<path d="M180.9,760.0C193.0,766.7 230.9,783.3 253.3,800.0C275.8,816.7 305.1,850.0 315.4,860.0" fill="none" stroke="#000" stroke-width="8" stroke-linecap="round" stroke-linejoin="round"/>
<path d="M211.9,900.0C224.0,903.3 262.0,905.8 284.4,920.0C306.8,934.2 336.1,974.2 346.5,985.0" fill="none" stroke="#000" stroke-width="8" stroke-linecap="round" stroke-linejoin="round"/>
<path d="M129.1,820.0L201.6,860.0" fill="none" stroke="#000" stroke-width="7" stroke-linecap="round" stroke-linejoin="round"/>
<path d="M118.8,560.0C132.6,565.0 174.0,585.8 201.6,590.0C229.2,594.2 270.6,585.8 284.4,585.0" fill="none" stroke="#000" stroke-width="7" stroke-linecap="round" stroke-linejoin="round"/>
<path d="M346.5,700.0C337.9,706.7 312.0,734.2 294.7,740.0C277.5,745.8 251.6,735.8 243.0,735.0" fill="none" stroke="#000" stroke-width="7" stroke-linecap="round" stroke-linejoin="round"/>
<path d="M680.0,55.0C683.1,58.6 692.4,69.5 698.6,76.7C704.8,83.9 714.1,94.8 717.2,98.4" fill="none" stroke="#000" stroke-width="9" stroke-linecap="round" stroke-linejoin="round"/>
<path d="M680,55L690,67" fill="none" stroke="#000" stroke-width="17.099999999999998" stroke-linecap="round"/>
<path d="M740.0,50.0C743.6,55.0 754.6,70.1 761.8,80.1C769.1,90.1 780.0,105.2 783.7,110.2" fill="none" stroke="#000" stroke-width="9" stroke-linecap="round" stroke-linejoin="round"/>
<path d="M740,50L752,67" fill="none" stroke="#000" stroke-width="17.099999999999998" stroke-linecap="round"/>
<path d="M800.0,60.0C801.6,65.3 806.4,81.0 809.6,91.6C812.8,102.1 817.7,117.9 819.3,123.1" fill="none" stroke="#000" stroke-width="9" stroke-linecap="round" stroke-linejoin="round"/>
<path d="M800,60L805,77" fill="none" stroke="#000" stroke-width="17.099999999999998" stroke-linecap="round"/>
<path d="M1172.0,435.0C1168.4,435.2 1157.8,435.7 1150.6,436.0C1143.5,436.3 1132.8,436.8 1129.3,437.0" fill="none" stroke="#000" stroke-width="9" stroke-linecap="round" stroke-linejoin="round"/>
<path d="M1172,435L1160,436" fill="none" stroke="#000" stroke-width="17.099999999999998" stroke-linecap="round"/>
<path d="M1105.0,975.0C1100.3,971.3 1086.3,960.4 1077.0,953.1C1067.7,945.7 1053.7,934.8 1049.0,931.1" fill="none" stroke="#000" stroke-width="9" stroke-linecap="round" stroke-linejoin="round"/>
<path d="M1105,975L1090,963" fill="none" stroke="#000" stroke-width="17.099999999999998" stroke-linecap="round"/>
<path d="M1065.0,1012.0C1060.2,1007.8 1045.7,995.2 1036.1,986.8C1026.5,978.4 1012.0,965.8 1007.2,961.6" fill="none" stroke="#000" stroke-width="9" stroke-linecap="round" stroke-linejoin="round"/>
<path d="M1065,1012L1049,998" fill="none" stroke="#000" stroke-width="17.099999999999998" stroke-linecap="round"/>
<path d="M915.0,1055.0C918.7,1047.1 930.0,1023.3 937.5,1007.4C945.0,991.5 956.2,967.7 959.9,959.8" fill="none" stroke="#000" stroke-width="9" stroke-linecap="round" stroke-linejoin="round"/>
<path d="M915,1055L927,1029" fill="none" stroke="#000" stroke-width="17.099999999999998" stroke-linecap="round"/>
<path d="M790.0,915.0C795.6,911.5 812.5,901.0 823.8,894.0C835.0,887.0 851.9,876.5 857.5,873.0" fill="none" stroke="#000" stroke-width="9" stroke-linecap="round" stroke-linejoin="round"/>
<path d="M790,915L809,903" fill="none" stroke="#000" stroke-width="17.099999999999998" stroke-linecap="round"/>
<path d="M460.3,915.0C452.3,908.4 428.2,888.5 412.1,875.3C396.0,862.1 371.9,842.2 363.9,835.6" fill="none" stroke="#000" stroke-width="9" stroke-linecap="round" stroke-linejoin="round"/>
<path d="M460,915L434,893" fill="none" stroke="#000" stroke-width="17.099999999999998" stroke-linecap="round"/>
<path d="M331.0,1055.0C328.8,1045.6 322.5,1017.5 318.2,998.7C314.0,980.0 307.7,951.8 305.5,942.4" fill="none" stroke="#000" stroke-width="9" stroke-linecap="round" stroke-linejoin="round"/>
<path d="M331,1055L324,1024" fill="none" stroke="#000" stroke-width="17.099999999999998" stroke-linecap="round"/>
<path d="M222.3,1042.0C223.3,1029.1 226.3,990.5 228.3,964.8C230.3,939.0 233.2,900.4 234.2,887.5" fill="none" stroke="#000" stroke-width="9" stroke-linecap="round" stroke-linejoin="round"/>
<path d="M222,1042L226,1000" fill="none" stroke="#000" stroke-width="17.099999999999998" stroke-linecap="round"/>
<path d="M175.7,1012.0C181.4,1001.8 198.3,971.4 209.7,951.0C221.0,930.7 238.0,900.3 243.6,890.1" fill="none" stroke="#000" stroke-width="9" stroke-linecap="round" stroke-linejoin="round"/>
<path d="M176,1012L194,978" fill="none" stroke="#000" stroke-width="17.099999999999998" stroke-linecap="round"/>
<path d="M134.3,975.0C138.5,969.6 151.2,953.3 159.7,942.5C168.2,931.6 180.9,915.3 185.1,909.9" fill="none" stroke="#000" stroke-width="9" stroke-linecap="round" stroke-linejoin="round"/>
<path d="M134,975L148,957" fill="none" stroke="#000" stroke-width="17.099999999999998" stroke-linecap="round"/>
<path d="M71.2,880.0C79.1,880.7 102.9,882.8 118.7,884.2C134.5,885.6 158.3,887.6 166.2,888.3" fill="none" stroke="#000" stroke-width="9" stroke-linecap="round" stroke-linejoin="round"/>
<path d="M71,880L97,882" fill="none" stroke="#000" stroke-width="17.099999999999998" stroke-linecap="round"/>
<path d="M65.0,435.0C69.0,435.4 81.1,436.7 89.2,437.5C97.3,438.4 109.4,439.7 113.4,440.1" fill="none" stroke="#000" stroke-width="9" stroke-linecap="round" stroke-linejoin="round"/>
<path d="M65,435L78,436" fill="none" stroke="#000" stroke-width="17.099999999999998" stroke-linecap="round"/>
<path d="M450.0,60.0C449.5,65.9 447.9,83.6 446.8,95.3C445.8,107.1 444.2,124.8 443.7,130.7" fill="none" stroke="#000" stroke-width="9" stroke-linecap="round" stroke-linejoin="round"/>
<path d="M450,60L448,79" fill="none" stroke="#000" stroke-width="17.099999999999998" stroke-linecap="round"/>
<path d="M512.1,50.0C512.0,55.8 511.6,73.1 511.3,84.7C511.1,96.2 510.7,113.5 510.6,119.3" fill="none" stroke="#000" stroke-width="9" stroke-linecap="round" stroke-linejoin="round"/>
<path d="M512,50L512,69" fill="none" stroke="#000" stroke-width="17.099999999999998" stroke-linecap="round"/>
<path d="M574.2,55.0C573.3,58.5 570.5,69.1 568.7,76.2C566.9,83.2 564.1,93.8 563.2,97.4" fill="none" stroke="#000" stroke-width="9" stroke-linecap="round" stroke-linejoin="round"/>
<path d="M574,55L571,67" fill="none" stroke="#000" stroke-width="17.099999999999998" stroke-linecap="round"/>
</g></mask>
<g filter="url(#mri)"><rect x="665.0" y="675.0" width="240" height="250" fill="#fff" mask="url(#mk4)"/></g>
<g filter="url(#bl1)"><g transform="translate(670.00,680.00) scale(0.17188)">
<ellipse cx="478" cy="640" rx="125" ry="112" transform="rotate(-25 478 640)" fill="#cdcdcd"/>
<ellipse cx="776" cy="640" rx="125" ry="112" transform="rotate(25 776 640)" fill="#cdcdcd"/>
<ellipse cx="440" cy="835" rx="85" ry="52" transform="rotate(-20 440 835)" fill="#a6a6a6"/>
<ellipse cx="818" cy="835" rx="85" ry="52" transform="rotate(20 818 835)" fill="#a6a6a6"/>
<ellipse cx="628" cy="620" rx="22" ry="30" transform="rotate(0 628 620)" fill="#d8d8d8"/>
<ellipse cx="628" cy="360" rx="52" ry="60" transform="rotate(0 628 360)" fill="#aaaaaa"/>
<path d="M485.0,455.0C490.0,452.5 520.8,459.2 540.0,465.0C559.2,470.8 587.0,483.3 600.0,490.0C613.0,496.7 616.0,493.3 618.0,505.0C620.0,516.7 615.0,542.5 612.0,560.0C609.0,577.5 604.5,608.3 600.0,610.0C595.5,611.7 593.3,585.0 585.0,570.0C576.7,555.0 562.5,535.0 550.0,520.0C537.5,505.0 520.8,490.8 510.0,480.0C499.2,469.2 480.0,457.5 485.0,455.0Z" fill="#000"/>
<path d="M770.0,450.0C765.0,447.5 734.2,458.0 715.0,465.0C695.8,472.0 667.5,485.3 655.0,492.0C642.5,498.7 641.7,493.7 640.0,505.0C638.3,516.3 641.7,542.5 645.0,560.0C648.3,577.5 655.0,608.3 660.0,610.0C665.0,611.7 667.5,584.2 675.0,570.0C682.5,555.8 693.3,540.0 705.0,525.0C716.7,510.0 734.2,492.5 745.0,480.0C755.8,467.5 775.0,452.5 770.0,450.0Z" fill="#000"/>
<path d="M619.0,650.0C621.8,626.7 631.0,626.7 634.0,650.0C637.0,673.3 639.8,766.7 637.0,790.0C634.2,813.3 620.0,813.3 617.0,790.0C614.0,766.7 616.2,673.3 619.0,650.0Z" fill="#000"/>
<path d="M310.0,870.0C316.7,865.0 340.0,861.7 350.0,865.0C360.0,868.3 371.7,883.3 370.0,890.0C368.3,896.7 350.0,904.2 340.0,905.0C330.0,905.8 315.0,900.8 310.0,895.0C305.0,889.2 303.3,875.0 310.0,870.0Z" fill="#000"/>
<path d="M1000.0,650.0C1004.2,645.0 1024.2,650.0 1030.0,655.0C1035.8,660.0 1039.2,675.0 1035.0,680.0C1030.8,685.0 1010.8,690.0 1005.0,685.0C999.2,680.0 995.8,655.0 1000.0,650.0Z" fill="#000"/>
<path d="M185.0,665.0C189.2,660.0 209.2,664.2 215.0,670.0C220.8,675.8 224.2,695.0 220.0,700.0C215.8,705.0 195.8,705.8 190.0,700.0C184.2,694.2 180.8,670.0 185.0,665.0Z" fill="#000"/>
<path d="M628.0,300.0L628.0,430.0" fill="none" stroke="#505050" stroke-width="6" stroke-linecap="round"/>
</g></g>
<defs><filter id="act5" x="-30%" y="-30%" width="160%" height="160%" color-interpolation-filters="sRGB"><feGaussianBlur in="SourceAlpha" stdDeviation="3.3"/><feColorMatrix type="matrix" values="0 0 0 1 0  0 0 0 1 0  0 0 0 1 0  0 0 0 1 0"/><feComponentTransfer><feFuncR type="table" tableValues="0.68 0.68 0.68 0.68 0.68 0.68 0.68 0.68 0.68 0.68 0.68 0.68 0.68 0.75 0.81 0.88 0.95 1.00 1.00 1.00 1.00 1.00 1.00 1.00 1.00 1.00 1.00 1.00 1.00 1.00 1.00 1.00 1.00 1.00 1.00 1.00 1.00 1.00 1.00 1.00 1.00"/><feFuncG type="table" tableValues="1.00 1.00 1.00 1.00 1.00 1.00 1.00 1.00 1.00 1.00 1.00 1.00 1.00 1.00 1.00 1.00 1.00 0.99 0.95 0.91 0.86 0.82 0.78 0.73 0.69 0.65 0.60 0.56 0.52 0.47 0.43 0.39 0.34 0.30 0.26 0.22 0.17 0.13 0.09 0.04 -0.00"/><feFuncB type="table" tableValues="0.00 0.00 0.00 0.00 0.00 0.00 0.00 0.00 0.00 0.00 0.00 0.00 0.00 0.00 0.00 0.00 0.00 0.00 0.00 0.00 0.00 0.00 0.00 0.00 0.00 0.00 0.00 0.00 0.00 0.00 0.00 0.00 0.00 0.00 0.00 0.00 0.01 0.04 0.06 0.08 0.10"/><feFuncA type="table" tableValues="0.00 0.00 0.00 0.00 0.00 0.00 0.00 0.00 0.00 0.00 0.00 0.00 0.00 0.40 0.90 1.00 1.00 1.00 1.00 1.00 1.00 1.00 1.00 1.00 1.00 1.00 1.00 1.00 1.00 1.00 1.00 1.00 1.00 1.00 1.00 1.00 1.00 1.00 1.00 1.00 1.00"/></feComponentTransfer><feGaussianBlur stdDeviation="0.45"/></filter></defs>
<g filter="url(#act5)"><g transform="translate(670.00,680.00) scale(0.17188)" fill="#f00">
<circle cx="425" cy="100" r="46"/>
<circle cx="372" cy="168" r="36"/>
<circle cx="472" cy="92" r="30"/>
<circle cx="330" cy="200" r="24"/>
<circle cx="450" cy="150" r="30"/>
<circle cx="410" cy="55" r="16"/>
</g></g>
<defs><filter id="act6" x="-30%" y="-30%" width="160%" height="160%" color-interpolation-filters="sRGB"><feGaussianBlur in="SourceAlpha" stdDeviation="4.0"/><feColorMatrix type="matrix" values="0 0 0 1 0  0 0 0 1 0  0 0 0 1 0  0 0 0 1 0"/><feComponentTransfer><feFuncR type="table" tableValues="0.68 0.68 0.68 0.68 0.68 0.68 0.68 0.68 0.68 0.68 0.68 0.68 0.71 0.78 0.85 0.92 0.99 1.00 1.00 1.00 1.00 1.00 1.00 1.00 1.00 1.00 1.00 1.00 1.00 1.00 1.00 1.00 1.00 1.00 1.00 1.00 1.00 1.00 1.00 1.00 1.00"/><feFuncG type="table" tableValues="1.00 1.00 1.00 1.00 1.00 1.00 1.00 1.00 1.00 1.00 1.00 1.00 1.00 1.00 1.00 1.00 1.00 0.96 0.92 0.87 0.83 0.78 0.74 0.69 0.65 0.60 0.56 0.51 0.47 0.42 0.38 0.33 0.29 0.24 0.20 0.16 0.11 0.07 0.02 -0.00 -0.00"/><feFuncB type="table" tableValues="0.00 0.00 0.00 0.00 0.00 0.00 0.00 0.00 0.00 0.00 0.00 0.00 0.00 0.00 0.00 0.00 0.00 0.00 0.00 0.00 0.00 0.00 0.00 0.00 0.00 0.00 0.00 0.00 0.00 0.00 0.00 0.00 0.00 0.00 0.00 0.02 0.04 0.07 0.09 0.10 0.10"/><feFuncA type="table" tableValues="0.00 0.00 0.00 0.00 0.00 0.00 0.00 0.00 0.00 0.20 0.70 1.00 1.00 1.00 1.00 1.00 1.00 1.00 1.00 1.00 1.00 1.00 1.00 1.00 1.00 1.00 1.00 1.00 1.00 1.00 1.00 1.00 1.00 1.00 1.00 1.00 1.00 1.00 1.00 1.00 1.00"/></feComponentTransfer><feGaussianBlur stdDeviation="0.45"/></filter></defs>
<g filter="url(#act6)"><g transform="translate(670.00,680.00) scale(0.17188)" fill="#f00">
<circle cx="840" cy="103" r="54"/>
<circle cx="876" cy="152" r="22"/>
<circle cx="915" cy="188" r="22"/>
<circle cx="952" cy="214" r="21"/>
<circle cx="888" cy="216" r="20"/>
<circle cx="852" cy="192" r="16"/>
<circle cx="808" cy="78" r="18"/>
<circle cx="932" cy="158" r="18"/>
<circle cx="976" cy="198" r="16"/>
</g></g>
<mask id="mk5" maskUnits="userSpaceOnUse" x="395.0" y="895.0" width="240" height="250">
<g transform="translate(400.00,900.00) scale(0.17188)">
<path d="M655.0,168.0C660.3,168.0 664.5,137.2 672.0,125.0C679.5,112.8 688.7,102.5 700.0,95.0C711.3,87.5 725.0,82.2 740.0,80.0C755.0,77.8 773.3,79.5 790.0,82.0C806.7,84.5 825.0,88.7 840.0,95.0C855.0,101.3 867.5,110.0 880.0,120.0C892.5,130.0 905.0,142.5 915.0,155.0C925.0,167.5 928.3,189.5 940.0,195.0C951.7,200.5 969.2,187.2 985.0,188.0C1000.8,188.8 1019.2,193.0 1035.0,200.0C1050.8,207.0 1065.8,219.7 1080.0,230.0C1094.2,240.3 1109.2,250.3 1120.0,262.0C1130.8,273.7 1137.5,285.3 1145.0,300.0C1152.5,314.7 1158.3,331.7 1165.0,350.0C1171.7,368.3 1178.3,390.0 1185.0,410.0C1191.7,430.0 1198.8,449.2 1205.0,470.0C1211.2,490.8 1217.0,513.3 1222.0,535.0C1227.0,556.7 1231.5,578.3 1235.0,600.0C1238.5,621.7 1240.8,643.3 1243.0,665.0C1245.2,686.7 1247.7,708.3 1248.0,730.0C1248.3,751.7 1247.7,774.2 1245.0,795.0C1242.3,815.8 1237.8,836.7 1232.0,855.0C1226.2,873.3 1219.0,890.0 1210.0,905.0C1201.0,920.0 1189.7,933.8 1178.0,945.0C1166.3,956.2 1145.0,961.2 1140.0,972.0C1135.0,982.8 1147.7,994.5 1148.0,1010.0C1148.3,1025.5 1146.7,1046.7 1142.0,1065.0C1137.3,1083.3 1129.5,1103.3 1120.0,1120.0C1110.5,1136.7 1098.3,1151.7 1085.0,1165.0C1071.7,1178.3 1056.7,1190.0 1040.0,1200.0C1023.3,1210.0 1005.0,1218.3 985.0,1225.0C965.0,1231.7 942.5,1237.0 920.0,1240.0C897.5,1243.0 871.7,1243.8 850.0,1243.0C828.3,1242.2 809.2,1239.7 790.0,1235.0C770.8,1230.3 750.8,1223.3 735.0,1215.0C719.2,1206.7 706.2,1195.8 695.0,1185.0C683.8,1174.2 674.7,1162.2 668.0,1150.0C661.3,1137.8 659.3,1112.0 655.0,1112.0C650.7,1112.0 648.7,1137.3 642.0,1150.0C635.3,1162.7 626.2,1177.2 615.0,1188.0C603.8,1198.8 590.8,1206.7 575.0,1215.0C559.2,1223.3 540.0,1232.5 520.0,1238.0C500.0,1243.5 476.7,1247.2 455.0,1248.0C433.3,1248.8 410.8,1246.3 390.0,1243.0C369.2,1239.7 349.2,1235.2 330.0,1228.0C310.8,1220.8 291.3,1210.5 275.0,1200.0C258.7,1189.5 244.5,1178.3 232.0,1165.0C219.5,1151.7 208.7,1136.7 200.0,1120.0C191.3,1103.3 184.7,1083.3 180.0,1065.0C175.3,1046.7 172.7,1025.5 172.0,1010.0C171.3,994.5 181.3,982.8 176.0,972.0C170.7,961.2 151.0,956.2 140.0,945.0C129.0,933.8 118.3,920.0 110.0,905.0C101.7,890.0 95.3,873.3 90.0,855.0C84.7,836.7 81.0,815.8 78.0,795.0C75.0,774.2 73.0,751.7 72.0,730.0C71.0,708.3 71.0,686.7 72.0,665.0C73.0,643.3 75.3,621.7 78.0,600.0C80.7,578.3 84.0,556.7 88.0,535.0C92.0,513.3 96.3,490.8 102.0,470.0C107.7,449.2 114.0,429.2 122.0,410.0C130.0,390.8 139.5,372.5 150.0,355.0C160.5,337.5 173.0,320.0 185.0,305.0C197.0,290.0 212.0,277.8 222.0,265.0C232.0,252.2 233.7,237.5 245.0,228.0C256.3,218.5 275.0,215.2 290.0,208.0C305.0,200.8 322.5,194.7 335.0,185.0C347.5,175.3 352.5,158.8 365.0,150.0C377.5,141.2 395.8,135.7 410.0,132.0C424.2,128.3 436.7,130.0 450.0,128.0C463.3,126.0 480.8,127.2 490.0,120.0C499.2,112.8 496.7,94.2 505.0,85.0C513.3,75.8 527.5,68.2 540.0,65.0C552.5,61.8 567.5,62.7 580.0,66.0C592.5,69.3 605.0,75.2 615.0,85.0C625.0,94.8 633.3,111.2 640.0,125.0C646.7,138.8 649.7,168.0 655.0,168.0Z" fill="#fff"/>
<path d="M655.0,150.0C655.0,183.3 655.0,284.2 655.0,350.0C655.0,415.8 655.0,512.5 655.0,545.0" fill="none" stroke="#000" stroke-width="10" stroke-linecap="round" stroke-linejoin="round"/>
<path d="M655,150L655,260" fill="none" stroke="#000" stroke-width="19.0" stroke-linecap="round"/>
<path d="M655.0,1000.0L655.0,1112.0" fill="none" stroke="#000" stroke-width="8" stroke-linecap="round" stroke-linejoin="round"/>
<path d="M942.0,193.0C935.3,200.8 915.3,222.2 902.0,240.0C888.7,257.8 868.7,290.0 862.0,300.0" fill="none" stroke="#000" stroke-width="10" stroke-linecap="round" stroke-linejoin="round"/>
<path d="M942,193L920,219" fill="none" stroke="#000" stroke-width="19.0" stroke-linecap="round"/>
<path d="M802.0,88.0C800.3,101.7 797.0,143.0 792.0,170.0C787.0,197.0 775.3,236.7 772.0,250.0" fill="none" stroke="#000" stroke-width="10" stroke-linecap="round" stroke-linejoin="round"/>
<path d="M802,88L796,133" fill="none" stroke="#000" stroke-width="19.0" stroke-linecap="round"/>
<path d="M1167.0,348.0C1156.2,356.7 1119.5,384.7 1102.0,400.0C1084.5,415.3 1068.7,433.3 1062.0,440.0" fill="none" stroke="#000" stroke-width="10" stroke-linecap="round" stroke-linejoin="round"/>
<path d="M1167,348L1131,377" fill="none" stroke="#000" stroke-width="19.0" stroke-linecap="round"/>
<path d="M1224.0,533.0C1212.0,534.2 1174.0,542.2 1152.0,540.0C1130.0,537.8 1102.0,523.3 1092.0,520.0" fill="none" stroke="#000" stroke-width="10" stroke-linecap="round" stroke-linejoin="round"/>
<path d="M1224,533L1184,537" fill="none" stroke="#000" stroke-width="19.0" stroke-linecap="round"/>
<path d="M1245.0,665.0C1232.8,664.2 1194.2,664.2 1172.0,660.0C1149.8,655.8 1130.3,641.7 1112.0,640.0C1093.7,638.3 1070.3,648.3 1062.0,650.0" fill="none" stroke="#000" stroke-width="10" stroke-linecap="round" stroke-linejoin="round"/>
<path d="M1245,665L1205,662" fill="none" stroke="#000" stroke-width="19.0" stroke-linecap="round"/>
<path d="M1247.0,795.0C1234.5,790.8 1194.5,775.8 1172.0,770.0C1149.5,764.2 1122.0,761.7 1112.0,760.0" fill="none" stroke="#000" stroke-width="10" stroke-linecap="round" stroke-linejoin="round"/>
<path d="M1247,795L1206,781" fill="none" stroke="#000" stroke-width="19.0" stroke-linecap="round"/>
<path d="M1180.0,943.0C1170.3,934.2 1140.0,905.5 1122.0,890.0C1104.0,874.5 1092.0,860.0 1072.0,850.0C1052.0,840.0 1013.7,833.3 1002.0,830.0" fill="none" stroke="#000" stroke-width="9" stroke-linecap="round" stroke-linejoin="round"/>
<path d="M1180,943L1148,914" fill="none" stroke="#000" stroke-width="17.099999999999998" stroke-linecap="round"/>
<path d="M668.0,185.0C676.7,188.3 703.8,195.8 720.0,205.0C736.2,214.2 757.5,234.2 765.0,240.0" fill="none" stroke="#000" stroke-width="8" stroke-linecap="round" stroke-linejoin="round"/>
<path d="M672.0,262.0C679.2,260.8 702.0,254.0 715.0,255.0C728.0,256.0 744.2,265.8 750.0,268.0" fill="none" stroke="#000" stroke-width="7" stroke-linecap="round" stroke-linejoin="round"/>
<path d="M668.0,318.0C677.5,320.0 706.3,329.3 725.0,330.0C743.7,330.7 770.8,323.3 780.0,322.0" fill="none" stroke="#000" stroke-width="8" stroke-linecap="round" stroke-linejoin="round"/>
<path d="M675.0,385.0C681.2,382.8 700.3,372.2 712.0,372.0C723.7,371.8 739.5,382.0 745.0,384.0" fill="none" stroke="#000" stroke-width="7" stroke-linecap="round" stroke-linejoin="round"/>
<path d="M668.0,432.0C677.0,435.0 702.5,447.3 722.0,450.0C741.5,452.7 774.5,448.3 785.0,448.0" fill="none" stroke="#000" stroke-width="8" stroke-linecap="round" stroke-linejoin="round"/>
<path d="M672.0,498.0C678.7,497.0 696.5,489.2 712.0,492.0C727.5,494.8 756.2,511.2 765.0,515.0" fill="none" stroke="#000" stroke-width="7" stroke-linecap="round" stroke-linejoin="round"/>
<path d="M692.0,562.0C700.3,566.3 726.0,582.3 742.0,588.0C758.0,593.7 780.3,594.7 788.0,596.0" fill="none" stroke="#000" stroke-width="8" stroke-linecap="round" stroke-linejoin="round"/>
<path d="M722.0,642.0C729.7,648.7 755.3,666.0 768.0,682.0C780.7,698.0 793.0,728.7 798.0,738.0" fill="none" stroke="#000" stroke-width="8" stroke-linecap="round" stroke-linejoin="round"/>
<path d="M820.0,780.0C830.0,783.3 861.7,798.3 880.0,800.0C898.3,801.7 921.7,791.7 930.0,790.0" fill="none" stroke="#000" stroke-width="9" stroke-linecap="round" stroke-linejoin="round"/>
<path d="M820,780L853,791" fill="none" stroke="#000" stroke-width="17.099999999999998" stroke-linecap="round"/>
<path d="M790.0,700.0L840.0,730.0" fill="none" stroke="#000" stroke-width="8" stroke-linecap="round" stroke-linejoin="round"/>
<path d="M1142.0,972.0C1120.0,966.7 1052.0,953.7 1010.0,940.0C968.0,926.3 926.7,908.3 890.0,890.0C853.3,871.7 817.2,853.7 790.0,830.0C762.8,806.3 737.5,761.7 727.0,748.0" fill="none" stroke="#000" stroke-width="8" stroke-linecap="round" stroke-linejoin="round"/>
<path d="M365.0,150.0C370.8,161.7 387.5,196.7 400.0,220.0C412.5,243.3 433.3,278.3 440.0,290.0" fill="none" stroke="#000" stroke-width="10" stroke-linecap="round" stroke-linejoin="round"/>
<path d="M365,150L384,188" fill="none" stroke="#000" stroke-width="19.0" stroke-linecap="round"/>
<path d="M500.0,110.0C500.8,121.7 500.8,156.7 505.0,180.0C509.2,203.3 521.7,238.3 525.0,250.0" fill="none" stroke="#000" stroke-width="10" stroke-linecap="round" stroke-linejoin="round"/>
<path d="M500,110L503,148" fill="none" stroke="#000" stroke-width="19.0" stroke-linecap="round"/>
<path d="M143.0,348.0C153.8,356.7 190.5,384.7 208.0,400.0C225.5,415.3 241.3,433.3 248.0,440.0" fill="none" stroke="#000" stroke-width="10" stroke-linecap="round" stroke-linejoin="round"/>
<path d="M143,348L179,377" fill="none" stroke="#000" stroke-width="19.0" stroke-linecap="round"/>
<path d="M86.0,533.0C98.0,534.2 136.0,542.2 158.0,540.0C180.0,537.8 208.0,523.3 218.0,520.0" fill="none" stroke="#000" stroke-width="10" stroke-linecap="round" stroke-linejoin="round"/>
<path d="M86,533L126,537" fill="none" stroke="#000" stroke-width="19.0" stroke-linecap="round"/>
<path d="M65.0,665.0C77.2,664.2 115.8,664.2 138.0,660.0C160.2,655.8 179.7,641.7 198.0,640.0C216.3,638.3 239.7,648.3 248.0,650.0" fill="none" stroke="#000" stroke-width="10" stroke-linecap="round" stroke-linejoin="round"/>
<path d="M65,665L105,662" fill="none" stroke="#000" stroke-width="19.0" stroke-linecap="round"/>
<path d="M63.0,795.0C75.5,790.8 115.5,775.8 138.0,770.0C160.5,764.2 188.0,761.7 198.0,760.0" fill="none" stroke="#000" stroke-width="10" stroke-linecap="round" stroke-linejoin="round"/>
<path d="M63,795L104,781" fill="none" stroke="#000" stroke-width="19.0" stroke-linecap="round"/>
<path d="M130.0,943.0C139.7,934.2 170.0,905.5 188.0,890.0C206.0,874.5 218.0,860.0 238.0,850.0C258.0,840.0 296.3,833.3 308.0,830.0" fill="none" stroke="#000" stroke-width="9" stroke-linecap="round" stroke-linejoin="round"/>
<path d="M130,943L162,914" fill="none" stroke="#000" stroke-width="17.099999999999998" stroke-linecap="round"/>
<path d="M642.0,185.0C633.3,188.3 606.2,195.8 590.0,205.0C573.8,214.2 552.5,234.2 545.0,240.0" fill="none" stroke="#000" stroke-width="8" stroke-linecap="round" stroke-linejoin="round"/>
<path d="M638.0,262.0C630.8,260.8 608.0,254.0 595.0,255.0C582.0,256.0 565.8,265.8 560.0,268.0" fill="none" stroke="#000" stroke-width="7" stroke-linecap="round" stroke-linejoin="round"/>
<path d="M642.0,318.0C632.5,320.0 603.7,329.3 585.0,330.0C566.3,330.7 539.2,323.3 530.0,322.0" fill="none" stroke="#000" stroke-width="8" stroke-linecap="round" stroke-linejoin="round"/>
<path d="M635.0,385.0C628.8,382.8 609.7,372.2 598.0,372.0C586.3,371.8 570.5,382.0 565.0,384.0" fill="none" stroke="#000" stroke-width="7" stroke-linecap="round" stroke-linejoin="round"/>
<path d="M642.0,432.0C633.0,435.0 607.5,447.3 588.0,450.0C568.5,452.7 535.5,448.3 525.0,448.0" fill="none" stroke="#000" stroke-width="8" stroke-linecap="round" stroke-linejoin="round"/>
<path d="M638.0,498.0C631.3,497.0 613.5,489.2 598.0,492.0C582.5,494.8 553.8,511.2 545.0,515.0" fill="none" stroke="#000" stroke-width="7" stroke-linecap="round" stroke-linejoin="round"/>
<path d="M618.0,562.0C609.7,566.3 584.0,582.3 568.0,588.0C552.0,593.7 529.7,594.7 522.0,596.0" fill="none" stroke="#000" stroke-width="8" stroke-linecap="round" stroke-linejoin="round"/>
<path d="M588.0,642.0C580.3,648.7 554.7,666.0 542.0,682.0C529.3,698.0 517.0,728.7 512.0,738.0" fill="none" stroke="#000" stroke-width="8" stroke-linecap="round" stroke-linejoin="round"/>
<path d="M490.0,780.0C480.0,783.3 448.3,798.3 430.0,800.0C411.7,801.7 388.3,791.7 380.0,790.0" fill="none" stroke="#000" stroke-width="9" stroke-linecap="round" stroke-linejoin="round"/>
<path d="M490,780L457,791" fill="none" stroke="#000" stroke-width="17.099999999999998" stroke-linecap="round"/>
<path d="M520.0,700.0L470.0,730.0" fill="none" stroke="#000" stroke-width="8" stroke-linecap="round" stroke-linejoin="round"/>
<path d="M168.0,972.0C190.0,966.7 258.0,953.7 300.0,940.0C342.0,926.3 383.3,908.3 420.0,890.0C456.7,871.7 492.8,853.7 520.0,830.0C547.2,806.3 572.5,761.7 583.0,748.0" fill="none" stroke="#000" stroke-width="8" stroke-linecap="round" stroke-linejoin="round"/>
<path d="M1146.0,1030.0C1125.0,1030.7 1062.1,1032.9 1020.2,1034.4C978.2,1035.9 915.3,1038.1 894.3,1038.8" fill="none" stroke="#000" stroke-width="6" stroke-linecap="round" stroke-linejoin="round"/>
<path d="M1135.0,1085.0C1114.8,1081.7 1054.3,1071.8 1014.0,1065.2C973.7,1058.6 913.2,1048.7 893.0,1045.4" fill="none" stroke="#000" stroke-width="6" stroke-linecap="round" stroke-linejoin="round"/>
<path d="M1105.0,1140.0C1087.0,1132.7 1033.1,1110.7 997.2,1096.0C961.3,1081.3 907.4,1059.3 889.4,1052.0" fill="none" stroke="#000" stroke-width="6" stroke-linecap="round" stroke-linejoin="round"/>
<path d="M1065.0,1182.0C1050.0,1171.6 1004.9,1140.3 974.8,1119.5C944.7,1098.7 899.6,1067.5 884.6,1057.0" fill="none" stroke="#000" stroke-width="6" stroke-linecap="round" stroke-linejoin="round"/>
<path d="M1015.0,1212.0C1003.6,1199.4 969.5,1161.5 946.8,1136.3C924.1,1111.1 890.0,1073.3 878.6,1060.6" fill="none" stroke="#000" stroke-width="6" stroke-linecap="round" stroke-linejoin="round"/>
<path d="M955.0,1232.0C948.0,1217.9 927.1,1175.7 913.2,1147.5C899.3,1119.4 878.4,1077.1 871.4,1063.0" fill="none" stroke="#000" stroke-width="6" stroke-linecap="round" stroke-linejoin="round"/>
<path d="M890.0,1242.0C887.8,1227.2 881.2,1182.7 876.8,1153.1C872.4,1123.5 865.8,1079.1 863.6,1064.2" fill="none" stroke="#000" stroke-width="6" stroke-linecap="round" stroke-linejoin="round"/>
<path d="M825.0,1240.0C827.6,1225.3 835.3,1181.3 840.4,1152.0C845.5,1122.7 853.2,1078.7 855.8,1064.0" fill="none" stroke="#000" stroke-width="6" stroke-linecap="round" stroke-linejoin="round"/>
<path d="M765.0,1226.0C772.0,1212.4 792.9,1171.4 806.8,1144.2C820.7,1116.9 841.6,1076.0 848.6,1062.3" fill="none" stroke="#000" stroke-width="6" stroke-linecap="round" stroke-linejoin="round"/>
<path d="M715.0,1200.0C725.6,1188.3 757.5,1153.1 778.8,1129.6C800.1,1106.1 832.0,1070.9 842.6,1059.2" fill="none" stroke="#000" stroke-width="6" stroke-linecap="round" stroke-linejoin="round"/>
<path d="M680.0,1165.0C693.2,1155.8 732.8,1128.3 759.2,1110.0C785.6,1091.7 825.2,1064.2 838.4,1055.0" fill="none" stroke="#000" stroke-width="6" stroke-linecap="round" stroke-linejoin="round"/>
<path d="M1100.0,985.0C1089.0,989.8 1056.0,1004.0 1034.0,1013.5C1012.0,1023.0 979.0,1037.2 968.0,1042.0" fill="none" stroke="#000" stroke-width="5" stroke-linecap="round" stroke-linejoin="round"/>
<path d="M1040.0,965.0C1032.0,970.8 1008.0,988.0 992.0,999.5C976.0,1011.0 952.0,1028.2 944.0,1034.0" fill="none" stroke="#000" stroke-width="5" stroke-linecap="round" stroke-linejoin="round"/>
<path d="M970.0,940.0C965.5,947.0 952.0,968.0 943.0,982.0C934.0,996.0 920.5,1017.0 916.0,1024.0" fill="none" stroke="#000" stroke-width="5" stroke-linecap="round" stroke-linejoin="round"/>
<path d="M900.0,915.0C899.0,923.2 896.0,948.0 894.0,964.5C892.0,981.0 889.0,1005.8 888.0,1014.0" fill="none" stroke="#000" stroke-width="5" stroke-linecap="round" stroke-linejoin="round"/>
<path d="M830.0,880.0C832.5,890.0 840.0,920.0 845.0,940.0C850.0,960.0 857.5,990.0 860.0,1000.0" fill="none" stroke="#000" stroke-width="5" stroke-linecap="round" stroke-linejoin="round"/>
<path d="M770.0,840.0C775.5,852.0 792.0,888.0 803.0,912.0C814.0,936.0 830.5,972.0 836.0,984.0" fill="none" stroke="#000" stroke-width="5" stroke-linecap="round" stroke-linejoin="round"/>
<path d="M164.0,1030.0C185.0,1030.7 247.9,1032.9 289.8,1034.4C331.8,1035.9 394.7,1038.1 415.7,1038.8" fill="none" stroke="#000" stroke-width="6" stroke-linecap="round" stroke-linejoin="round"/>
<path d="M175.0,1085.0C195.2,1081.7 255.7,1071.8 296.0,1065.2C336.3,1058.6 396.8,1048.7 417.0,1045.4" fill="none" stroke="#000" stroke-width="6" stroke-linecap="round" stroke-linejoin="round"/>
<path d="M205.0,1140.0C223.0,1132.7 276.9,1110.7 312.8,1096.0C348.7,1081.3 402.6,1059.3 420.6,1052.0" fill="none" stroke="#000" stroke-width="6" stroke-linecap="round" stroke-linejoin="round"/>
<path d="M245.0,1182.0C260.0,1171.6 305.1,1140.3 335.2,1119.5C365.3,1098.7 410.4,1067.5 425.4,1057.0" fill="none" stroke="#000" stroke-width="6" stroke-linecap="round" stroke-linejoin="round"/>
<path d="M295.0,1212.0C306.4,1199.4 340.5,1161.5 363.2,1136.3C385.9,1111.1 420.0,1073.3 431.4,1060.6" fill="none" stroke="#000" stroke-width="6" stroke-linecap="round" stroke-linejoin="round"/>
<path d="M355.0,1232.0C362.0,1217.9 382.9,1175.7 396.8,1147.5C410.7,1119.4 431.6,1077.1 438.6,1063.0" fill="none" stroke="#000" stroke-width="6" stroke-linecap="round" stroke-linejoin="round"/>
<path d="M420.0,1242.0C422.2,1227.2 428.8,1182.7 433.2,1153.1C437.6,1123.5 444.2,1079.1 446.4,1064.2" fill="none" stroke="#000" stroke-width="6" stroke-linecap="round" stroke-linejoin="round"/>
<path d="M485.0,1240.0C482.4,1225.3 474.7,1181.3 469.6,1152.0C464.5,1122.7 456.8,1078.7 454.2,1064.0" fill="none" stroke="#000" stroke-width="6" stroke-linecap="round" stroke-linejoin="round"/>
<path d="M545.0,1226.0C538.0,1212.4 517.1,1171.4 503.2,1144.2C489.3,1116.9 468.4,1076.0 461.4,1062.3" fill="none" stroke="#000" stroke-width="6" stroke-linecap="round" stroke-linejoin="round"/>
<path d="M595.0,1200.0C584.4,1188.3 552.5,1153.1 531.2,1129.6C509.9,1106.1 478.0,1070.9 467.4,1059.2" fill="none" stroke="#000" stroke-width="6" stroke-linecap="round" stroke-linejoin="round"/>
<path d="M630.0,1165.0C616.8,1155.8 577.2,1128.3 550.8,1110.0C524.4,1091.7 484.8,1064.2 471.6,1055.0" fill="none" stroke="#000" stroke-width="6" stroke-linecap="round" stroke-linejoin="round"/>
<path d="M210.0,985.0C221.0,989.8 254.0,1004.0 276.0,1013.5C298.0,1023.0 331.0,1037.2 342.0,1042.0" fill="none" stroke="#000" stroke-width="5" stroke-linecap="round" stroke-linejoin="round"/>
<path d="M270.0,965.0C278.0,970.8 302.0,988.0 318.0,999.5C334.0,1011.0 358.0,1028.2 366.0,1034.0" fill="none" stroke="#000" stroke-width="5" stroke-linecap="round" stroke-linejoin="round"/>
<path d="M340.0,940.0C344.5,947.0 358.0,968.0 367.0,982.0C376.0,996.0 389.5,1017.0 394.0,1024.0" fill="none" stroke="#000" stroke-width="5" stroke-linecap="round" stroke-linejoin="round"/>
<path d="M410.0,915.0C411.0,923.2 414.0,948.0 416.0,964.5C418.0,981.0 421.0,1005.8 422.0,1014.0" fill="none" stroke="#000" stroke-width="5" stroke-linecap="round" stroke-linejoin="round"/>
<path d="M480.0,880.0C477.5,890.0 470.0,920.0 465.0,940.0C460.0,960.0 452.5,990.0 450.0,1000.0" fill="none" stroke="#000" stroke-width="5" stroke-linecap="round" stroke-linejoin="round"/>
<path d="M540.0,840.0C534.5,852.0 518.0,888.0 507.0,912.0C496.0,936.0 479.5,972.0 474.0,984.0" fill="none" stroke="#000" stroke-width="5" stroke-linecap="round" stroke-linejoin="round"/>
<path d="M700.0,95.0C702.9,99.3 711.5,112.4 717.2,121.0C723.0,129.7 731.6,142.8 734.5,147.1" fill="none" stroke="#000" stroke-width="9" stroke-linecap="round" stroke-linejoin="round"/>
<path d="M700,95L709,109" fill="none" stroke="#000" stroke-width="17.099999999999998" stroke-linecap="round"/>
<path d="M880.0,120.0C879.5,124.0 878.0,135.9 877.0,143.9C875.9,151.8 874.4,163.8 873.9,167.8" fill="none" stroke="#000" stroke-width="9" stroke-linecap="round" stroke-linejoin="round"/>
<path d="M880,120L878,133" fill="none" stroke="#000" stroke-width="17.099999999999998" stroke-linecap="round"/>
<path d="M1035.0,200.0C1033.9,203.2 1030.8,212.8 1028.7,219.1C1026.6,225.5 1023.4,235.1 1022.4,238.3" fill="none" stroke="#000" stroke-width="9" stroke-linecap="round" stroke-linejoin="round"/>
<path d="M1035,200L1032,211" fill="none" stroke="#000" stroke-width="17.099999999999998" stroke-linecap="round"/>
<path d="M1080.0,230.0C1078.6,237.1 1074.5,258.3 1071.7,272.5C1069.0,286.7 1064.9,307.9 1063.5,315.0" fill="none" stroke="#000" stroke-width="9" stroke-linecap="round" stroke-linejoin="round"/>
<path d="M1080,230L1075,253" fill="none" stroke="#000" stroke-width="17.099999999999998" stroke-linecap="round"/>
<path d="M1185.0,410.0C1179.7,411.8 1163.9,417.1 1153.3,420.7C1142.8,424.3 1127.0,429.6 1121.7,431.4" fill="none" stroke="#000" stroke-width="9" stroke-linecap="round" stroke-linejoin="round"/>
<path d="M1185,410L1168,416" fill="none" stroke="#000" stroke-width="17.099999999999998" stroke-linecap="round"/>
<path d="M1205.0,470.0C1201.6,470.9 1191.4,473.7 1184.7,475.5C1177.9,477.3 1167.7,480.1 1164.3,481.0" fill="none" stroke="#000" stroke-width="9" stroke-linecap="round" stroke-linejoin="round"/>
<path d="M1205,470L1194,473" fill="none" stroke="#000" stroke-width="17.099999999999998" stroke-linecap="round"/>
<path d="M1235.0,600.0C1229.0,598.6 1211.0,594.6 1199.0,591.8C1187.0,589.1 1169.0,585.0 1163.0,583.7" fill="none" stroke="#000" stroke-width="9" stroke-linecap="round" stroke-linejoin="round"/>
<path d="M1235,600L1215,596" fill="none" stroke="#000" stroke-width="17.099999999999998" stroke-linecap="round"/>
<path d="M1248.0,730.0C1242.0,727.8 1223.9,721.3 1211.8,716.9C1199.8,712.5 1181.7,705.9 1175.7,703.8" fill="none" stroke="#000" stroke-width="9" stroke-linecap="round" stroke-linejoin="round"/>
<path d="M1248,730L1228,723" fill="none" stroke="#000" stroke-width="17.099999999999998" stroke-linecap="round"/>
<path d="M1232.0,855.0C1228.3,852.6 1217.1,845.4 1209.6,840.6C1202.1,835.8 1190.9,828.6 1187.2,826.2" fill="none" stroke="#000" stroke-width="9" stroke-linecap="round" stroke-linejoin="round"/>
<path d="M1232,855L1220,847" fill="none" stroke="#000" stroke-width="17.099999999999998" stroke-linecap="round"/>
<path d="M90.0,855.0C94.7,852.0 108.8,843.0 118.3,836.9C127.7,830.9 141.8,821.9 146.5,818.9" fill="none" stroke="#000" stroke-width="9" stroke-linecap="round" stroke-linejoin="round"/>
<path d="M90,855L106,845" fill="none" stroke="#000" stroke-width="17.099999999999998" stroke-linecap="round"/>
<path d="M72.0,730.0C77.3,727.7 93.3,720.8 103.9,716.2C114.6,711.6 130.5,704.6 135.9,702.3" fill="none" stroke="#000" stroke-width="9" stroke-linecap="round" stroke-linejoin="round"/>
<path d="M72,730L90,722" fill="none" stroke="#000" stroke-width="17.099999999999998" stroke-linecap="round"/>
<path d="M78.0,600.0C82.9,599.6 97.7,598.3 107.5,597.4C117.4,596.5 132.1,595.2 137.0,594.8" fill="none" stroke="#000" stroke-width="9" stroke-linecap="round" stroke-linejoin="round"/>
<path d="M78,600L94,599" fill="none" stroke="#000" stroke-width="17.099999999999998" stroke-linecap="round"/>
<path d="M102.0,470.0C105.8,470.1 117.1,470.5 124.7,470.7C132.2,471.0 143.6,471.4 147.3,471.5" fill="none" stroke="#000" stroke-width="9" stroke-linecap="round" stroke-linejoin="round"/>
<path d="M102,470L114,470" fill="none" stroke="#000" stroke-width="17.099999999999998" stroke-linecap="round"/>
<path d="M122.0,410.0C127.2,413.2 142.7,423.0 153.0,429.4C163.4,435.9 178.9,445.7 184.1,448.9" fill="none" stroke="#000" stroke-width="9" stroke-linecap="round" stroke-linejoin="round"/>
<path d="M122,410L139,421" fill="none" stroke="#000" stroke-width="17.099999999999998" stroke-linecap="round"/>
<path d="M185.0,305.0C189.4,307.7 202.8,316.0 211.7,321.5C220.6,327.0 233.9,335.2 238.4,337.9" fill="none" stroke="#000" stroke-width="9" stroke-linecap="round" stroke-linejoin="round"/>
<path d="M185,305L200,314" fill="none" stroke="#000" stroke-width="17.099999999999998" stroke-linecap="round"/>
<path d="M222.0,265.0C225.1,268.3 234.3,278.1 240.5,284.6C246.6,291.2 255.8,301.0 258.9,304.2" fill="none" stroke="#000" stroke-width="9" stroke-linecap="round" stroke-linejoin="round"/>
<path d="M222,265L232,276" fill="none" stroke="#000" stroke-width="17.099999999999998" stroke-linecap="round"/>
<path d="M290.0,208.0C290.3,212.6 291.2,226.2 291.8,235.3C292.5,244.4 293.4,258.1 293.7,262.6" fill="none" stroke="#000" stroke-width="9" stroke-linecap="round" stroke-linejoin="round"/>
<path d="M290,208L291,223" fill="none" stroke="#000" stroke-width="17.099999999999998" stroke-linecap="round"/>
<path d="M540.0,65.0C537.6,68.5 530.3,79.1 525.5,86.2C520.6,93.2 513.3,103.8 510.9,107.3" fill="none" stroke="#000" stroke-width="9" stroke-linecap="round" stroke-linejoin="round"/>
<path d="M540,65L532,77" fill="none" stroke="#000" stroke-width="17.099999999999998" stroke-linecap="round"/>
<path d="M615.0,85.0C613.6,92.0 609.5,113.2 606.7,127.3C604.0,141.3 599.8,162.5 598.5,169.5" fill="none" stroke="#000" stroke-width="9" stroke-linecap="round" stroke-linejoin="round"/>
<path d="M615,85L610,108" fill="none" stroke="#000" stroke-width="17.099999999999998" stroke-linecap="round"/>
</g></mask>
<g filter="url(#mri)"><rect x="395.0" y="895.0" width="240" height="250" fill="#fff" mask="url(#mk5)"/></g>
<g filter="url(#bl1)"><g transform="translate(400.00,900.00) scale(0.17188)">
<ellipse cx="655" cy="925" rx="120" ry="150" transform="rotate(0 655 925)" fill="#b6b6b6"/>
<ellipse cx="655" cy="880" rx="55" ry="70" transform="rotate(0 655 880)" fill="#b4b4b4"/>
<ellipse cx="565" cy="420" rx="40" ry="65" transform="rotate(10 565 420)" fill="#a8a8a8"/>
<ellipse cx="745" cy="420" rx="40" ry="65" transform="rotate(-10 745 420)" fill="#a8a8a8"/>
<ellipse cx="470" cy="690" rx="55" ry="40" transform="rotate(-30 470 690)" fill="#a8a8a8"/>
<ellipse cx="810" cy="700" rx="55" ry="40" transform="rotate(30 810 700)" fill="#a8a8a8"/>
<ellipse cx="655" cy="1040" rx="70" ry="50" transform="rotate(0 655 1040)" fill="#b0b0b0"/>
<ellipse cx="400" cy="1120" rx="235" ry="115" transform="rotate(-6 400 1120)" fill="rgba(0,0,0,0.13)"/>
<ellipse cx="910" cy="1120" rx="235" ry="115" transform="rotate(6 910 1120)" fill="rgba(0,0,0,0.13)"/>
<path d="M418.0,588.0C423.7,583.0 431.0,589.7 432.0,600.0C433.0,610.3 428.7,633.3 424.0,650.0C419.3,666.7 409.0,684.2 404.0,700.0C399.0,715.8 399.0,737.0 394.0,745.0C389.0,753.0 379.3,751.3 374.0,748.0C368.7,744.7 361.7,736.3 362.0,725.0C362.3,713.7 370.0,695.8 376.0,680.0C382.0,664.2 391.0,645.3 398.0,630.0C405.0,614.7 412.3,593.0 418.0,588.0Z" fill="#000"/>
<path d="M870.0,568.0C877.5,562.2 890.8,570.5 900.0,580.0C909.2,589.5 918.0,608.3 925.0,625.0C932.0,641.7 938.2,661.7 942.0,680.0C945.8,698.3 950.8,724.2 948.0,735.0C945.2,745.8 933.8,747.5 925.0,745.0C916.2,742.5 904.2,732.5 895.0,720.0C885.8,707.5 876.7,687.5 870.0,670.0C863.3,652.5 855.0,632.0 855.0,615.0C855.0,598.0 862.5,573.8 870.0,568.0Z" fill="#000"/>
<path d="M655.0,545.0C660.7,545.0 664.5,577.5 672.0,600.0C679.5,622.5 691.2,655.8 700.0,680.0C708.8,704.2 726.7,734.7 725.0,745.0C723.3,755.3 701.7,743.7 690.0,742.0C678.3,740.3 666.7,735.0 655.0,735.0C643.3,735.0 631.2,740.3 620.0,742.0C608.8,743.7 589.7,755.3 588.0,745.0C586.3,734.7 601.7,704.2 610.0,680.0C618.3,655.8 630.5,622.5 638.0,600.0C645.5,577.5 649.3,545.0 655.0,545.0Z" fill="#000"/>
<path d="M575.0,1008.0C580.8,1003.0 596.7,985.3 610.0,978.0C623.3,970.7 640.0,964.0 655.0,964.0C670.0,964.0 686.7,970.7 700.0,978.0C713.3,985.3 729.2,1003.0 735.0,1008.0" fill="none" stroke="#111" stroke-width="9" stroke-linecap="round"/>
</g></g>
<defs><filter id="act7" x="-30%" y="-30%" width="160%" height="160%" color-interpolation-filters="sRGB"><feGaussianBlur in="SourceAlpha" stdDeviation="3.4"/><feColorMatrix type="matrix" values="0 0 0 1 0  0 0 0 1 0  0 0 0 1 0  0 0 0 1 0"/><feComponentTransfer><feFuncR type="table" tableValues="0.68 0.68 0.68 0.68 0.68 0.68 0.68 0.68 0.68 0.68 0.68 0.68 0.68 0.68 0.68 0.68 0.68 0.68 0.68 0.68 0.68 0.72 0.76 0.80 0.84 0.88 0.92 0.96 1.00 1.00 1.00 1.00 1.00 1.00 1.00 1.00 1.00 1.00 1.00 1.00 1.00"/><feFuncG type="table" tableValues="1.00 1.00 1.00 1.00 1.00 1.00 1.00 1.00 1.00 1.00 1.00 1.00 1.00 1.00 1.00 1.00 1.00 1.00 1.00 1.00 1.00 1.00 1.00 1.00 1.00 1.00 1.00 1.00 1.00 0.97 0.95 0.92 0.90 0.87 0.84 0.82 0.79 0.77 0.74 0.72 0.69"/><feFuncB type="table" tableValues="0.00 0.00 0.00 0.00 0.00 0.00 0.00 0.00 0.00 0.00 0.00 0.00 0.00 0.00 0.00 0.00 0.00 0.00 0.00 0.00 0.00 0.00 0.00 0.00 0.00 0.00 0.00 0.00 0.00 0.00 0.00 0.00 0.00 0.00 0.00 0.00 0.00 0.00 0.00 0.00 0.00"/><feFuncA type="table" tableValues="0.00 0.00 0.00 0.00 0.00 0.00 0.00 0.00 0.00 0.00 0.00 0.00 0.50 1.00 1.00 1.00 1.00 1.00 1.00 1.00 1.00 1.00 1.00 1.00 1.00 1.00 1.00 1.00 1.00 1.00 1.00 1.00 1.00 1.00 1.00 1.00 1.00 1.00 1.00 1.00 1.00"/></feComponentTransfer><feGaussianBlur stdDeviation="0.45"/></filter></defs>
<g filter="url(#act7)"><g transform="translate(400.00,900.00) scale(0.17188)" fill="#f00">
<path d="M255.0,220.0C266.0,207.2 284.8,205.0 300.0,205.0C315.2,205.0 336.0,207.2 346.0,220.0C356.0,232.8 356.0,262.0 360.0,282.0C364.0,302.0 365.7,319.0 370.0,340.0C374.3,361.0 385.7,393.0 386.0,408.0C386.3,423.0 380.3,429.0 372.0,430.0C363.7,431.0 348.3,422.7 336.0,414.0C323.7,405.3 310.7,392.0 298.0,378.0C285.3,364.0 270.7,346.0 260.0,330.0C249.3,314.0 234.8,300.3 234.0,282.0C233.2,263.7 244.0,232.8 255.0,220.0Z"/>
</g></g>
<defs><filter id="act8" x="-30%" y="-30%" width="160%" height="160%" color-interpolation-filters="sRGB"><feGaussianBlur in="SourceAlpha" stdDeviation="5.2"/><feColorMatrix type="matrix" values="0 0 0 1 0  0 0 0 1 0  0 0 0 1 0  0 0 0 1 0"/><feComponentTransfer><feFuncR type="table" tableValues="0.68 0.68 0.68 0.68 0.68 0.68 0.68 0.68 0.68 0.68 0.68 0.68 0.68 0.68 0.68 0.74 0.80 0.85 0.91 0.97 1.00 1.00 1.00 1.00 1.00 1.00 1.00 1.00 1.00 1.00 1.00 1.00 1.00 1.00 1.00 1.00 1.00 1.00 1.00 1.00 1.00"/><feFuncG type="table" tableValues="1.00 1.00 1.00 1.00 1.00 1.00 1.00 1.00 1.00 1.00 1.00 1.00 1.00 1.00 1.00 1.00 1.00 1.00 1.00 1.00 0.98 0.95 0.91 0.87 0.83 0.80 0.76 0.72 0.69 0.65 0.61 0.57 0.54 0.50 0.46 0.43 0.39 0.35 0.32 0.28 0.24"/><feFuncB type="table" tableValues="0.00 0.00 0.00 0.00 0.00 0.00 0.00 0.00 0.00 0.00 0.00 0.00 0.00 0.00 0.00 0.00 0.00 0.00 0.00 0.00 0.00 0.00 0.00 0.00 0.00 0.00 0.00 0.00 0.00 0.00 0.00 0.00 0.00 0.00 0.00 0.00 0.00 0.00 0.00 0.00 0.00"/><feFuncA type="table" tableValues="0.00 0.00 0.00 0.00 0.00 0.00 0.00 0.00 0.00 0.00 0.00 0.00 0.00 0.00 0.00 0.00 0.50 1.00 1.00 1.00 1.00 1.00 1.00 1.00 1.00 1.00 1.00 1.00 1.00 1.00 1.00 1.00 1.00 1.00 1.00 1.00 1.00 1.00 1.00 1.00 1.00"/></feComponentTransfer><feGaussianBlur stdDeviation="0.45"/></filter></defs>
<g filter="url(#act8)"><g transform="translate(400.00,900.00) scale(0.17188)" fill="#f00">
<path d="M962.0,206.0C972.0,193.3 987.3,197.0 1000.0,196.0C1012.7,195.0 1026.0,192.0 1038.0,200.0C1050.0,208.0 1059.7,234.0 1072.0,244.0C1084.3,254.0 1101.0,253.3 1112.0,260.0C1123.0,266.7 1134.3,274.3 1138.0,284.0C1141.7,293.7 1141.0,306.2 1134.0,318.0C1127.0,329.8 1110.3,343.0 1096.0,355.0C1081.7,367.0 1064.0,380.2 1048.0,390.0C1032.0,399.8 1015.0,408.2 1000.0,414.0C985.0,419.8 971.0,428.0 958.0,425.0C945.0,422.0 928.0,410.2 922.0,396.0C916.0,381.8 919.0,360.7 922.0,340.0C925.0,319.3 933.3,294.3 940.0,272.0C946.7,249.7 952.0,218.7 962.0,206.0Z"/>
</g></g>
<mask id="mk6" maskUnits="userSpaceOnUse" x="665.0" y="905.0" width="240" height="250">
<g transform="translate(670.00,910.00) scale(0.17188)">
<path d="M622.0,155.0C631.3,155.0 638.7,139.5 650.0,135.0C661.3,130.5 675.0,130.2 690.0,128.0C705.0,125.8 721.7,121.7 740.0,122.0C758.3,122.3 780.8,125.7 800.0,130.0C819.2,134.3 837.5,140.0 855.0,148.0C872.5,156.0 889.2,166.8 905.0,178.0C920.8,189.2 935.8,201.7 950.0,215.0C964.2,228.3 977.5,243.0 990.0,258.0C1002.5,273.0 1013.7,288.0 1025.0,305.0C1036.3,322.0 1048.0,340.8 1058.0,360.0C1068.0,379.2 1076.7,399.2 1085.0,420.0C1093.3,440.8 1101.3,463.3 1108.0,485.0C1114.7,506.7 1120.0,527.5 1125.0,550.0C1130.0,572.5 1134.7,596.7 1138.0,620.0C1141.3,643.3 1143.7,666.7 1145.0,690.0C1146.3,713.3 1147.2,736.7 1146.0,760.0C1144.8,783.3 1142.3,808.3 1138.0,830.0C1133.7,851.7 1128.8,873.3 1120.0,890.0C1111.2,906.7 1087.5,915.8 1085.0,930.0C1082.5,944.2 1101.2,957.5 1105.0,975.0C1108.8,992.5 1109.7,1015.0 1108.0,1035.0C1106.3,1055.0 1102.2,1076.7 1095.0,1095.0C1087.8,1113.3 1077.5,1130.0 1065.0,1145.0C1052.5,1160.0 1037.5,1174.2 1020.0,1185.0C1002.5,1195.8 980.8,1204.2 960.0,1210.0C939.2,1215.8 916.7,1219.7 895.0,1220.0C873.3,1220.3 850.0,1217.0 830.0,1212.0C810.0,1207.0 790.8,1198.7 775.0,1190.0C759.2,1181.3 746.2,1170.8 735.0,1160.0C723.8,1149.2 715.5,1135.8 708.0,1125.0C700.5,1114.2 698.0,1096.5 690.0,1095.0C682.0,1093.5 671.3,1111.5 660.0,1116.0C648.7,1120.5 634.7,1122.0 622.0,1122.0C609.3,1122.0 595.3,1120.5 584.0,1116.0C572.7,1111.5 562.0,1093.5 554.0,1095.0C546.0,1096.5 543.5,1114.2 536.0,1125.0C528.5,1135.8 520.2,1149.2 509.0,1160.0C497.8,1170.8 484.8,1181.3 469.0,1190.0C453.2,1198.7 434.0,1207.0 414.0,1212.0C394.0,1217.0 370.7,1220.3 349.0,1220.0C327.3,1219.7 304.8,1215.8 284.0,1210.0C263.2,1204.2 241.5,1195.8 224.0,1185.0C206.5,1174.2 191.5,1160.0 179.0,1145.0C166.5,1130.0 156.2,1113.3 149.0,1095.0C141.8,1076.7 137.7,1055.0 136.0,1035.0C134.3,1015.0 135.2,992.5 139.0,975.0C142.8,957.5 161.5,944.2 159.0,930.0C156.5,915.8 132.8,906.7 124.0,890.0C115.2,873.3 110.3,851.7 106.0,830.0C101.7,808.3 99.2,783.3 98.0,760.0C96.8,736.7 97.7,713.3 99.0,690.0C100.3,666.7 102.7,643.3 106.0,620.0C109.3,596.7 114.0,572.5 119.0,550.0C124.0,527.5 129.3,506.7 136.0,485.0C142.7,463.3 150.7,440.8 159.0,420.0C167.3,399.2 176.0,379.2 186.0,360.0C196.0,340.8 207.7,322.0 219.0,305.0C230.3,288.0 241.5,273.0 254.0,258.0C266.5,243.0 279.8,228.3 294.0,215.0C308.2,201.7 323.2,189.2 339.0,178.0C354.8,166.8 371.5,156.0 389.0,148.0C406.5,140.0 424.8,134.3 444.0,130.0C463.2,125.7 485.7,122.3 504.0,122.0C522.3,121.7 539.0,125.8 554.0,128.0C569.0,130.2 582.7,130.5 594.0,135.0C605.3,139.5 612.7,155.0 622.0,155.0Z" fill="#fff"/>
<path d="M622.0,140.0C622.5,183.3 625.0,303.3 625.0,400.0C625.0,496.7 622.5,666.7 622.0,720.0" fill="none" stroke="#000" stroke-width="9" stroke-linecap="round" stroke-linejoin="round"/>
<path d="M622,140L624,283" fill="none" stroke="#000" stroke-width="17.099999999999998" stroke-linecap="round"/>
<path d="M907.0,176.0C901.2,188.3 881.2,229.3 872.0,250.0C862.8,270.7 855.3,291.7 852.0,300.0" fill="none" stroke="#000" stroke-width="9" stroke-linecap="round" stroke-linejoin="round"/>
<path d="M907,176L888,217" fill="none" stroke="#000" stroke-width="17.099999999999998" stroke-linecap="round"/>
<path d="M992.0,256.0C983.7,266.7 957.0,304.3 942.0,320.0C927.0,335.7 908.7,345.0 902.0,350.0" fill="none" stroke="#000" stroke-width="9" stroke-linecap="round" stroke-linejoin="round"/>
<path d="M992,256L964,291" fill="none" stroke="#000" stroke-width="17.099999999999998" stroke-linecap="round"/>
<path d="M1060.0,358.0C1050.3,365.0 1018.7,389.7 1002.0,400.0C985.3,410.3 967.0,416.7 960.0,420.0" fill="none" stroke="#000" stroke-width="9" stroke-linecap="round" stroke-linejoin="round"/>
<path d="M1060,358L1028,381" fill="none" stroke="#000" stroke-width="17.099999999999998" stroke-linecap="round"/>
<path d="M1110.0,483.0C1098.7,485.8 1061.7,497.2 1042.0,500.0C1022.3,502.8 1000.3,500.0 992.0,500.0" fill="none" stroke="#000" stroke-width="9" stroke-linecap="round" stroke-linejoin="round"/>
<path d="M1110,483L1073,492" fill="none" stroke="#000" stroke-width="17.099999999999998" stroke-linecap="round"/>
<path d="M1140.0,620.0C1127.0,620.0 1085.0,623.3 1062.0,620.0C1039.0,616.7 1012.0,603.3 1002.0,600.0" fill="none" stroke="#000" stroke-width="9" stroke-linecap="round" stroke-linejoin="round"/>
<path d="M1140,620L1097,620" fill="none" stroke="#000" stroke-width="17.099999999999998" stroke-linecap="round"/>
<path d="M1147.0,700.0C1136.2,700.0 1102.8,701.7 1082.0,700.0C1061.2,698.3 1032.0,691.7 1022.0,690.0" fill="none" stroke="#000" stroke-width="9" stroke-linecap="round" stroke-linejoin="round"/>
<path d="M1147,700L1111,700" fill="none" stroke="#000" stroke-width="17.099999999999998" stroke-linecap="round"/>
<path d="M1140.0,830.0C1130.3,825.0 1100.0,810.0 1082.0,800.0C1064.0,790.0 1040.3,775.0 1032.0,770.0" fill="none" stroke="#000" stroke-width="9" stroke-linecap="round" stroke-linejoin="round"/>
<path d="M1140,830L1108,814" fill="none" stroke="#000" stroke-width="17.099999999999998" stroke-linecap="round"/>
<path d="M640.0,478.0C650.0,482.0 680.3,492.0 700.0,502.0C719.7,512.0 748.3,532.0 758.0,538.0" fill="none" stroke="#000" stroke-width="8" stroke-linecap="round" stroke-linejoin="round"/>
<path d="M642.0,562.0C650.0,561.0 675.7,550.0 690.0,556.0C704.3,562.0 721.7,591.0 728.0,598.0" fill="none" stroke="#000" stroke-width="7" stroke-linecap="round" stroke-linejoin="round"/>
<path d="M640.0,640.0C656.7,642.0 713.3,643.7 740.0,652.0C766.7,660.3 781.7,685.3 800.0,690.0C818.3,694.7 841.7,681.7 850.0,680.0" fill="none" stroke="#000" stroke-width="8" stroke-linecap="round" stroke-linejoin="round"/>
<path d="M642.0,428.0L690.0,442.0" fill="none" stroke="#000" stroke-width="7" stroke-linecap="round" stroke-linejoin="round"/>
<path d="M645.0,702.0C654.2,706.3 680.8,718.7 700.0,728.0C719.2,737.3 750.0,753.0 760.0,758.0" fill="none" stroke="#000" stroke-width="8" stroke-linecap="round" stroke-linejoin="round"/>
<path d="M700.0,560.0L700.0,600.0" fill="none" stroke="#000" stroke-width="7" stroke-linecap="round" stroke-linejoin="round"/>
<path d="M760.0,600.0C766.7,598.3 790.0,586.7 800.0,590.0C810.0,593.3 816.7,615.0 820.0,620.0" fill="none" stroke="#000" stroke-width="8" stroke-linecap="round" stroke-linejoin="round"/>
<path d="M760.0,130.0L765.0,200.0" fill="none" stroke="#000" stroke-width="8" stroke-linecap="round" stroke-linejoin="round"/>
<path d="M660.0,400.0L720.0,420.0" fill="none" stroke="#000" stroke-width="8" stroke-linecap="round" stroke-linejoin="round"/>
<path d="M1087.0,930.0C1065.8,925.0 1001.2,908.3 960.0,900.0C918.8,891.7 878.3,888.3 840.0,880.0C801.7,871.7 758.8,861.3 730.0,850.0C701.2,838.7 677.5,818.3 667.0,812.0" fill="none" stroke="#000" stroke-width="8" stroke-linecap="round" stroke-linejoin="round"/>
<path d="M690.0,1095.0C691.7,1082.5 700.0,1045.8 700.0,1020.0C700.0,994.2 695.8,963.3 690.0,940.0C684.2,916.7 669.2,890.0 665.0,880.0" fill="none" stroke="#000" stroke-width="7" stroke-linecap="round" stroke-linejoin="round"/>
<path d="M337.0,176.0C342.8,188.3 362.8,229.3 372.0,250.0C381.2,270.7 388.7,291.7 392.0,300.0" fill="none" stroke="#000" stroke-width="9" stroke-linecap="round" stroke-linejoin="round"/>
<path d="M337,176L356,217" fill="none" stroke="#000" stroke-width="17.099999999999998" stroke-linecap="round"/>
<path d="M252.0,256.0C260.3,266.7 287.0,304.3 302.0,320.0C317.0,335.7 335.3,345.0 342.0,350.0" fill="none" stroke="#000" stroke-width="9" stroke-linecap="round" stroke-linejoin="round"/>
<path d="M252,256L280,291" fill="none" stroke="#000" stroke-width="17.099999999999998" stroke-linecap="round"/>
<path d="M184.0,358.0C193.7,365.0 225.3,389.7 242.0,400.0C258.7,410.3 277.0,416.7 284.0,420.0" fill="none" stroke="#000" stroke-width="9" stroke-linecap="round" stroke-linejoin="round"/>
<path d="M184,358L216,381" fill="none" stroke="#000" stroke-width="17.099999999999998" stroke-linecap="round"/>
<path d="M134.0,483.0C145.3,485.8 182.3,497.2 202.0,500.0C221.7,502.8 243.7,500.0 252.0,500.0" fill="none" stroke="#000" stroke-width="9" stroke-linecap="round" stroke-linejoin="round"/>
<path d="M134,483L171,492" fill="none" stroke="#000" stroke-width="17.099999999999998" stroke-linecap="round"/>
<path d="M104.0,620.0C117.0,620.0 159.0,623.3 182.0,620.0C205.0,616.7 232.0,603.3 242.0,600.0" fill="none" stroke="#000" stroke-width="9" stroke-linecap="round" stroke-linejoin="round"/>
<path d="M104,620L147,620" fill="none" stroke="#000" stroke-width="17.099999999999998" stroke-linecap="round"/>
<path d="M97.0,700.0C107.8,700.0 141.2,701.7 162.0,700.0C182.8,698.3 212.0,691.7 222.0,690.0" fill="none" stroke="#000" stroke-width="9" stroke-linecap="round" stroke-linejoin="round"/>
<path d="M97,700L133,700" fill="none" stroke="#000" stroke-width="17.099999999999998" stroke-linecap="round"/>
<path d="M104.0,830.0C113.7,825.0 144.0,810.0 162.0,800.0C180.0,790.0 203.7,775.0 212.0,770.0" fill="none" stroke="#000" stroke-width="9" stroke-linecap="round" stroke-linejoin="round"/>
<path d="M104,830L136,814" fill="none" stroke="#000" stroke-width="17.099999999999998" stroke-linecap="round"/>
<path d="M604.0,478.0C594.0,482.0 563.7,492.0 544.0,502.0C524.3,512.0 495.7,532.0 486.0,538.0" fill="none" stroke="#000" stroke-width="8" stroke-linecap="round" stroke-linejoin="round"/>
<path d="M602.0,562.0C594.0,561.0 568.3,550.0 554.0,556.0C539.7,562.0 522.3,591.0 516.0,598.0" fill="none" stroke="#000" stroke-width="7" stroke-linecap="round" stroke-linejoin="round"/>
<path d="M604.0,640.0C587.3,642.0 530.7,643.7 504.0,652.0C477.3,660.3 462.3,685.3 444.0,690.0C425.7,694.7 402.3,681.7 394.0,680.0" fill="none" stroke="#000" stroke-width="8" stroke-linecap="round" stroke-linejoin="round"/>
<path d="M602.0,428.0L554.0,442.0" fill="none" stroke="#000" stroke-width="7" stroke-linecap="round" stroke-linejoin="round"/>
<path d="M599.0,702.0C589.8,706.3 563.2,718.7 544.0,728.0C524.8,737.3 494.0,753.0 484.0,758.0" fill="none" stroke="#000" stroke-width="8" stroke-linecap="round" stroke-linejoin="round"/>
<path d="M544.0,560.0L544.0,600.0" fill="none" stroke="#000" stroke-width="7" stroke-linecap="round" stroke-linejoin="round"/>
<path d="M484.0,600.0C477.3,598.3 454.0,586.7 444.0,590.0C434.0,593.3 427.3,615.0 424.0,620.0" fill="none" stroke="#000" stroke-width="8" stroke-linecap="round" stroke-linejoin="round"/>
<path d="M484.0,130.0L479.0,200.0" fill="none" stroke="#000" stroke-width="8" stroke-linecap="round" stroke-linejoin="round"/>
<path d="M584.0,400.0L524.0,420.0" fill="none" stroke="#000" stroke-width="8" stroke-linecap="round" stroke-linejoin="round"/>
<path d="M157.0,930.0C178.2,925.0 242.8,908.3 284.0,900.0C325.2,891.7 365.7,888.3 404.0,880.0C442.3,871.7 485.2,861.3 514.0,850.0C542.8,838.7 566.5,818.3 577.0,812.0" fill="none" stroke="#000" stroke-width="8" stroke-linecap="round" stroke-linejoin="round"/>
<path d="M554.0,1095.0C552.3,1082.5 544.0,1045.8 544.0,1020.0C544.0,994.2 548.2,963.3 554.0,940.0C559.8,916.7 574.8,890.0 579.0,880.0" fill="none" stroke="#000" stroke-width="7" stroke-linecap="round" stroke-linejoin="round"/>
<path d="M1108.0,1000.0C1089.1,1002.2 1032.3,1008.8 994.5,1013.2C956.6,1017.6 899.9,1024.2 881.0,1026.4" fill="none" stroke="#000" stroke-width="6" stroke-linecap="round" stroke-linejoin="round"/>
<path d="M1104.0,1060.0C1085.4,1057.8 1029.5,1051.2 992.2,1046.8C955.0,1042.4 899.1,1035.8 880.5,1033.6" fill="none" stroke="#000" stroke-width="6" stroke-linecap="round" stroke-linejoin="round"/>
<path d="M1082.0,1120.0C1065.0,1113.4 1013.9,1093.6 979.9,1080.4C945.9,1067.2 894.9,1047.4 877.8,1040.8" fill="none" stroke="#000" stroke-width="6" stroke-linecap="round" stroke-linejoin="round"/>
<path d="M1045.0,1165.0C1030.7,1155.1 987.8,1125.4 959.2,1105.6C930.6,1085.8 887.7,1056.1 873.4,1046.2" fill="none" stroke="#000" stroke-width="6" stroke-linecap="round" stroke-linejoin="round"/>
<path d="M990.0,1198.0C979.7,1185.7 948.9,1148.7 928.4,1124.1C907.9,1099.4 877.1,1062.5 866.8,1050.2" fill="none" stroke="#000" stroke-width="6" stroke-linecap="round" stroke-linejoin="round"/>
<path d="M930.0,1215.0C924.1,1201.4 906.5,1160.7 894.8,1133.6C883.1,1106.5 865.5,1065.8 859.6,1052.2" fill="none" stroke="#000" stroke-width="6" stroke-linecap="round" stroke-linejoin="round"/>
<path d="M865.0,1216.0C863.9,1202.4 860.6,1161.4 858.4,1134.2C856.2,1106.9 852.9,1066.0 851.8,1052.3" fill="none" stroke="#000" stroke-width="6" stroke-linecap="round" stroke-linejoin="round"/>
<path d="M805.0,1202.0C808.3,1189.4 818.2,1151.5 824.8,1126.3C831.4,1101.1 841.3,1063.3 844.6,1050.6" fill="none" stroke="#000" stroke-width="6" stroke-linecap="round" stroke-linejoin="round"/>
<path d="M755.0,1176.0C762.0,1165.3 782.9,1133.2 796.8,1111.8C810.7,1090.3 831.6,1058.2 838.6,1047.5" fill="none" stroke="#000" stroke-width="6" stroke-linecap="round" stroke-linejoin="round"/>
<path d="M720.0,1142.0C729.5,1133.8 758.1,1109.1 777.2,1092.7C796.3,1076.3 824.9,1051.7 834.4,1043.4" fill="none" stroke="#000" stroke-width="6" stroke-linecap="round" stroke-linejoin="round"/>
<path d="M1040.0,945.0C1031.0,951.8 1004.0,972.0 986.0,985.5C968.0,999.0 941.0,1019.2 932.0,1026.0" fill="none" stroke="#000" stroke-width="5" stroke-linecap="round" stroke-linejoin="round"/>
<path d="M960.0,925.0C955.0,932.8 940.0,956.0 930.0,971.5C920.0,987.0 905.0,1010.2 900.0,1018.0" fill="none" stroke="#000" stroke-width="5" stroke-linecap="round" stroke-linejoin="round"/>
<path d="M880.0,905.0C879.0,913.8 876.0,940.0 874.0,957.5C872.0,975.0 869.0,1001.2 868.0,1010.0" fill="none" stroke="#000" stroke-width="5" stroke-linecap="round" stroke-linejoin="round"/>
<path d="M800.0,885.0C803.0,894.8 812.0,924.0 818.0,943.5C824.0,963.0 833.0,992.2 836.0,1002.0" fill="none" stroke="#000" stroke-width="5" stroke-linecap="round" stroke-linejoin="round"/>
<path d="M136.0,1000.0C154.9,1002.2 211.7,1008.8 249.5,1013.2C287.4,1017.6 344.1,1024.2 363.0,1026.4" fill="none" stroke="#000" stroke-width="6" stroke-linecap="round" stroke-linejoin="round"/>
<path d="M140.0,1060.0C158.6,1057.8 214.5,1051.2 251.8,1046.8C289.0,1042.4 344.9,1035.8 363.5,1033.6" fill="none" stroke="#000" stroke-width="6" stroke-linecap="round" stroke-linejoin="round"/>
<path d="M162.0,1120.0C179.0,1113.4 230.1,1093.6 264.1,1080.4C298.1,1067.2 349.1,1047.4 366.2,1040.8" fill="none" stroke="#000" stroke-width="6" stroke-linecap="round" stroke-linejoin="round"/>
<path d="M199.0,1165.0C213.3,1155.1 256.2,1125.4 284.8,1105.6C313.4,1085.8 356.3,1056.1 370.6,1046.2" fill="none" stroke="#000" stroke-width="6" stroke-linecap="round" stroke-linejoin="round"/>
<path d="M254.0,1198.0C264.3,1185.7 295.1,1148.7 315.6,1124.1C336.1,1099.4 366.9,1062.5 377.2,1050.2" fill="none" stroke="#000" stroke-width="6" stroke-linecap="round" stroke-linejoin="round"/>
<path d="M314.0,1215.0C319.9,1201.4 337.5,1160.7 349.2,1133.6C360.9,1106.5 378.5,1065.8 384.4,1052.2" fill="none" stroke="#000" stroke-width="6" stroke-linecap="round" stroke-linejoin="round"/>
<path d="M379.0,1216.0C380.1,1202.4 383.4,1161.4 385.6,1134.2C387.8,1106.9 391.1,1066.0 392.2,1052.3" fill="none" stroke="#000" stroke-width="6" stroke-linecap="round" stroke-linejoin="round"/>
<path d="M439.0,1202.0C435.7,1189.4 425.8,1151.5 419.2,1126.3C412.6,1101.1 402.7,1063.3 399.4,1050.6" fill="none" stroke="#000" stroke-width="6" stroke-linecap="round" stroke-linejoin="round"/>
<path d="M489.0,1176.0C482.0,1165.3 461.1,1133.2 447.2,1111.8C433.3,1090.3 412.4,1058.2 405.4,1047.5" fill="none" stroke="#000" stroke-width="6" stroke-linecap="round" stroke-linejoin="round"/>
<path d="M524.0,1142.0C514.5,1133.8 485.9,1109.1 466.8,1092.7C447.7,1076.3 419.1,1051.7 409.6,1043.4" fill="none" stroke="#000" stroke-width="6" stroke-linecap="round" stroke-linejoin="round"/>
<path d="M204.0,945.0C213.0,951.8 240.0,972.0 258.0,985.5C276.0,999.0 303.0,1019.2 312.0,1026.0" fill="none" stroke="#000" stroke-width="5" stroke-linecap="round" stroke-linejoin="round"/>
<path d="M284.0,925.0C289.0,932.8 304.0,956.0 314.0,971.5C324.0,987.0 339.0,1010.2 344.0,1018.0" fill="none" stroke="#000" stroke-width="5" stroke-linecap="round" stroke-linejoin="round"/>
<path d="M364.0,905.0C365.0,913.8 368.0,940.0 370.0,957.5C372.0,975.0 375.0,1001.2 376.0,1010.0" fill="none" stroke="#000" stroke-width="5" stroke-linecap="round" stroke-linejoin="round"/>
<path d="M444.0,885.0C441.0,894.8 432.0,924.0 426.0,943.5C420.0,963.0 411.0,992.2 408.0,1002.0" fill="none" stroke="#000" stroke-width="5" stroke-linecap="round" stroke-linejoin="round"/>
<path d="M690.0,128.0C691.8,132.8 697.1,147.3 700.7,157.0C704.2,166.6 709.6,181.1 711.4,186.0" fill="none" stroke="#000" stroke-width="9" stroke-linecap="round" stroke-linejoin="round"/>
<path d="M690,128L696,144" fill="none" stroke="#000" stroke-width="17.099999999999998" stroke-linecap="round"/>
<path d="M855.0,148.0C855.4,155.0 856.7,176.1 857.5,190.1C858.4,204.2 859.7,225.2 860.1,232.2" fill="none" stroke="#000" stroke-width="9" stroke-linecap="round" stroke-linejoin="round"/>
<path d="M855,148L856,171" fill="none" stroke="#000" stroke-width="17.099999999999998" stroke-linecap="round"/>
<path d="M950.0,215.0C948.5,220.2 943.9,235.6 940.8,245.9C937.7,256.2 933.2,271.7 931.6,276.8" fill="none" stroke="#000" stroke-width="9" stroke-linecap="round" stroke-linejoin="round"/>
<path d="M950,215L945,232" fill="none" stroke="#000" stroke-width="17.099999999999998" stroke-linecap="round"/>
<path d="M1025.0,305.0C1022.9,308.5 1016.4,318.8 1012.1,325.8C1007.8,332.7 1001.4,343.1 999.3,346.5" fill="none" stroke="#000" stroke-width="9" stroke-linecap="round" stroke-linejoin="round"/>
<path d="M1025,305L1018,316" fill="none" stroke="#000" stroke-width="17.099999999999998" stroke-linecap="round"/>
<path d="M1085.0,420.0C1079.4,422.2 1062.8,428.8 1051.6,433.1C1040.5,437.5 1023.8,444.1 1018.3,446.3" fill="none" stroke="#000" stroke-width="9" stroke-linecap="round" stroke-linejoin="round"/>
<path d="M1085,420L1067,427" fill="none" stroke="#000" stroke-width="17.099999999999998" stroke-linecap="round"/>
<path d="M1125.0,550.0C1121.3,550.7 1110.3,552.6 1102.9,553.9C1095.5,555.2 1084.4,557.2 1080.8,557.9" fill="none" stroke="#000" stroke-width="9" stroke-linecap="round" stroke-linejoin="round"/>
<path d="M1125,550L1113,552" fill="none" stroke="#000" stroke-width="17.099999999999998" stroke-linecap="round"/>
<path d="M1146.0,760.0C1143.5,757.2 1135.9,748.7 1130.9,743.1C1125.8,737.5 1118.2,729.0 1115.7,726.2" fill="none" stroke="#000" stroke-width="9" stroke-linecap="round" stroke-linejoin="round"/>
<path d="M1146,760L1138,751" fill="none" stroke="#000" stroke-width="17.099999999999998" stroke-linecap="round"/>
<path d="M98.0,760.0C101.8,754.9 113.4,739.5 121.1,729.2C128.8,719.0 140.3,703.6 144.2,698.4" fill="none" stroke="#000" stroke-width="9" stroke-linecap="round" stroke-linejoin="round"/>
<path d="M98,760L111,743" fill="none" stroke="#000" stroke-width="17.099999999999998" stroke-linecap="round"/>
<path d="M119.0,550.0C126.2,552.6 147.7,560.6 162.0,565.8C176.3,571.1 197.8,579.0 205.0,581.7" fill="none" stroke="#000" stroke-width="9" stroke-linecap="round" stroke-linejoin="round"/>
<path d="M119,550L143,559" fill="none" stroke="#000" stroke-width="17.099999999999998" stroke-linecap="round"/>
<path d="M159.0,420.0C163.8,423.6 178.1,434.4 187.6,441.5C197.1,448.7 211.4,459.5 216.2,463.1" fill="none" stroke="#000" stroke-width="9" stroke-linecap="round" stroke-linejoin="round"/>
<path d="M159,420L175,432" fill="none" stroke="#000" stroke-width="17.099999999999998" stroke-linecap="round"/>
<path d="M219.0,305.0C222.3,307.6 232.0,315.5 238.5,320.8C245.0,326.1 254.8,334.0 258.0,336.6" fill="none" stroke="#000" stroke-width="9" stroke-linecap="round" stroke-linejoin="round"/>
<path d="M219,305L230,314" fill="none" stroke="#000" stroke-width="17.099999999999998" stroke-linecap="round"/>
<path d="M294.0,215.0C296.9,219.9 305.8,234.5 311.7,244.3C317.6,254.0 326.4,268.7 329.4,273.5" fill="none" stroke="#000" stroke-width="9" stroke-linecap="round" stroke-linejoin="round"/>
<path d="M294,215L304,231" fill="none" stroke="#000" stroke-width="17.099999999999998" stroke-linecap="round"/>
<path d="M389.0,148.0C389.6,152.1 391.6,164.4 392.9,172.7C394.2,180.9 396.1,193.2 396.8,197.3" fill="none" stroke="#000" stroke-width="9" stroke-linecap="round" stroke-linejoin="round"/>
<path d="M389,148L391,162" fill="none" stroke="#000" stroke-width="17.099999999999998" stroke-linecap="round"/>
<path d="M554.0,128.0C552.8,131.2 549.2,140.9 546.7,147.4C544.3,153.9 540.7,163.6 539.5,166.8" fill="none" stroke="#000" stroke-width="9" stroke-linecap="round" stroke-linejoin="round"/>
<path d="M554,128L550,139" fill="none" stroke="#000" stroke-width="17.099999999999998" stroke-linecap="round"/>
</g></mask>
<g filter="url(#mri)"><rect x="665.0" y="905.0" width="240" height="250" fill="#fff" mask="url(#mk6)"/></g>
<g filter="url(#bl1)"><g transform="translate(670.00,910.00) scale(0.17188)">
<ellipse cx="622" cy="960" rx="105" ry="150" transform="rotate(0 622 960)" fill="#b6b6b6"/>
<ellipse cx="360" cy="1100" rx="215" ry="115" transform="rotate(-6 360 1100)" fill="rgba(0,0,0,0.13)"/>
<ellipse cx="885" cy="1100" rx="215" ry="115" transform="rotate(6 885 1100)" fill="rgba(0,0,0,0.13)"/>
<ellipse cx="622" cy="1010" rx="62" ry="85" transform="rotate(0 622 1010)" fill="#cfcfcf"/>
<ellipse cx="622" cy="870" rx="50" ry="45" transform="rotate(0 622 870)" fill="#b0b0b0"/>
<ellipse cx="560" cy="620" rx="45" ry="70" transform="rotate(20 560 620)" fill="#a8a8a8"/>
<ellipse cx="690" cy="620" rx="45" ry="70" transform="rotate(-20 690 620)" fill="#a8a8a8"/>
<path d="M550.0,801.0C556.7,783.5 595.0,731.0 620.0,731.0C645.0,731.0 693.3,784.3 700.0,801.0C706.7,817.7 673.3,832.7 660.0,831.0C646.7,829.3 633.3,790.2 620.0,791.0C606.7,791.8 591.7,834.3 580.0,836.0C568.3,837.7 543.3,818.5 550.0,801.0Z" fill="#000"/>
<path d="M560.0,1060.0C562.5,1066.7 564.7,1090.3 575.0,1100.0C585.3,1109.7 606.2,1118.0 622.0,1118.0C637.8,1118.0 659.5,1109.7 670.0,1100.0C680.5,1090.3 682.5,1066.7 685.0,1060.0" fill="none" stroke="#555" stroke-width="7" stroke-linecap="round"/>
</g></g>
<defs><filter id="act9" x="-30%" y="-30%" width="160%" height="160%" color-interpolation-filters="sRGB"><feGaussianBlur in="SourceAlpha" stdDeviation="4.4"/><feColorMatrix type="matrix" values="0 0 0 1 0  0 0 0 1 0  0 0 0 1 0  0 0 0 1 0"/><feComponentTransfer><feFuncR type="table" tableValues="0.68 0.68 0.68 0.68 0.68 0.68 0.68 0.68 0.68 0.68 0.68 0.68 0.68 0.70 0.77 0.83 0.89 0.96 1.00 1.00 1.00 1.00 1.00 1.00 1.00 1.00 1.00 1.00 1.00 1.00 1.00 1.00 1.00 1.00 1.00 1.00 1.00 1.00 1.00 1.00 1.00"/><feFuncG type="table" tableValues="1.00 1.00 1.00 1.00 1.00 1.00 1.00 1.00 1.00 1.00 1.00 1.00 1.00 1.00 1.00 1.00 1.00 1.00 0.99 0.95 0.91 0.86 0.82 0.78 0.74 0.70 0.66 0.62 0.58 0.54 0.50 0.45 0.41 0.37 0.33 0.29 0.25 0.21 0.17 0.13 0.09"/><feFuncB type="table" tableValues="0.00 0.00 0.00 0.00 0.00 0.00 0.00 0.00 0.00 0.00 0.00 0.00 0.00 0.00 0.00 0.00 0.00 0.00 0.00 0.00 0.00 0.00 0.00 0.00 0.00 0.00 0.00 0.00 0.00 0.00 0.00 0.00 0.00 0.00 0.00 0.00 0.00 0.00 0.02 0.04 0.06"/><feFuncA type="table" tableValues="0.00 0.00 0.00 0.00 0.00 0.00 0.00 0.00 0.00 0.00 0.00 0.00 0.00 0.40 0.90 1.00 1.00 1.00 1.00 1.00 1.00 1.00 1.00 1.00 1.00 1.00 1.00 1.00 1.00 1.00 1.00 1.00 1.00 1.00 1.00 1.00 1.00 1.00 1.00 1.00 1.00"/></feComponentTransfer><feGaussianBlur stdDeviation="0.45"/></filter></defs>
<g filter="url(#act9)"><g transform="translate(670.00,910.00) scale(0.17188)" fill="#f00">
<circle cx="350" cy="272" r="68"/>
<circle cx="330" cy="335" r="42"/>
<circle cx="380" cy="385" r="36"/>
<circle cx="405" cy="300" r="40"/>
<circle cx="420" cy="220" r="30"/>
<circle cx="470" cy="240" r="22"/>
<circle cx="600" cy="330" r="55"/>
<circle cx="560" cy="400" r="45"/>
<circle cx="530" cy="440" r="30"/>
<circle cx="580" cy="260" r="35"/>
<circle cx="640" cy="400" r="35"/>
<circle cx="720" cy="200" r="60"/>
<circle cx="660" cy="260" r="40"/>
<circle cx="780" cy="220" r="40"/>
<circle cx="890" cy="270" r="60"/>
<circle cx="870" cy="350" r="45"/>
<circle cx="880" cy="400" r="30"/>
<circle cx="820" cy="300" r="40"/>
<circle cx="760" cy="330" r="35"/>
<circle cx="930" cy="230" r="35"/>
<circle cx="895" cy="175" r="14"/>
<circle cx="470" cy="232" r="30"/>
<circle cx="515" cy="232" r="26"/>
</g></g>
<defs><filter id="act10" x="-30%" y="-30%" width="160%" height="160%" color-interpolation-filters="sRGB"><feGaussianBlur in="SourceAlpha" stdDeviation="2.2"/><feColorMatrix type="matrix" values="0 0 0 1 0  0 0 0 1 0  0 0 0 1 0  0 0 0 1 0"/><feComponentTransfer><feFuncR type="table" tableValues="0.68 0.68 0.68 0.68 0.68 0.68 0.68 0.68 0.68 0.68 0.68 0.68 0.68 0.68 0.68 0.68 0.68 0.68 0.68 0.68 0.68 0.68 0.68 0.68 0.68 0.68 0.68 0.68 0.68 0.69 0.72 0.75 0.78 0.80 0.83 0.86 0.89 0.92 0.94 0.97 1.00"/><feFuncG type="table" tableValues="1.00 1.00 1.00 1.00 1.00 1.00 1.00 1.00 1.00 1.00 1.00 1.00 1.00 1.00 1.00 1.00 1.00 1.00 1.00 1.00 1.00 1.00 1.00 1.00 1.00 1.00 1.00 1.00 1.00 1.00 1.00 1.00 1.00 1.00 1.00 1.00 1.00 1.00 1.00 1.00 1.00"/><feFuncB type="table" tableValues="0.00 0.00 0.00 0.00 0.00 0.00 0.00 0.00 0.00 0.00 0.00 0.00 0.00 0.00 0.00 0.00 0.00 0.00 0.00 0.00 0.00 0.00 0.00 0.00 0.00 0.00 0.00 0.00 0.00 0.00 0.00 0.00 0.00 0.00 0.00 0.00 0.00 0.00 0.00 0.00 0.00"/><feFuncA type="table" tableValues="0.00 0.00 0.00 0.00 0.00 0.00 0.00 0.00 0.00 0.00 0.00 0.00 0.50 1.00 1.00 1.00 1.00 1.00 1.00 1.00 1.00 1.00 1.00 1.00 1.00 1.00 1.00 1.00 1.00 1.00 1.00 1.00 1.00 1.00 1.00 1.00 1.00 1.00 1.00 1.00 1.00"/></feComponentTransfer><feGaussianBlur stdDeviation="0.45"/></filter></defs>
<g filter="url(#act10)"><g transform="translate(670.00,910.00) scale(0.17188)" fill="#f00">
<circle cx="135" cy="745" r="30"/>
</g></g>
<defs><filter id="act11" x="-30%" y="-30%" width="160%" height="160%" color-interpolation-filters="sRGB"><feGaussianBlur in="SourceAlpha" stdDeviation="2.4"/><feColorMatrix type="matrix" values="0 0 0 1 0  0 0 0 1 0  0 0 0 1 0  0 0 0 1 0"/><feComponentTransfer><feFuncR type="table" tableValues="0.68 0.68 0.68 0.68 0.68 0.68 0.68 0.68 0.68 0.68 0.68 0.68 0.68 0.68 0.68 0.68 0.68 0.68 0.68 0.68 0.68 0.72 0.76 0.80 0.84 0.88 0.92 0.96 1.00 1.00 1.00 1.00 1.00 1.00 1.00 1.00 1.00 1.00 1.00 1.00 1.00"/><feFuncG type="table" tableValues="1.00 1.00 1.00 1.00 1.00 1.00 1.00 1.00 1.00 1.00 1.00 1.00 1.00 1.00 1.00 1.00 1.00 1.00 1.00 1.00 1.00 1.00 1.00 1.00 1.00 1.00 1.00 1.00 1.00 0.97 0.95 0.92 0.90 0.87 0.84 0.82 0.79 0.77 0.74 0.72 0.69"/><feFuncB type="table" tableValues="0.00 0.00 0.00 0.00 0.00 0.00 0.00 0.00 0.00 0.00 0.00 0.00 0.00 0.00 0.00 0.00 0.00 0.00 0.00 0.00 0.00 0.00 0.00 0.00 0.00 0.00 0.00 0.00 0.00 0.00 0.00 0.00 0.00 0.00 0.00 0.00 0.00 0.00 0.00 0.00 0.00"/><feFuncA type="table" tableValues="0.00 0.00 0.00 0.00 0.00 0.00 0.00 0.00 0.00 0.00 0.00 0.00 0.50 1.00 1.00 1.00 1.00 1.00 1.00 1.00 1.00 1.00 1.00 1.00 1.00 1.00 1.00 1.00 1.00 1.00 1.00 1.00 1.00 1.00 1.00 1.00 1.00 1.00 1.00 1.00 1.00"/></feComponentTransfer><feGaussianBlur stdDeviation="0.45"/></filter></defs>
<g filter="url(#act11)"><g transform="translate(670.00,910.00) scale(0.17188)" fill="#f00">
<ellipse cx="275" cy="856" rx="128" ry="33" transform="rotate(5 275 856)"/>
</g></g>
<defs><filter id="act12" x="-30%" y="-30%" width="160%" height="160%" color-interpolation-filters="sRGB"><feGaussianBlur in="SourceAlpha" stdDeviation="2.4"/><feColorMatrix type="matrix" values="0 0 0 1 0  0 0 0 1 0  0 0 0 1 0  0 0 0 1 0"/><feComponentTransfer><feFuncR type="table" tableValues="0.68 0.68 0.68 0.68 0.68 0.68 0.68 0.68 0.68 0.68 0.68 0.68 0.68 0.75 0.81 0.88 0.95 1.00 1.00 1.00 1.00 1.00 1.00 1.00 1.00 1.00 1.00 1.00 1.00 1.00 1.00 1.00 1.00 1.00 1.00 1.00 1.00 1.00 1.00 1.00 1.00"/><feFuncG type="table" tableValues="1.00 1.00 1.00 1.00 1.00 1.00 1.00 1.00 1.00 1.00 1.00 1.00 1.00 1.00 1.00 1.00 1.00 0.99 0.95 0.91 0.86 0.82 0.78 0.73 0.69 0.65 0.60 0.56 0.52 0.47 0.43 0.39 0.34 0.30 0.26 0.22 0.17 0.13 0.09 0.04 -0.00"/><feFuncB type="table" tableValues="0.00 0.00 0.00 0.00 0.00 0.00 0.00 0.00 0.00 0.00 0.00 0.00 0.00 0.00 0.00 0.00 0.00 0.00 0.00 0.00 0.00 0.00 0.00 0.00 0.00 0.00 0.00 0.00 0.00 0.00 0.00 0.00 0.00 0.00 0.00 0.00 0.01 0.04 0.06 0.08 0.10"/><feFuncA type="table" tableValues="0.00 0.00 0.00 0.00 0.00 0.00 0.00 0.00 0.00 0.00 0.00 0.00 0.00 0.00 0.00 0.00 0.00 0.00 0.00 0.00 0.50 1.00 1.00 1.00 1.00 1.00 1.00 1.00 1.00 1.00 1.00 1.00 1.00 1.00 1.00 1.00 1.00 1.00 1.00 1.00 1.00"/></feComponentTransfer><feGaussianBlur stdDeviation="0.45"/></filter></defs>
<g filter="url(#act12)"><g transform="translate(670.00,910.00) scale(0.17188)" fill="#f00">
<circle cx="182" cy="846" r="26"/>
<circle cx="340" cy="862" r="26"/>
</g></g>
<defs><filter id="act13" x="-30%" y="-30%" width="160%" height="160%" color-interpolation-filters="sRGB"><feGaussianBlur in="SourceAlpha" stdDeviation="2.4"/><feColorMatrix type="matrix" values="0 0 0 1 0  0 0 0 1 0  0 0 0 1 0  0 0 0 1 0"/><feComponentTransfer><feFuncR type="table" tableValues="0.68 0.68 0.68 0.68 0.68 0.68 0.68 0.68 0.68 0.68 0.68 0.68 0.68 0.68 0.68 0.73 0.79 0.84 0.90 0.96 1.00 1.00 1.00 1.00 1.00 1.00 1.00 1.00 1.00 1.00 1.00 1.00 1.00 1.00 1.00 1.00 1.00 1.00 1.00 1.00 1.00"/><feFuncG type="table" tableValues="1.00 1.00 1.00 1.00 1.00 1.00 1.00 1.00 1.00 1.00 1.00 1.00 1.00 1.00 1.00 1.00 1.00 1.00 1.00 1.00 0.99 0.95 0.92 0.88 0.84 0.81 0.77 0.73 0.70 0.66 0.62 0.59 0.55 0.52 0.48 0.44 0.41 0.37 0.33 0.30 0.26"/><feFuncB type="table" tableValues="0.00 0.00 0.00 0.00 0.00 0.00 0.00 0.00 0.00 0.00 0.00 0.00 0.00 0.00 0.00 0.00 0.00 0.00 0.00 0.00 0.00 0.00 0.00 0.00 0.00 0.00 0.00 0.00 0.00 0.00 0.00 0.00 0.00 0.00 0.00 0.00 0.00 0.00 0.00 0.00 0.00"/><feFuncA type="table" tableValues="0.00 0.00 0.00 0.00 0.00 0.00 0.00 0.00 0.00 0.00 0.00 0.00 0.50 1.00 1.00 1.00 1.00 1.00 1.00 1.00 1.00 1.00 1.00 1.00 1.00 1.00 1.00 1.00 1.00 1.00 1.00 1.00 1.00 1.00 1.00 1.00 1.00 1.00 1.00 1.00 1.00"/></feComponentTransfer><feGaussianBlur stdDeviation="0.45"/></filter></defs>
<g filter="url(#act13)"><g transform="translate(670.00,910.00) scale(0.17188)" fill="#f00">
<path d="M985.0,915.0C978.3,906.7 980.8,876.7 985.0,860.0C989.2,843.3 997.5,826.7 1010.0,815.0C1022.5,803.3 1041.7,793.3 1060.0,790.0C1078.3,786.7 1106.7,788.3 1120.0,795.0C1133.3,801.7 1140.0,819.2 1140.0,830.0C1140.0,840.8 1130.8,857.5 1120.0,860.0C1109.2,862.5 1088.3,843.3 1075.0,845.0C1061.7,846.7 1048.3,859.2 1040.0,870.0C1031.7,880.8 1034.2,902.5 1025.0,910.0C1015.8,917.5 991.7,923.3 985.0,915.0Z"/>
</g></g>
<text x="453.0" y="47.3" font-size="47.5" style="fill:#fff;stroke:#fff">A</text>
<text x="391.3" y="487.9" font-size="48" style="fill:#fff;stroke:#fff">B</text>
<text x="511.3" y="468.5" font-size="23" text-anchor="middle" style="fill:#fff;stroke:#fff">ACC</text>
<text x="779.3" y="468.5" font-size="23" text-anchor="middle" style="fill:#fff;stroke:#fff">VLPFC</text>
<text x="511.4" y="683.0" font-size="23" text-anchor="middle" style="fill:#fff;stroke:#fff">insula</text>
<text x="779.7" y="683.0" font-size="23" text-anchor="middle" style="fill:#fff;stroke:#fff">premotor</text>
<text x="517.3" y="899.5" font-size="23" text-anchor="middle" style="fill:#fff;stroke:#fff">vPPC</text>
<text x="784.4" y="899.5" font-size="23" text-anchor="middle" style="fill:#fff;stroke:#fff">dPPC and Fusiform</text>
<rect x="518.6" y="334.6" width="3.6" height="74" fill="#111"/>
<polygon points="509.6,406 531.2,406 520.4,427.8" fill="#111"/>
<rect x="776.2" y="334.6" width="3.6" height="74" fill="#111"/>
<polygon points="767.2,406 788.8,406 778.0,427.8" fill="#111"/>
<text x="645.6" y="360.4" font-size="23" text-anchor="middle" style="fill:#111;stroke:#111">Functional</text>
<text x="645.1" y="388.5" font-size="23" text-anchor="middle" style="fill:#111;stroke:#111">Connectivity</text>
<text x="645.4" y="415.6" font-size="23" text-anchor="middle" style="fill:#111;stroke:#111">Analysis</text>
<rect x="450.6" y="1164.2" width="393.2" height="24.3" fill="url(#cbar)"/>
<text x="375.0" y="1188.8" font-size="23" text-anchor="start" style="fill:#111;stroke:#111">t = 2.9</text>
<text x="856.5" y="1188.9" font-size="23" text-anchor="start" style="fill:#111;stroke:#111">4.5</text>
<text x="3.5" y="330.6" font-size="48" text-anchor="start" style="fill:#000;stroke:#000">Ci</text>
<text x="72.3" y="322.5" font-size="32.6" text-anchor="start" style="fill:#111;stroke:#111">L DLPFC Coupling:</text>
<text x="908.8" y="331.0" font-size="48" text-anchor="start" style="fill:#000;stroke:#000">Cii</text>
<text x="983.3" y="322.5" font-size="32.6" text-anchor="start" style="fill:#111;stroke:#111">R DLPFC Coupling:</text>
<g>
<rect x="47.4" y="361.6" width="4.8" height="1.8" fill="#a2a2a2"/>
<text x="46.0" y="370.0" font-size="18.3" text-anchor="end">200</text>
<rect x="47.4" y="397.4" width="4.8" height="1.2" fill="#bcbcbc"/>
<rect x="47.4" y="432.6" width="4.8" height="1.8" fill="#a2a2a2"/>
<text x="46.0" y="441.0" font-size="18.3" text-anchor="end">160</text>
<rect x="47.4" y="468.2" width="4.8" height="1.2" fill="#bcbcbc"/>
<rect x="47.4" y="503.2" width="4.8" height="1.8" fill="#a2a2a2"/>
<text x="46.0" y="511.6" font-size="18.3" text-anchor="end">120</text>
<rect x="47.4" y="538.9" width="4.8" height="1.2" fill="#bcbcbc"/>
<rect x="47.4" y="573.9" width="4.8" height="1.8" fill="#a2a2a2"/>
<text x="46.0" y="582.3" font-size="18.3" text-anchor="end">80</text>
<rect x="67.4" y="587.0" width="1.8" height="6.6" fill="#9a9a9a"/>
<text x="68.3" y="610.9" font-size="18.3" text-anchor="middle">0.0</text>
<rect x="112.9" y="587.0" width="1.7" height="6.6" fill="#9a9a9a"/>
<rect x="158.2" y="587.0" width="1.8" height="6.6" fill="#9a9a9a"/>
<text x="159.1" y="610.9" font-size="18.3" text-anchor="middle">0.1</text>
<rect x="203.7" y="587.0" width="1.7" height="6.6" fill="#9a9a9a"/>
<rect x="249.1" y="587.0" width="1.8" height="6.6" fill="#9a9a9a"/>
<text x="250.0" y="610.9" font-size="18.3" text-anchor="middle">0.2</text>
<rect x="294.7" y="587.0" width="1.7" height="6.6" fill="#9a9a9a"/>
<rect x="340.2" y="587.0" width="1.8" height="6.6" fill="#9a9a9a"/>
<text x="341.1" y="610.9" font-size="18.3" text-anchor="middle">0.3</text>
<rect x="51.9" y="351.2" width="2.2" height="236.2" fill="#3a3a3a"/>
<rect x="51.9" y="585.3" width="304.4" height="2.2" fill="#3a3a3a"/>
<line x1="53.4" y1="455.8" x2="355.7" y2="573.0" stroke="#2e2e2e" stroke-width="2.3"/>
<g fill="#0a0a0a"><circle cx="72.4" cy="379.8" r="2.00"/><circle cx="69.2" cy="401.4" r="2.00"/><circle cx="81.9" cy="411.2" r="2.00"/><circle cx="70.7" cy="427.8" r="2.00"/><circle cx="68.9" cy="429.3" r="2.00"/><circle cx="70.1" cy="435.6" r="2.00"/><circle cx="101.5" cy="425.5" r="2.00"/><circle cx="69.2" cy="452.5" r="2.00"/><circle cx="71.2" cy="453.4" r="2.00"/><circle cx="78.1" cy="455.2" r="2.00"/><circle cx="99.8" cy="452.8" r="2.00"/><circle cx="112.8" cy="447.4" r="2.00"/><circle cx="115.8" cy="458.1" r="2.00"/><circle cx="117.9" cy="462.3" r="2.00"/><circle cx="182.3" cy="449.2" r="2.00"/><circle cx="84.0" cy="464.7" r="2.00"/><circle cx="81.9" cy="471.5" r="2.00"/><circle cx="84.0" cy="474.2" r="2.00"/><circle cx="96.5" cy="470.9" r="2.00"/><circle cx="68.0" cy="476.8" r="2.00"/><circle cx="117.9" cy="482.8" r="2.00"/><circle cx="68.9" cy="485.1" r="2.00"/><circle cx="174.9" cy="486.9" r="2.00"/><circle cx="70.1" cy="499.4" r="2.00"/><circle cx="81.6" cy="499.7" r="2.00"/><circle cx="102.7" cy="497.3" r="2.00"/><circle cx="108.4" cy="501.5" r="2.00"/><circle cx="71.2" cy="515.7" r="2.00"/><circle cx="76.9" cy="515.7" r="2.00"/><circle cx="81.3" cy="530.0" r="2.00"/><circle cx="100.0" cy="534.4" r="2.00"/><circle cx="100.6" cy="536.2" r="2.00"/><circle cx="171.0" cy="531.2" r="2.00"/><circle cx="195.6" cy="562.3" r="2.00"/><circle cx="268.1" cy="550.8" r="2.00"/><circle cx="320.9" cy="540.7" r="2.00"/></g>
<text transform="translate(13.8,473.2) rotate(-90)" font-size="18.5" text-anchor="middle">Shift Cost (ms)</text>
<text x="358.6" y="386.3" font-size="23.2" text-anchor="end">L Premotor</text>
<text x="206.0" y="386.3" font-size="23" font-weight="bold" text-anchor="start" style="stroke-width:0">***</text>
</g>
<g>
<rect x="47.4" y="649.7" width="4.8" height="1.8" fill="#a2a2a2"/>
<text x="46.0" y="658.1" font-size="18.3" text-anchor="end">200</text>
<rect x="47.4" y="685.9" width="4.8" height="1.2" fill="#bcbcbc"/>
<rect x="47.4" y="721.5" width="4.8" height="1.8" fill="#a2a2a2"/>
<text x="46.0" y="729.9" font-size="18.3" text-anchor="end">160</text>
<rect x="47.4" y="757.7" width="4.8" height="1.2" fill="#bcbcbc"/>
<rect x="47.4" y="793.4" width="4.8" height="1.8" fill="#a2a2a2"/>
<text x="46.0" y="801.8" font-size="18.3" text-anchor="end">120</text>
<rect x="47.4" y="829.4" width="4.8" height="1.2" fill="#bcbcbc"/>
<rect x="47.4" y="864.9" width="4.8" height="1.8" fill="#a2a2a2"/>
<text x="46.0" y="873.3" font-size="18.3" text-anchor="end">80</text>
<rect x="67.4" y="877.7" width="1.8" height="3.2" fill="#b0b0b0"/>
<text x="68.3" y="898.9" font-size="18.3" text-anchor="middle">0.0</text>
<rect x="122.3" y="877.7" width="1.8" height="3.2" fill="#b0b0b0"/>
<text x="123.2" y="898.9" font-size="18.3" text-anchor="middle">0.1</text>
<rect x="177.2" y="877.7" width="1.8" height="3.2" fill="#b0b0b0"/>
<text x="178.1" y="898.9" font-size="18.3" text-anchor="middle">0.2</text>
<rect x="232.4" y="877.7" width="1.8" height="3.2" fill="#b0b0b0"/>
<text x="233.3" y="898.9" font-size="18.3" text-anchor="middle">0.3</text>
<rect x="287.4" y="877.7" width="1.8" height="3.2" fill="#b0b0b0"/>
<text x="288.3" y="898.9" font-size="18.3" text-anchor="middle">0.4</text>
<rect x="342.3" y="877.7" width="1.8" height="3.2" fill="#b0b0b0"/>
<text x="343.2" y="898.9" font-size="18.3" text-anchor="middle">0.5</text>
<rect x="51.9" y="640.2" width="2.2" height="238.0" fill="#3a3a3a"/>
<rect x="51.9" y="876.0" width="306.7" height="2.2" fill="#3a3a3a"/>
<line x1="53.4" y1="731.6" x2="358.6" y2="829.3" stroke="#2e2e2e" stroke-width="2.3"/>
<g fill="#0a0a0a"><circle cx="93.8" cy="668.1" r="2.00"/><circle cx="86.4" cy="690.7" r="2.00"/><circle cx="124.4" cy="700.2" r="2.00"/><circle cx="70.7" cy="714.4" r="2.00"/><circle cx="87.3" cy="717.4" r="2.00"/><circle cx="90.0" cy="718.9" r="2.00"/><circle cx="73.9" cy="725.1" r="2.00"/><circle cx="130.6" cy="736.7" r="2.00"/><circle cx="141.3" cy="739.0" r="2.00"/><circle cx="139.5" cy="742.0" r="2.00"/><circle cx="95.3" cy="742.3" r="2.00"/><circle cx="157.6" cy="744.4" r="2.00"/><circle cx="216.1" cy="748.0" r="2.00"/><circle cx="73.0" cy="754.2" r="2.00"/><circle cx="116.7" cy="751.8" r="2.00"/><circle cx="145.2" cy="760.1" r="2.00"/><circle cx="296.9" cy="761.0" r="2.00"/><circle cx="244.3" cy="764.0" r="2.00"/><circle cx="228.6" cy="766.7" r="2.00"/><circle cx="200.7" cy="773.2" r="2.00"/><circle cx="197.1" cy="775.3" r="2.00"/><circle cx="249.7" cy="776.8" r="2.00"/><circle cx="69.2" cy="787.1" r="2.00"/><circle cx="123.2" cy="791.6" r="2.00"/><circle cx="136.6" cy="789.2" r="2.00"/><circle cx="233.6" cy="805.8" r="2.00"/><circle cx="240.8" cy="805.8" r="2.00"/><circle cx="95.3" cy="820.4" r="2.00"/><circle cx="325.4" cy="821.9" r="2.00"/><circle cx="325.4" cy="824.2" r="2.00"/><circle cx="250.3" cy="826.9" r="2.00"/><circle cx="158.2" cy="830.8" r="2.00"/><circle cx="269.3" cy="841.2" r="2.00"/><circle cx="141.0" cy="853.0" r="2.00"/></g>
<text transform="translate(13.8,762.7) rotate(-90)" font-size="18.5" text-anchor="middle">Shift Cost (ms)</text>
<text x="358.6" y="677.9" font-size="23.2" text-anchor="end">L vPPC</text>
<text x="243.2" y="677.9" font-size="23" font-weight="bold" text-anchor="start" style="stroke-width:0">***</text>
</g>
<g>
<rect x="47.4" y="937.9" width="4.8" height="1.8" fill="#a2a2a2"/>
<text x="46.0" y="946.5" font-size="18.3" text-anchor="end">200</text>
<rect x="47.4" y="973.8" width="4.8" height="1.2" fill="#bcbcbc"/>
<rect x="47.4" y="1009.1" width="4.8" height="1.8" fill="#a2a2a2"/>
<text x="46.0" y="1017.7" font-size="18.3" text-anchor="end">160</text>
<rect x="47.4" y="1045.3" width="4.8" height="1.2" fill="#bcbcbc"/>
<rect x="47.4" y="1080.9" width="4.8" height="1.8" fill="#a2a2a2"/>
<text x="46.0" y="1089.5" font-size="18.3" text-anchor="end">120</text>
<rect x="47.4" y="1117.0" width="4.8" height="1.2" fill="#bcbcbc"/>
<rect x="47.4" y="1152.5" width="4.8" height="1.8" fill="#a2a2a2"/>
<text x="46.0" y="1161.1" font-size="18.3" text-anchor="end">80</text>
<rect x="67.4" y="1165.9" width="1.8" height="2.2" fill="#c0c0c0"/>
<text x="68.3" y="1185.6" font-size="18.3" text-anchor="middle">0.0</text>
<rect x="113.1" y="1165.9" width="1.8" height="2.2" fill="#c0c0c0"/>
<text x="114.0" y="1185.6" font-size="18.3" text-anchor="middle">0.1</text>
<rect x="158.8" y="1165.9" width="1.8" height="2.2" fill="#c0c0c0"/>
<text x="159.7" y="1185.6" font-size="18.3" text-anchor="middle">0.2</text>
<rect x="204.8" y="1165.9" width="1.8" height="2.2" fill="#c0c0c0"/>
<text x="205.7" y="1185.6" font-size="18.3" text-anchor="middle">0.3</text>
<rect x="250.6" y="1165.9" width="1.8" height="2.2" fill="#c0c0c0"/>
<text x="251.5" y="1185.6" font-size="18.3" text-anchor="middle">0.4</text>
<rect x="296.3" y="1165.9" width="1.8" height="2.2" fill="#c0c0c0"/>
<text x="297.2" y="1185.6" font-size="18.3" text-anchor="middle">0.5</text>
<rect x="342.3" y="1165.9" width="1.8" height="2.2" fill="#c0c0c0"/>
<text x="343.2" y="1185.6" font-size="18.3" text-anchor="middle">0.6</text>
<rect x="51.9" y="928.4" width="2.2" height="238.0" fill="#3a3a3a"/>
<rect x="51.9" y="1164.2" width="306.7" height="2.2" fill="#3a3a3a"/>
<line x1="53.4" y1="1024.2" x2="358.6" y2="1134.1" stroke="#2e2e2e" stroke-width="2.3"/>
<g fill="#0a0a0a"><circle cx="68.9" cy="955.7" r="2.00"/><circle cx="117.3" cy="977.9" r="2.00"/><circle cx="111.6" cy="987.4" r="2.00"/><circle cx="86.1" cy="1002.0" r="2.00"/><circle cx="96.5" cy="1004.7" r="2.00"/><circle cx="70.1" cy="1006.1" r="2.00"/><circle cx="68.6" cy="1012.4" r="2.00"/><circle cx="74.8" cy="1024.2" r="2.00"/><circle cx="114.6" cy="1026.3" r="2.00"/><circle cx="84.0" cy="1029.3" r="2.00"/><circle cx="74.2" cy="1031.1" r="2.00"/><circle cx="147.8" cy="1032.0" r="2.00"/><circle cx="155.6" cy="1029.9" r="2.00"/><circle cx="210.5" cy="1035.5" r="2.00"/><circle cx="81.6" cy="1039.4" r="2.00"/><circle cx="97.1" cy="1041.5" r="2.00"/><circle cx="114.9" cy="1048.0" r="2.00"/><circle cx="168.9" cy="1048.6" r="2.00"/><circle cx="173.7" cy="1054.2" r="2.00"/><circle cx="211.1" cy="1051.6" r="2.00"/><circle cx="118.5" cy="1060.5" r="2.00"/><circle cx="158.2" cy="1064.0" r="2.00"/><circle cx="161.2" cy="1062.5" r="2.00"/><circle cx="68.0" cy="1074.4" r="2.00"/><circle cx="108.1" cy="1079.2" r="2.00"/><circle cx="137.8" cy="1076.8" r="2.00"/><circle cx="165.1" cy="1076.5" r="2.00"/><circle cx="133.0" cy="1093.7" r="2.00"/><circle cx="225.6" cy="1093.4" r="2.00"/><circle cx="91.1" cy="1107.7" r="2.00"/><circle cx="271.0" cy="1108.9" r="2.00"/><circle cx="163.3" cy="1112.1" r="2.00"/><circle cx="343.5" cy="1114.5" r="2.00"/><circle cx="88.2" cy="1118.4" r="2.00"/><circle cx="133.0" cy="1129.0" r="2.00"/><circle cx="214.0" cy="1140.6" r="2.00"/></g>
<text transform="translate(13.8,1050.6) rotate(-90)" font-size="18.5" text-anchor="middle">Shift Cost (ms)</text>
<text x="358.6" y="964.0" font-size="23.2" text-anchor="end">L dPPC</text>
<text x="240.2" y="964.0" font-size="23" font-weight="bold" text-anchor="start" style="stroke-width:0">***</text>
</g>
<g>
<rect x="966.3" y="362.2" width="3.6" height="1.8" fill="#a2a2a2"/>
<text x="964.9" y="370.6" font-size="18.3" text-anchor="end">200</text>
<rect x="966.3" y="398.3" width="3.6" height="1.2" fill="#bcbcbc"/>
<rect x="966.3" y="433.8" width="3.6" height="1.8" fill="#a2a2a2"/>
<text x="964.9" y="442.2" font-size="18.3" text-anchor="end">160</text>
<rect x="966.3" y="470.3" width="3.6" height="1.2" fill="#bcbcbc"/>
<rect x="966.3" y="506.2" width="3.6" height="1.8" fill="#a2a2a2"/>
<text x="964.9" y="514.6" font-size="18.3" text-anchor="end">120</text>
<rect x="966.3" y="542.6" width="3.6" height="1.2" fill="#bcbcbc"/>
<rect x="966.3" y="578.4" width="3.6" height="1.8" fill="#a2a2a2"/>
<text x="964.9" y="586.8" font-size="18.3" text-anchor="end">80</text>
<rect x="984.9" y="591.1" width="1.8" height="3.0" fill="#b0b0b0"/>
<text x="985.8" y="612.3" font-size="18.3" text-anchor="middle">0.0</text>
<rect x="1053.8" y="591.1" width="1.8" height="3.0" fill="#b0b0b0"/>
<text x="1054.7" y="612.3" font-size="18.3" text-anchor="middle">0.1</text>
<rect x="1122.9" y="591.1" width="1.8" height="3.0" fill="#b0b0b0"/>
<text x="1123.8" y="612.3" font-size="18.3" text-anchor="middle">0.2</text>
<rect x="1192.1" y="591.1" width="1.8" height="3.0" fill="#b0b0b0"/>
<text x="1193.0" y="612.3" font-size="18.3" text-anchor="middle">0.3</text>
<rect x="1261.3" y="591.1" width="1.8" height="3.0" fill="#b0b0b0"/>
<text x="1262.2" y="612.3" font-size="18.3" text-anchor="middle">0.4</text>
<rect x="969.6" y="351.2" width="2.2" height="240.4" fill="#3a3a3a"/>
<rect x="969.6" y="589.4" width="307.5" height="2.2" fill="#3a3a3a"/>
<line x1="970.7" y1="454.6" x2="1277.0" y2="548.7" stroke="#9a9a9a" stroke-width="2.3"/>
<g fill="#0a0a0a"><circle cx="1043.4" cy="380.0" r="1.90"/><circle cx="985.8" cy="402.0" r="1.90"/><circle cx="988.2" cy="411.8" r="1.90"/><circle cx="988.2" cy="427.0" r="1.90"/><circle cx="990.0" cy="430.2" r="1.90"/><circle cx="1003.6" cy="436.8" r="1.90"/><circle cx="985.5" cy="449.2" r="1.90"/><circle cx="985.8" cy="450.7" r="1.90"/><circle cx="991.1" cy="454.0" r="1.90"/><circle cx="1018.5" cy="454.3" r="1.90"/><circle cx="1038.3" cy="455.5" r="1.90"/><circle cx="1065.4" cy="456.6" r="1.90"/><circle cx="1000.0" cy="459.9" r="1.90"/><circle cx="989.4" cy="464.1" r="1.90"/><circle cx="1017.0" cy="466.7" r="1.90"/><circle cx="1090.0" cy="472.7" r="1.90"/><circle cx="1117.6" cy="473.3" r="1.90"/><circle cx="990.8" cy="475.9" r="1.90"/><circle cx="1068.6" cy="478.9" r="1.90"/><circle cx="1033.0" cy="485.1" r="1.90"/><circle cx="1112.9" cy="487.2" r="1.90"/><circle cx="1189.5" cy="489.0" r="1.90"/><circle cx="992.9" cy="499.7" r="1.90"/><circle cx="1002.4" cy="501.2" r="1.90"/><circle cx="1045.5" cy="501.5" r="1.90"/><circle cx="1135.7" cy="503.8" r="1.90"/><circle cx="990.8" cy="518.1" r="1.90"/><circle cx="1209.0" cy="518.4" r="1.90"/><circle cx="986.1" cy="532.6" r="1.90"/><circle cx="1212.3" cy="534.1" r="1.90"/><circle cx="1057.6" cy="537.1" r="1.90"/><circle cx="1159.2" cy="539.2" r="1.90"/><circle cx="1136.3" cy="543.0" r="1.90"/><circle cx="989.4" cy="553.7" r="1.90"/><circle cx="1255.4" cy="565.6" r="1.90"/></g>
<text transform="translate(931.6,474.2) rotate(-90)" font-size="18.5" text-anchor="middle">Shift Cost (ms)</text>
<text x="1276.6" y="386.0" font-size="23.2" text-anchor="end">R Premotor</text>
<text x="1117.3" y="386.0" font-size="23" font-weight="bold" text-anchor="start" style="stroke-width:0">***</text>
</g>
<g>
<rect x="966.9" y="649.7" width="3.0" height="1.8" fill="#a2a2a2"/>
<text x="966.9" y="658.8" font-size="18.3" text-anchor="end">200</text>
<rect x="966.9" y="685.9" width="3.0" height="1.2" fill="#bcbcbc"/>
<rect x="966.9" y="721.5" width="3.0" height="1.8" fill="#a2a2a2"/>
<text x="966.9" y="730.6" font-size="18.3" text-anchor="end">160</text>
<rect x="966.9" y="757.7" width="3.0" height="1.2" fill="#bcbcbc"/>
<rect x="966.9" y="793.4" width="3.0" height="1.8" fill="#a2a2a2"/>
<text x="966.9" y="802.5" font-size="18.3" text-anchor="end">120</text>
<rect x="966.9" y="829.6" width="3.0" height="1.2" fill="#bcbcbc"/>
<rect x="966.9" y="865.2" width="3.0" height="1.8" fill="#a2a2a2"/>
<text x="966.9" y="874.3" font-size="18.3" text-anchor="end">80</text>
<rect x="984.9" y="877.7" width="1.8" height="3.6" fill="#aaaaaa"/>
<text x="985.8" y="900.4" font-size="18.3" text-anchor="middle">0.0</text>
<rect x="1030.8" y="877.7" width="1.7" height="3.6" fill="#aaaaaa"/>
<rect x="1076.6" y="877.7" width="1.8" height="3.6" fill="#aaaaaa"/>
<text x="1077.5" y="900.4" font-size="18.3" text-anchor="middle">0.1</text>
<rect x="1122.5" y="877.7" width="1.7" height="3.6" fill="#aaaaaa"/>
<rect x="1168.4" y="877.7" width="1.8" height="3.6" fill="#aaaaaa"/>
<text x="1169.3" y="900.4" font-size="18.3" text-anchor="middle">0.2</text>
<rect x="1214.3" y="877.7" width="1.7" height="3.6" fill="#aaaaaa"/>
<rect x="1260.1" y="877.7" width="1.8" height="3.6" fill="#aaaaaa"/>
<text x="1261.0" y="900.4" font-size="18.3" text-anchor="middle">0.3</text>
<rect x="969.6" y="640.2" width="2.2" height="238.0" fill="#3a3a3a"/>
<rect x="969.6" y="876.0" width="307.5" height="2.2" fill="#3a3a3a"/>
<line x1="970.7" y1="739.3" x2="1277.0" y2="847.4" stroke="#2e2e2e" stroke-width="2.3"/>
<g fill="#0a0a0a"><circle cx="1010.1" cy="668.1" r="1.90"/><circle cx="987.0" cy="690.4" r="1.90"/><circle cx="990.8" cy="700.2" r="1.90"/><circle cx="999.8" cy="714.4" r="1.90"/><circle cx="986.7" cy="717.1" r="1.90"/><circle cx="987.0" cy="718.3" r="1.90"/><circle cx="994.4" cy="724.8" r="1.90"/><circle cx="1057.0" cy="736.7" r="1.90"/><circle cx="1012.2" cy="738.8" r="1.90"/><circle cx="1016.7" cy="742.0" r="1.90"/><circle cx="987.6" cy="742.0" r="1.90"/><circle cx="997.7" cy="743.2" r="1.90"/><circle cx="1070.1" cy="744.4" r="1.90"/><circle cx="1050.2" cy="748.0" r="1.90"/><circle cx="1033.6" cy="751.8" r="1.90"/><circle cx="990.8" cy="754.5" r="1.90"/><circle cx="987.9" cy="761.0" r="1.90"/><circle cx="1019.0" cy="760.4" r="1.90"/><circle cx="1016.4" cy="763.7" r="1.90"/><circle cx="1045.5" cy="766.4" r="1.90"/><circle cx="1074.9" cy="773.2" r="1.90"/><circle cx="1051.4" cy="775.0" r="1.90"/><circle cx="1158.3" cy="776.8" r="1.90"/><circle cx="1025.0" cy="787.1" r="1.90"/><circle cx="1076.6" cy="789.2" r="1.90"/><circle cx="1150.9" cy="789.5" r="1.90"/><circle cx="1117.0" cy="791.3" r="1.90"/><circle cx="1002.1" cy="805.8" r="1.90"/><circle cx="1144.0" cy="806.1" r="1.90"/><circle cx="1045.5" cy="820.4" r="1.90"/><circle cx="1251.2" cy="821.6" r="1.90"/><circle cx="1058.8" cy="824.5" r="1.90"/><circle cx="1190.9" cy="826.9" r="1.90"/><circle cx="988.2" cy="830.8" r="1.90"/><circle cx="986.4" cy="841.5" r="1.90"/><circle cx="1190.0" cy="853.0" r="1.90"/></g>
<text transform="translate(931.6,761.3) rotate(-90)" font-size="18.5" text-anchor="middle">Shift Cost (ms)</text>
<text x="1276.6" y="677.9" font-size="23.2" text-anchor="end">R vPPC</text>
<text x="1154.4" y="677.9" font-size="23" font-weight="bold" text-anchor="start" style="stroke-width:0">***</text>
</g>
<g>
<rect x="965.7" y="937.9" width="4.2" height="1.8" fill="#a2a2a2"/>
<text x="965.4" y="946.1" font-size="18.3" text-anchor="end">200</text>
<rect x="965.7" y="973.8" width="4.2" height="1.2" fill="#bcbcbc"/>
<rect x="965.7" y="1009.1" width="4.2" height="1.8" fill="#a2a2a2"/>
<text x="965.4" y="1017.4" font-size="18.3" text-anchor="end">160</text>
<rect x="965.7" y="1045.3" width="4.2" height="1.2" fill="#bcbcbc"/>
<rect x="965.7" y="1080.9" width="4.2" height="1.8" fill="#a2a2a2"/>
<text x="965.4" y="1089.2" font-size="18.3" text-anchor="end">120</text>
<rect x="965.7" y="1117.0" width="4.2" height="1.2" fill="#bcbcbc"/>
<rect x="965.7" y="1152.5" width="4.2" height="1.8" fill="#a2a2a2"/>
<text x="965.4" y="1160.8" font-size="18.3" text-anchor="end">80</text>
<rect x="984.9" y="1165.9" width="1.8" height="3.2" fill="#b0b0b0"/>
<text x="985.8" y="1190.7" font-size="18.3" text-anchor="middle">0.0</text>
<rect x="1040.1" y="1165.9" width="1.8" height="3.2" fill="#b0b0b0"/>
<text x="1041.0" y="1190.7" font-size="18.3" text-anchor="middle">0.05</text>
<rect x="1095.0" y="1165.9" width="1.8" height="3.2" fill="#b0b0b0"/>
<text x="1095.9" y="1190.7" font-size="18.3" text-anchor="middle">0.1</text>
<rect x="1150.3" y="1165.9" width="1.8" height="3.2" fill="#b0b0b0"/>
<text x="1151.2" y="1190.7" font-size="18.3" text-anchor="middle">0.15</text>
<rect x="1205.2" y="1165.9" width="1.8" height="3.2" fill="#b0b0b0"/>
<text x="1206.1" y="1190.7" font-size="18.3" text-anchor="middle">0.20</text>
<rect x="1260.1" y="1165.9" width="1.8" height="3.2" fill="#b0b0b0"/>
<text x="1261.0" y="1190.7" font-size="18.3" text-anchor="middle">0.25</text>
<rect x="969.6" y="928.4" width="2.2" height="238.0" fill="#3a3a3a"/>
<rect x="969.6" y="1164.2" width="307.5" height="2.2" fill="#3a3a3a"/>
<line x1="970.7" y1="1022.2" x2="1277.0" y2="1153.1" stroke="#2e2e2e" stroke-width="2.3"/>
<g fill="#0a0a0a"><circle cx="987.0" cy="955.7" r="1.90"/><circle cx="986.1" cy="977.9" r="1.90"/><circle cx="1000.9" cy="987.4" r="1.90"/><circle cx="986.1" cy="1002.0" r="1.90"/><circle cx="986.1" cy="1006.1" r="1.90"/><circle cx="1039.2" cy="1004.4" r="1.90"/><circle cx="990.5" cy="1012.4" r="1.90"/><circle cx="1045.5" cy="1024.2" r="1.90"/><circle cx="986.1" cy="1026.6" r="1.90"/><circle cx="986.1" cy="1029.0" r="1.90"/><circle cx="994.7" cy="1031.1" r="1.90"/><circle cx="1019.9" cy="1029.3" r="1.90"/><circle cx="1054.1" cy="1032.0" r="1.90"/><circle cx="1056.5" cy="1035.2" r="1.90"/><circle cx="993.8" cy="1039.4" r="1.90"/><circle cx="1078.1" cy="1041.8" r="1.90"/><circle cx="988.2" cy="1048.0" r="1.90"/><circle cx="1003.3" cy="1048.3" r="1.90"/><circle cx="1011.0" cy="1054.2" r="1.90"/><circle cx="1072.8" cy="1051.3" r="1.90"/><circle cx="986.1" cy="1060.5" r="1.90"/><circle cx="1035.1" cy="1062.2" r="1.90"/><circle cx="1066.2" cy="1064.0" r="1.90"/><circle cx="1052.0" cy="1078.9" r="1.90"/><circle cx="1068.9" cy="1076.5" r="1.90"/><circle cx="1124.1" cy="1076.8" r="1.90"/><circle cx="1210.5" cy="1074.4" r="1.90"/><circle cx="988.2" cy="1093.4" r="1.90"/><circle cx="1178.5" cy="1093.1" r="1.90"/><circle cx="1098.3" cy="1107.7" r="1.90"/><circle cx="1145.2" cy="1108.9" r="1.90"/><circle cx="1112.6" cy="1112.1" r="1.90"/><circle cx="1115.8" cy="1114.5" r="1.90"/><circle cx="1082.0" cy="1118.4" r="1.90"/><circle cx="987.6" cy="1128.8" r="1.90"/><circle cx="1167.5" cy="1140.6" r="1.90"/></g>
<text transform="translate(931.6,1049.1) rotate(-90)" font-size="18.5" text-anchor="middle">Shift Cost (ms)</text>
<text x="1276.6" y="964.0" font-size="23.2" text-anchor="end">R dPPC</text>
<text x="1153.6" y="964.0" font-size="23" font-weight="bold" text-anchor="start" style="stroke-width:0">***</text>
</g>
<text x="208" y="1207.5" font-size="18.5" text-anchor="middle">Functional Connectivity (R<tspan font-size="11.5" dy="-6.5">2</tspan><tspan dy="6.5">)</tspan></text>
<text x="1128" y="1207.5" font-size="18.5" text-anchor="middle">Functional Connectivity (R<tspan font-size="11.5" dy="-6.5">2</tspan><tspan dy="6.5">)</tspan></text>


</svg></body></html>
